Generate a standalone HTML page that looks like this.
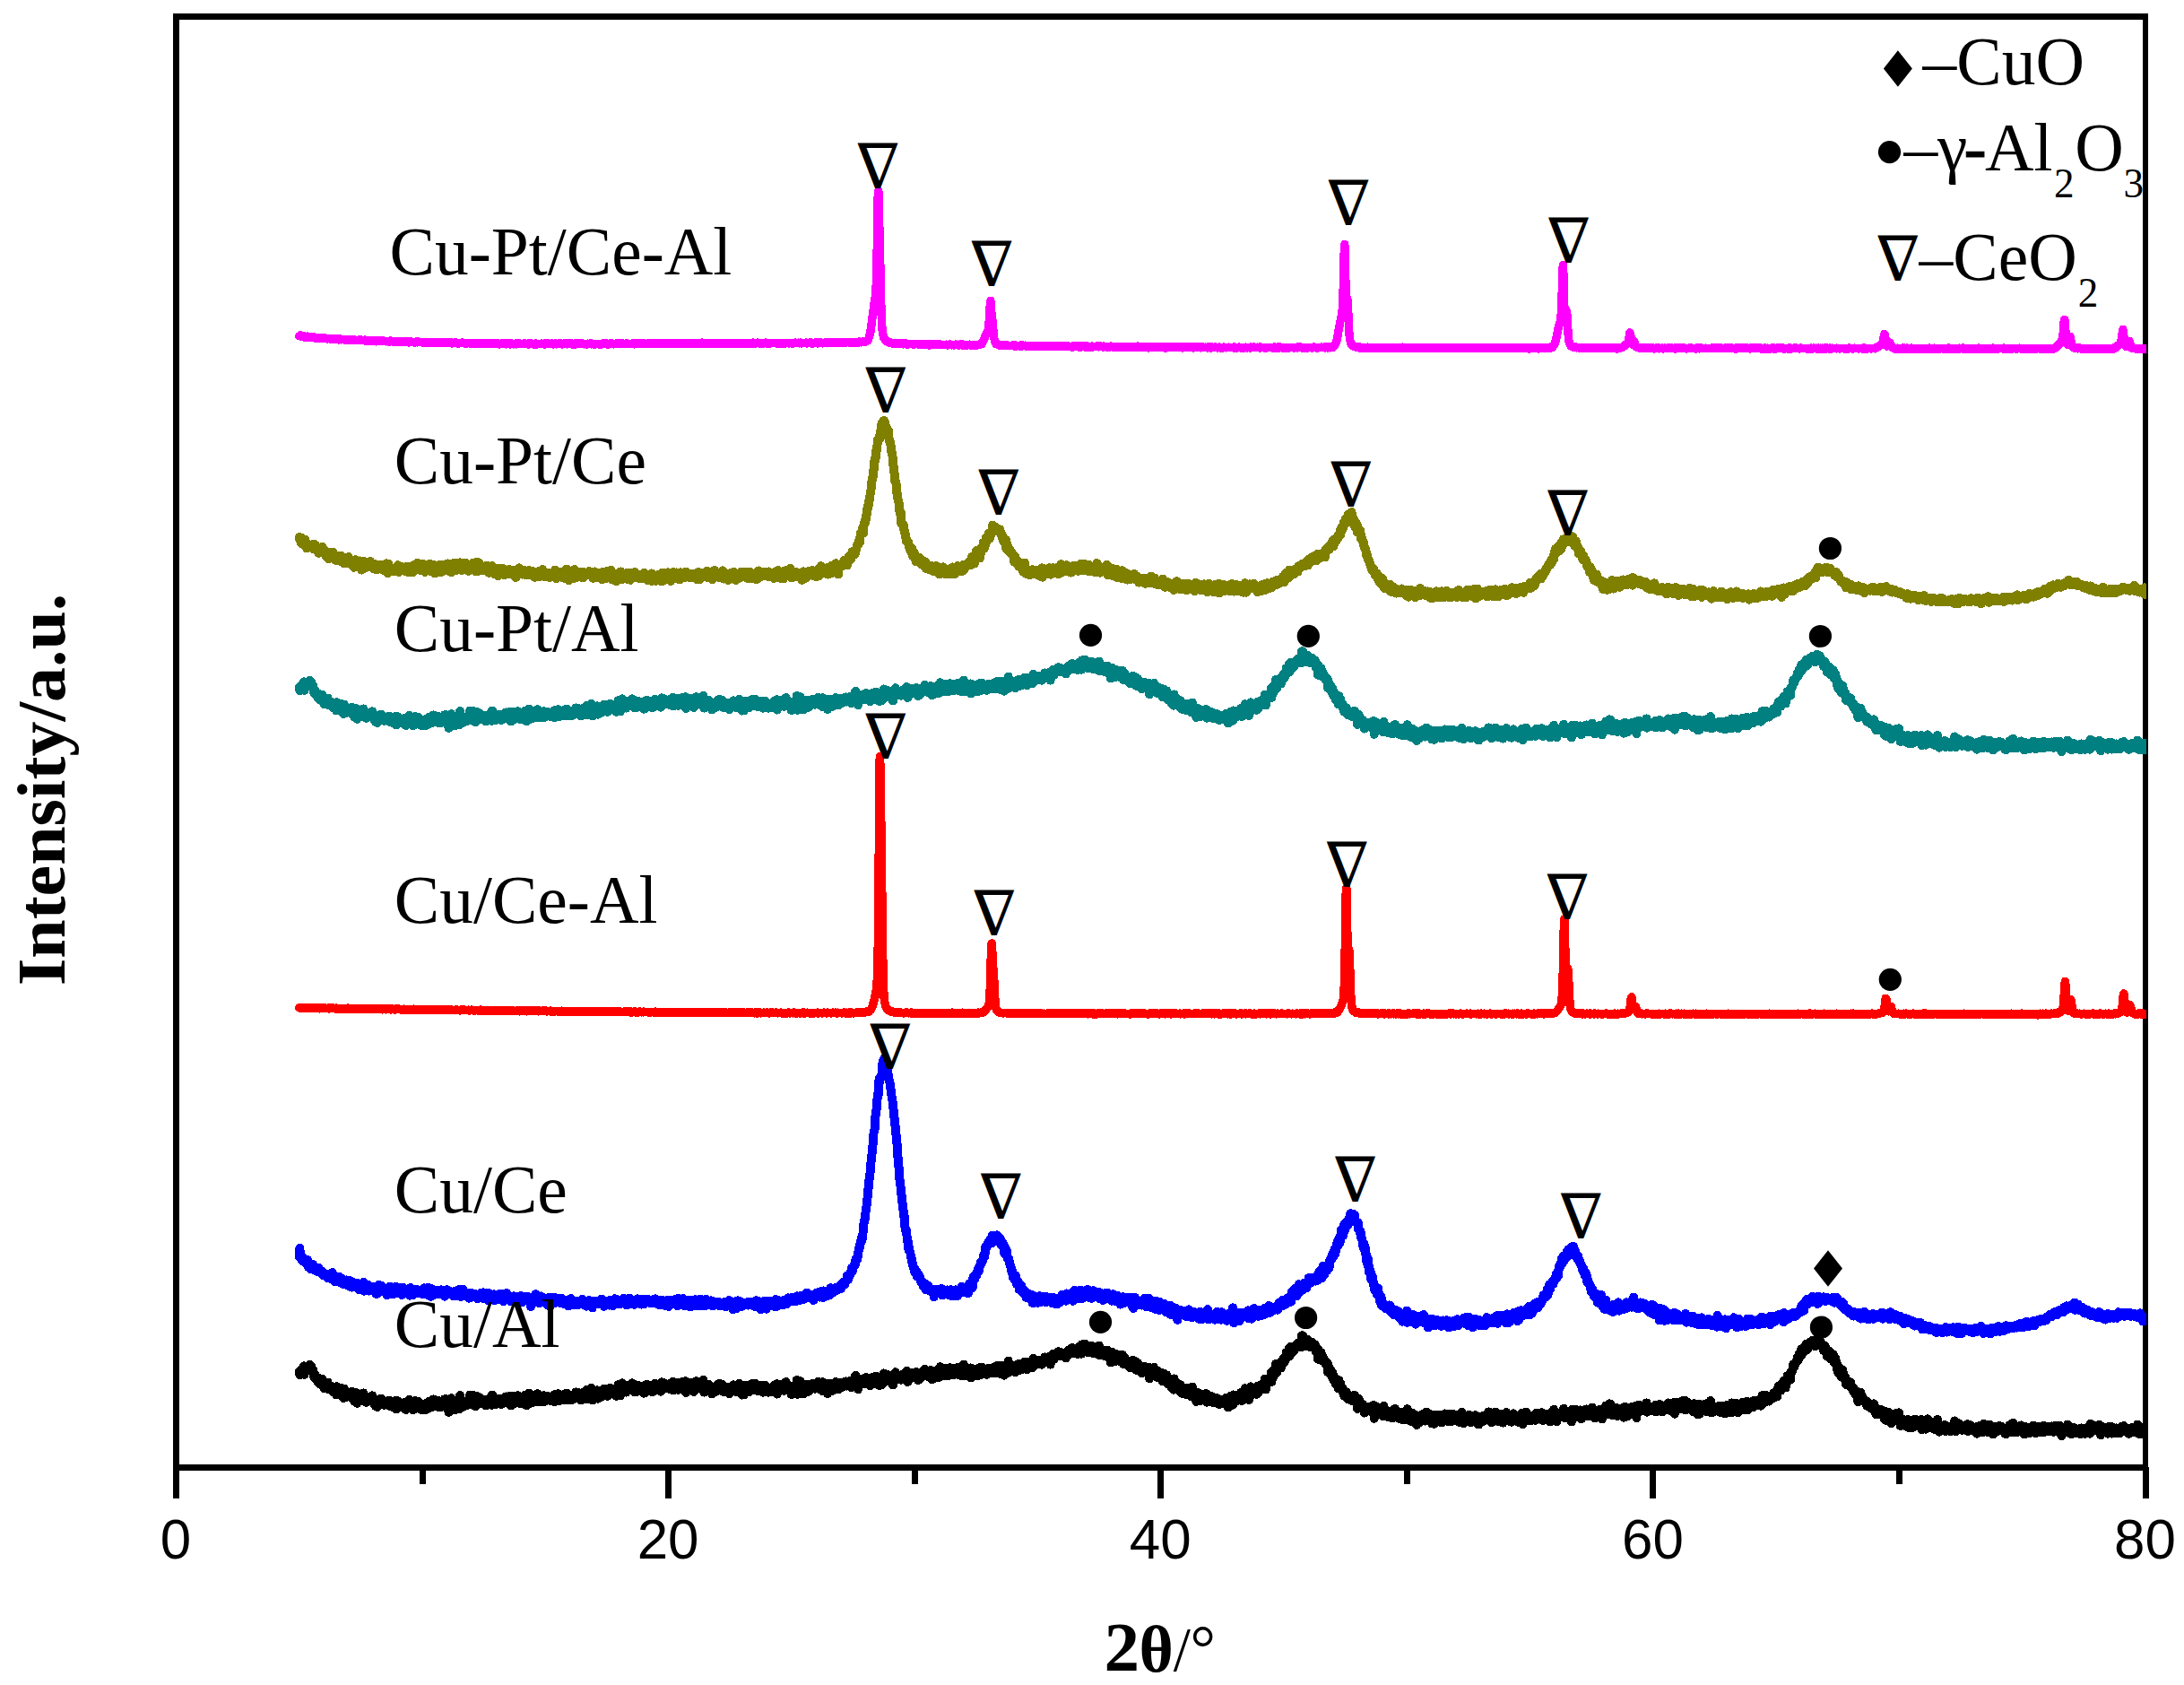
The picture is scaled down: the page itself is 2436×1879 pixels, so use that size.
<!DOCTYPE html>
<html><head><meta charset="utf-8"><title>XRD patterns</title><style>html,body{margin:0;padding:0;background:#fff}svg{display:block}</style></head><body>
<svg width="2436" height="1879" viewBox="0 0 2436 1879">
<rect width="2436" height="1879" fill="#fff"/>
<g stroke="#000" stroke-width="7" fill="none" shape-rendering="crispEdges">
<path d="M196.4 15V1640" stroke-width="6.9"/><path d="M193 18.45H2396" stroke-width="6.9"/><path d="M2392.95 15V1640" stroke-width="6.2"/><path d="M193 1636.45H2396" stroke-width="7.3"/>
<line x1="196.5" y1="1636" x2="196.5" y2="1671"/>
<line x1="471.1" y1="1636" x2="471.1" y2="1655"/>
<line x1="745.6" y1="1636" x2="745.6" y2="1671"/>
<line x1="1020.2" y1="1636" x2="1020.2" y2="1655"/>
<line x1="1294.8" y1="1636" x2="1294.8" y2="1671"/>
<line x1="1569.3" y1="1636" x2="1569.3" y2="1655"/>
<line x1="1843.9" y1="1636" x2="1843.9" y2="1671"/>
<line x1="2118.4" y1="1636" x2="2118.4" y2="1655"/>
<line x1="2393.0" y1="1636" x2="2393.0" y2="1671"/>
</g>
<clipPath id="cp"><rect x="190" y="12" width="2204" height="1630"/></clipPath>
<g fill="none" stroke-linejoin="round" stroke-linecap="round" shape-rendering="crispEdges" clip-path="url(#cp)">
<path id="al" d="M333.8 766.6l.6 3.7l.5-.4l.6-5l.5 .5l.6-.7l.5 2.9l.6-1.9l.5 2.1l.6-7.5l.5 9.4l.6-4.9l.5 1.8l.6-2.9l.5-1.4l.6 1.5l.5 .3l.6-3.5l.5 0l.6 2.6l.5-3.7l.6-.8l.5 6.4l.6-1.9l.5-2.6l.6 3.9l.5 1.7l.6-1.2l.5-.1l.6 5l.5 3.1l.6-2.5l.5-.8l.6 3.8l.5 1.6l.6-2.3l.5 3l.6 2l.5-2.9l.6-1.2l.5 3.9l.6 .2l.5 2.9l.6-6.1l.5 2.2l.6 0l.5-2l.6 5.6l.5 1.5l.6-3.1l.5 6.3l.6-1.3l.5-.2l.6-.3l.5 1.9l.6-6.1l.5 5.7l.6 .2l.5-6.3l.6 6.2l.5-1.4l.6 3.1l.5-3.2l.6 1.4l.5 1.3l.6-3.2l.5 4.4l.6-1.8l.5 1.9l.6-2.6l.5 4.7l.6-1.1l.5-2l.6 2.5l.5 1.9l.6 1.7l.5-9.2l.6 7.1l.5-1l.6-1.3l.5-2.4l.6 6.5l.5-6.8l.6 5.3l.5 2.2l.6-7.9l.5 3.8l.6-2.6l.5 4.5l.6 3.7l.5 1.6l.6-10.5l.5 3.6l.6 3.7l.5 2.6l.6-3l.5-3.2l.6 3.1l.5-.7l.6-.3l.5-1.4l.6 3.3l.5 0l.6-1l.5-.2l.6-2.8l.5 2.4l.6 4.9l.5-3.8l.6-3.3l.5 7.9l.6-2.1l.5 4.5l.6-5.5l.5-1.4l.6-2.6l.5 7.9l.6 3.7l.5-9.4l.6 .6l.5 3.7l.6-3.9l.5 1.7l.6-.1l.5 1.7l.6 2.7l.5-2.9l.6 2.6l.5-3.6l.6 2.3l.5-6.8l.6 2l.5 6.5l.6-3.8l.5 3.4l.6 .1l.5 2.3l.6-1.3l.5 .7l.6-3.1l.5-1.5l.6 .1l.5 .8l.6-1.7l.5 1.8l.6 1.4l.5 1.1l.6-1.6l.5-4.3l.6 5.3l.5 1l.6 2.5l.5-1.3l.6-3.3l.5-.1l.6 7.8l.5-3.4l.6 3.1l.5 1l.6-8.1l.5 3.4l.6 .3l.5 .4l.6 .1l.5-.9l.6 .1l.5-4.6l.6 3.8l.5-1.5l.6 2.5l.5-1.5l.6 3.1l.5 .7l.6-1.3l.5 .1l.6-.5l.5-1.5l.6 .9l.5-.8l.6 2.6l.5-1l.6 1.7l.5-5.3l.6 6.3l.5-4.5l.6 .2l.5 1.6l.6-1l.5 2.5l.6-2.4l.5-1.3l.6 .7l.5 6.1l.6-3.5l.5-3.3l.6 3.3l.5-4.3l.6 9.4l.5-9.2l.6 5.7l.5 .2l.6-5.5l.5 4.9l.6 2l.5-1.4l.6-.6l.5 2l.6-2.2l.5 .6l.6-1.3l.5 2.2l.6-4.4l.5 4.9l.6-3.6l.5-1.6l.6 4.1l.5 3.8l.6-2l.5-4.1l.6 3.4l.5-3.2l.6 1l.5 .6l.6-6.7l.5 7l.6-3.4l.5 .9l.6-2.1l.5-.1l.6 1.6l.5 4.9l.6 2.4l.5-4.8l.6 3.1l.5-3.8l.6-4.6l.5 5.8l.6 .8l.5-2.5l.6 2l.5 .7l.6-4l.5-1.8l.6 3.5l.5 0l.6-.4l.5 3.7l.6 2l.5-6l.6 3l.5 .7l.6-.7l.5 .9l.6-4.1l.5 3.1l.6 3.6l.5-3.5l.6-4.1l.5 3.4l.6 1.8l.5-2.6l.6-2.6l.5 5.8l.6-7.9l.5 4.9l.6-1.5l.5-3.4l.6 6.7l.5-2.5l.6-4.3l.5 4.9l.6-2.9l.5-4.2l.6 3.3l.5 2.7l.6 .9l.5-1.3l.6-.4l.5 1.1l.6-1.9l.5 3.8l.6-2.9l.5 .3l.6 .7l.5-4.5l.6 .9l.5 6.2l.6-3.3l.5-1.8l.6 1.7l.5-2.3l.6 2.1l.5-2.7l.6 2.6l.5-5.2l.6 8.1l.5-5.2l.6-3l.5 3.7l.6-.4l.5 1.4l.6-3.6l.5 4.2l.6 9.1l.5-13.8l.6 4.5l.5-1.9l.6 1.4l.5-5.6l.6 1.8l.5 4.5l.6-1.4l.5 4.6l.6-6.6l.5 2.5l.6 7.6l.5-10.3l.6-.4l.5 2.4l.6-.1l.5 2.5l.6-2.1l.5-2.5l.6 2.7l.5 6.8l.6-3.9l.5-11.3l.6 7.3l.5-2.1l.6 4.2l.5-2.2l.6 5.8l.5-2.8l.6-.1l.5-2l.6-.7l.5 1l.6 2.7l.5-2.2l.6-2.5l.5 4.5l.6-3l.5-.8l.6-2l.5 .6l.6-.2l.5-6.1l.6 10.6l.5-1.2l.6-2.3l.5 3.6l.6-1.8l.5-.2l.6-8l.5 6.3l.6 2.1l.5 3l.6 .6l.5-1.2l.6-7.3l.5-2.9l.6 7.7l.5-1.5l.6 2.6l.5-3.1l.6 1l.5-4.9l.6 5.5l.5-2.6l.6 2.2l.5 .3l.6-1.6l.5 1.2l.6-1l.5 2.2l.6-.8l.5-2.9l.6-.2l.5 6.5l.6-5.2l.5 3.1l.6-1.7l.5-2.7l.6-.6l.5 2.4l.6 .4l.5 1l.6-5.3l.5 1.8l.6 1.4l.5 4.7l.6-11.1l.5 7.8l.6-2.7l.5 2.7l.6-2.7l.5 2.4l.6 3.4l.5-3.5l.6 .2l.5-.1l.6-3.2l.5 3.6l.6-2.1l.5-1.8l.6 2.2l.5-.6l.6 2.8l.5-2.3l.6-1.4l.5 5.6l.6-1.4l.5 .8l.6-1.9l.5-2l.6-.9l.5 .4l.6 3.4l.5-2.4l.6-4.5l.5 4.1l.6-3.9l.5 4.4l.6-3.9l.5-.1l.6 3.8l.5-.6l.6-4.4l.5 6.7l.6 4l.5-10.3l.6 9.3l.5-7.1l.6 .5l.5 .9l.6-3.6l.5 7.7l.6-2.3l.5-3.5l.6 1.3l.5-3.5l.6 3.3l.5 3.6l.6-7.5l.5 3.6l.6 1.6l.5 2.5l.6 .8l.5-5.1l.6-.8l.5 3.3l.6-2.3l.5 .1l.6 3.9l.5 1.7l.6-4l.5-1.3l.6 2.1l.5-6.9l.6 5.2l.5-2.9l.6 9.6l.5-4.7l.6-1.6l.5-1l.6-6.5l.5 9l.6 2.5l.5-6.6l.6 3.9l.5 .1l.6-6.4l.5 7l.6 1.1l.5-3.2l.6-.8l.5 2.3l.6-6.5l.5 4.5l.6 2.7l.5-6.5l.6 6.3l.5-4l.6-4.7l.5 5.5l.6-2.4l.5 3.5l.6-4.2l.5 6.2l.6-5l.5 3l.6-2.7l.5 .8l.6 4.2l.5-2.8l.6-1.7l.5-2.5l.6 6.7l.5-1.2l.6-3l.5 1.6l.6-3.6l.5 0l.6 .5l.5 3.2l.6-.1l.5-3l.6 4.1l.5 .1l.6-1.7l.5 2.3l.6-3.7l.5 .5l.6 1.6l.5-1.5l.6 2.3l.5-5.8l.6 7.5l.5-6.3l.6 1.7l.5-3.4l.6 5.5l.5 1.8l.6-.6l.5-.7l.6-6.7l.5 2.1l.6 .9l.5-1.4l.6 5.7l.5-2.6l.6-.7l.5 1.4l.6-4.1l.5 .1l.6 0l.5 3.9l.6-.5l.5 .6l.6 1.4l.5-6.9l.6 2.2l.5 1.9l.6-4.2l.5 2.2l.6 4.3l.5 .2l.6-.1l.5-3l.6-.7l.5 3.5l.6-4.1l.5 2l.6 2.7l.5-4.8l.6-.7l.5 1.6l.6 1.6l.5-.3l.6-1l.5 1.1l.6-6.1l.5 2l.6 2.8l.5-3.1l.6-1.2l.5 .3l.6 .8l.5 2l.6-2.4l.5 3.4l.6 4.1l.5-5.2l.6 3.9l.5-2.8l.6-4l.5 2.3l.6-2l.5 4.8l.6-5.4l.5 6.8l.6-2.1l.5-7.3l.6 7.8l.5 2.1l.6-6.7l.5 5l.6-7.9l.5 5.7l.6-5.4l.5 5.9l.6-6.4l.5-2.4l.6 8.4l.5 5.2l.6-8.2l.5 4l.6-2.1l.5-1.3l.6 2.5l.5 2.8l.6-8.1l.5 4.9l.6-.7l.5-5l.6 8.4l.5 .9l.6-8.2l.5 7.4l.6-4.8l.5-.7l.6 4.6l.5-3.7l.6 .2l.5 3.2l.6-.7l.5-1.2l.6-6.6l.5-.5l.6 7.4l.5-5.8l.6 2.9l.5-3.6l.6 2.4l.5-3.1l.6 8l.5-7.5l.6 2.4l.5-.3l.6 3.8l.5-7.5l.6 3.8l.5-.6l.6 2l.5-.3l.6-2.7l.5 1.8l.6-1.8l.5 2.3l.6-1.7l.5-1.7l.6 1.7l.5 1l.6 5.2l.5-7.8l.6 2.1l.5 3.1l.6-10l.5 .9l.6 1.4l.5 2.9l.6 7.1l.5-5.8l.6 2.2l.5-4.1l.6-6.4l.5 .3l.6 9.3l.5-2.5l.6-4.2l.5 6.7l.6-7.5l.5 7.4l.6 .8l.5-6.3l.6-1l.5 5.3l.6-5.5l.5 5.5l.6-5.9l.5 5.6l.6-2.1l.5-1.5l.6-1.4l.5 3.1l.6-6l.5 4.5l.6-.4l.5 2.9l.6-5.4l.5 8.3l.6-5.8l.5-2.3l.6 7l.5 .8l.6-5.3l.5-2l.6 2.6l.5-2l.6 1l.5 5.2l.6-3.3l.5-.7l.6 .6l.5-1.2l.6 2.5l.5 .1l.6-3.5l.5 1.3l.6 6.4l.5-5.6l.6-1.7l.5 6.2l.6-5.7l.5-3.1l.6 4.9l.5-4.4l.6 1.1l.5 2.3l.6-1.3l.5-1.8l.6 .6l.5-.2l.6 4.9l.5-5.3l.6 .4l.5 7.3l.6-7.3l.5 5.8l.6-.6l.5-4.1l.6-3.5l.5 5.2l.6 .6l.5 .8l.6-2.5l.5 3.1l.6 .5l.5-6.8l.6 6.9l.5-3.5l.6-2.1l.5 .7l.6 6.1l.5-2.5l.6-7.8l.5 5.2l.6-.6l.5-.1l.6-1l.5-2.6l.6 6.4l.5-5l.6 1.6l.5-.7l.6-.4l.5 4.1l.6-1l.5-3l.6-.7l.5 1.3l.6 4l.5-2.4l.6 .3l.5-1.5l.6 .1l.5 1.4l.6-5.8l.5 9.6l.6-6.7l.5 .6l.6 5.4l.5-3.2l.6-.5l.5-1.7l.6-2.8l.5 4.9l.6 2.8l.5-5.9l.6 6.4l.5-7l.6 1.1l.5 3.5l.6-1.5l.5 2l.6-4.1l.5-.8l.6-2.3l.5 1.8l.6 .4l.5-1l.6 4.9l.5-2.8l.6-3.7l.5 12.6l.6-9.3l.5-1.2l.6 7l.5-.2l.6-6.5l.5-.9l.6 1.3l.5 6l.6-4l.5-1.4l.6 2.2l.5 3.4l.6-7.2l.5 2.8l.6-2.8l.5 10l.6-1l.5-2.4l.6-3l.5 2.2l.6-7.7l.5 6.7l.6-4.5l.5 .1l.6 1.7l.5 1.1l.6 2.6l.5 .4l.6-1.2l.5-3.4l.6 4.6l.5-2.2l.6 3.7l.5-5.9l.6-5.1l.5 6.4l.6 7.4l.5-4.6l.6-1.9l.5 3.1l.6-1l.5-.1l.6-2.7l.5 1.7l.6 .4l.5-2.4l.6-1.2l.5 3.5l.6 2.4l.5-.9l.6-.4l.5 .1l.6 5.9l.5-6.5l.6 2.2l.5 2.6l.6-5.3l.5 .7l.6 2.2l.5 1.8l.6-3.8l.5 .2l.6-.7l.5-3.6l.6 6.5l.5-3.8l.6-4l.5 4.4l.6-4.4l.5 2.1l.6 2.9l.5-2.6l.6 5.6l.5-7.1l.6 4.9l.5 .9l.6 2.5l.5-1.4l.6-1.9l.5-.4l.6-.4l.5 3.4l.6-5l.5 3.3l.6-1.7l.5 1l.6-1.4l.5 6.7l.6-7.8l.5 2.6l.6 .1l.5 .9l.6-.4l.5 0l.6 1.5l.5-6.9l.6 4.2l.5-3.4l.6 4.1l.5-4l.6 .6l.5 2.6l.6 4l.5-2.2l.6-.8l.5 3.1l.6-6.6l.5-3.2l.6 4.7l.5 .4l.6 4.2l.5 2.5l.6-9.7l.5 10.7l.6-2.6l.5-2l.6-1.3l.5 5.7l.6-6.5l.5-1.6l.6 1.7l.5-4.2l.6 5.2l.5-1.7l.6 1.3l.5 0l.6-3.9l.5 6.6l.6-6.5l.5 5.3l.6-6.9l.5 5.5l.6-3.4l.5 2.5l.6-2l.5-4.3l.6 3l.5 3.3l.6 1.6l.5-5.9l.6-1.8l.5 3.5l.6 1.9l.5-1.2l.6-.5l.5 4.6l.6 .3l.5-.6l.6-4.7l.5 2.9l.6-.8l.5-3.5l.6 6.5l.5-2.2l.6-1.6l.5 5.3l.6-1.8l.5 .2l.6 1l.5-1.3l.6-5.6l.5 2.5l.6 3.9l.5-5l.6 2.2l.5 1.1l.6 2.9l.5-.4l.6-1.1l.5-3.1l.6 3.1l.5-1.1l.6-1.9l.5 4.2l.6-2.4l.5-3.5l.6 5.7l.5-4.3l.6 2.4l.5-5.9l.6 4.2l.5-2.6l.6-.1l.5-2.6l.6 11.3l.5-6.4l.6 1.1l.5 2.4l.6-3.4l.5 1.8l.6-5.3l.5 4.4l.6-1.7l.5 2.5l.6-.9l.5-4.4l.6-1.3l.5 2.4l.6 4.9l.5-.9l.6 0l.5-6.8l.6-1.9l.5 5.8l.6 .8l.5-.8l.6 2.7l.5-1.5l.6-2.8l.5 .8l.6 2.9l.5-.2l.6-.5l.5 6.6l.6-7.1l.5 1l.6-3.1l.5 1.7l.6 2.5l.5 .1l.6-2.1l.5 1.5l.6-.9l.5-5.5l.6-3.9l.5 15.6l.6-4.2l.5-2.5l.6-4.7l.5 1.2l.6 7.4l.5-11.7l.6 6.9l.5 3.3l.6-2.1l.5 1.7l.6-2.5l.5 7l.6-9.6l.5-1l.6 4.6l.5 3.2l.6-4.2l.5 3l.6-4.4l.5-1.9l.6 7.2l.5 .4l.6-.1l.5-5.6l.6-2l.5-.1l.6 2.6l.5 2.2l.6-.2l.5-5.5l.6 4.6l.5-.6l.6 .2l.5-.4l.6-.5l.5 2.2l.6-1.4l.5 .3l.6-2.6l.5 3l.6-1.5l.5-5.6l.6 7.2l.5-2.1l.6 3.3l.5-3.1l.6 .1l.5 .8l.6-.7l.5-1.2l.6-3.8l.5 10.1l.6-9.6l.5 3.4l.6 2.7l.5-.8l.6 .5l.5 .5l.6 1.4l.5-2.8l.6 7.3l.5-11.1l.6 3.5l.5-1.7l.6-.6l.5 2.3l.6 3.2l.5-6.1l.6-.1l.5 4l.6-.6l.5 3.9l.6-2.6l.5-2.3l.6-1.6l.5 1.4l.6-1.1l.5-3.4l.6 3.8l.5-.6l.6-.2l.5-.6l.6 5.9l.5-2.9l.6 .7l.5-4.4l.6-1.2l.5 2l.6 1.4l.5-1.7l.6 .4l.5 3.1l.6-1.9l.5-3.6l.6 1.5l.5-.7l.6 2.2l.5-3.8l.6 2.7l.5 2.4l.6-1.9l.5-2.7l.6 .8l.5 2l.6 .9l.5 .9l.6-2.8l.5-3.3l.6 7.6l.5-3.2l.6 .2l.5-.3l.6-3.8l.5 1.9l.6 1.6l.5 2.1l.6-2.8l.5-9l.6 8l.5 1.6l.6 2.6l.5-1.7l.6 4.9l.5-3l.6-.3l.5-1.2l.6-6.6l.5 6.2l.6-.7l.5-3.2l.6 3l.5-.5l.6-2.6l.5 .9l.6-.4l.5 1.3l.6-1.9l.5 2.7l.6-7l.5 4.5l.6-4l.5 3.3l.6 2.8l.5-1.5l.6-.4l.5 .4l.6 4.2l.5-7.6l.6 5.5l.5-6.7l.6 2.8l.5 1.7l.6-2.9l.5 2.9l.6 1.4l.5-5.4l.6 3.1l.5-.9l.6-4.5l.5 4.9l.6-1.8l.5 5.9l.6-6.3l.5 7.2l.6-6.3l.5 6.8l.6-4l.5-.3l.6 .9l.5 .2l.6 1.4l.5 .8l.6-5.9l.5-2.6l.6-4l.5 6.3l.6 3.1l.5-1.1l.6-.8l.5-1.4l.6-.9l.5 .9l.6 1.8l.5-6.1l.6 6.9l.5-6.2l.6 3.6l.5-1.4l.6 .7l.5-2l.6-.4l.5 2.5l.6-2.5l.5 9.9l.6-8.1l.5-.8l.6 .2l.5-1.5l.6-4l.5 6.1l.6 1.5l.5-5.1l.6 4.1l.5-3.5l.6 3.2l.5 1.1l.6 .2l.5-.2l.6-3.3l.5 4.4l.6-3.8l.5 2.2l.6 .9l.5-2.9l.6-2.8l.5 5.2l.6-4.9l.5 .5l.6-.6l.5 5.3l.6-2.9l.5-5.9l.6 8.3l.5 3.7l.6-.9l.5-6.7l.6 1.8l.5 1.1l.6 1l.5-2.5l.6-3.2l.5 5.1l.6-.5l.5-5.5l.6 2.6l.5 1.7l.6-.8l.5 1.4l.6 .7l.5-.8l.6-1.9l.5-3.5l.6 5.4l.5 2.2l.6 1.5l.5-5.7l.6-.1l.5 4.1l.6-.1l.5-3.1l.6 1l.5-4.2l.6 3.7l.5-4l.6 1.8l.5 0l.6-1l.5-4.6l.6 3.5l.5 3.2l.6-1.2l.5-.9l.6 2.2l.5 .7l.6 .4l.5-4.7l.6 2.3l.5-1.1l.6-1.5l.5-1.8l.6 3.8l.5-2.2l.6 8.5l.5-6.4l.6-.4l.5-.5l.6 6.3l.5-7.9l.6 2.2l.5-1.8l.6 1.8l.5 .2l.6 3.1l.5-7l.6 3.8l.5 4.6l.6-6l.5 .9l.6-2l.5-4.9l.6 7l.5 3.6l.6-4.7l.5-3.8l.6 5.9l.5-.6l.6 2.6l.5-.3l.6-3.4l.5 1.9l.6-6.2l.5 8.1l.6-2.6l.5 2.5l.6-.1l.5-3.8l.6 .4l.5-2.1l.6-3.3l.5 5.4l.6 .8l.5-3.5l.6 5l.5-1.8l.6 1l.5-3.4l.6-2.8l.5 7.1l.6-.5l.5-2.1l.6-.9l.5 .4l.6 .4l.5-1.1l.6-4.2l.5 7.8l.6-6.4l.5 3.2l.6 .1l.5 1.6l.6-5.3l.5 7.9l.6-1.6l.5 .3l.6 1.4l.5-5.8l.6-6.6l.5 9.7l.6 2.7l.5-.4l.6-4.8l.5 1.2l.6 1.1l.5-5.9l.6 3.2l.5 0l.6 6.2l.5-6.2l.6 6.2l.5-4.4l.6-4.8l.5 10.9l.6-9l.5 4.5l.6 3l.5-6.3l.6-2l.5 6.4l.6-2.8l.5-3.6l.6 .3l.5 1.9l.6 3.8l.5-3.5l.6 2.6l.5 2.7l.6-1.1l.5 .5l.6-.6l.5-8l.6 7.9l.5-2.6l.6-1.3l.5-2.7l.6-1.4l.5 1.3l.6 3l.5-3.3l.6 1l.5 .5l.6 3.5l.5-2.7l.6 .4l.5 4l.6-4.6l.5 2.5l.6-4.7l.5 3.9l.6-.7l.5 .1l.6-1.8l.5-1.6l.6 1.9l.5-.5l.6 4.2l.5-.4l.6-6l.5 5.1l.6-3.2l.5 2.6l.6-2.7l.5-2.9l.6 6.9l.5-1.6l.6-4.8l.5-1.9l.6 3.8l.5-1.9l.6 2.2l.5 2.7l.6 2.3l.5-5.2l.6 4.8l.5-.7l.6-4.5l.5-3.6l.6 7l.5-.7l.6 4.8l.5-2.7l.6-1.9l.5 2.5l.6-7.8l.5 3.4l.6-1.3l.5 5.5l.6-3.4l.5-10.2l.6 12.3l.5-6.4l.6 4.6l.5-3.6l.6 1.9l.5 1.1l.6-1.4l.5-3.3l.6 6.5l.5-2.9l.6-1.2l.5 1.9l.6-3.6l.5 6.7l.6-4.7l.5 .3l.6-.2l.5-3.6l.6-.8l.5 3.8l.6 .3l.5 2.6l.6-2.6l.5-4.4l.6 4.4l.5 .8l.6 .4l.5-2l.6-4.5l.5 6.5l.6-5.4l.5 3.5l.6-6.1l.5 6.4l.6-4.5l.5 5.1l.6 1.7l.5-1.8l.6-6.7l.5 .4l.6 .1l.5 4.1l.6-1.1l.5-.7l.6 .3l.5 .6l.6 0l.5 2.7l.6-5.1l.5 .6l.6-6l.5 1.3l.6 1.6l.5-1.6l.6 3.8l.5 2.1l.6-4.3l.5-.4l.6-.2l.5 1.6l.6-2.1l.5 2.5l.6-.5l.5-.1l.6 1l.5-2.2l.6 .1l.5 4.4l.6-5.2l.5 2.1l.6-2.2l.5-1.6l.6-.2l.5-1.1l.6 2.1l.5-1.8l.6 .3l.5 4.5l.6-4l.5 3.5l.6-2.6l.5 1.5l.6-4.3l.5 2l.6 6.9l.5-5.2l.6 .3l.5-2.3l.6 1.6l.5-5.8l.6 .8l.5 3.4l.6 1l.5-3.6l.6 .5l.5-.6l.6 .3l.5-2.9l.6-.8l.5 3.6l.6-4.7l.5 2l.6 .7l.5-1.2l.6 3.5l.5-2.1l.6 .9l.5-2.7l.6 .6l.5 3.3l.6-.5l.5-2.5l.6 2.2l.5-.6l.6-.2l.5 3.9l.6-5.8l.5 2.2l.6-.2l.5-1.9l.6-2.8l.5 5.1l.6-1.4l.5-.7l.6-.2l.5-.2l.6-2.7l.5 3.1l.6-6l.5 4.8l.6-4.4l.5 3l.6 2.8l.5-2.9l.6-.8l.5 2.5l.6-2.4l.5-.6l.6-.1l.5 5.1l.6-2.6l.5-.7l.6-4.9l.5 4.9l.6-5.6l.5 4.8l.6-4.6l.5 8.4l.6-10.4l.5 8l.6-1.3l.5-7.3l.6 4.1l.5 4.7l.6-1l.5-7.9l.6 3.1l.5-1.8l.6 .4l.5 1l.6 7l.5-4.8l.6-.9l.5-.3l.6 2.9l.5 .1l.6-4.4l.5 6.8l.6-7l.5 2.4l.6 2.1l.5 3.7l.6-5.6l.5 1.9l.6 3.1l.5-1.8l.6 1.6l.5 0l.6-2l.5 1.2l.6 1l.5-2.4l.6 4.8l.5-9.9l.6 3.2l.5 6.9l.6-2.6l.5-2.8l.6 3.1l.5 2.2l.6-4.4l.5 3.9l.6-2.2l.5 .2l.6 .4l.5 3.5l.6-6.1l.5 2.3l.6 3.1l.5-5.1l.6-.8l.5 6.2l.6-1.4l.5-.2l.6 1l.5-2.9l.6 11.1l.5-10.7l.6 1.7l.5-2.5l.6 3l.5 5.7l.6-4l.5 1.8l.6-2.8l.5 6.6l.6-4.4l.5-3.7l.6 5.9l.5-3l.6 3l.5-1.1l.6 .6l.5-.2l.6-2.6l.5-1.5l.6 7.2l.5-2.9l.6 1.4l.5-1.9l.6-4.1l.5 2.3l.6 7.7l.5-5.8l.6 1.3l.5-2.8l.6 2.9l.5 .6l.6 .7l.5 .6l.6-1.3l.5 .4l.6 1.8l.5 1.2l.6-1.1l.5 5.5l.6-4.1l.5 .1l.6-2.1l.5 5l.6-5.6l.5-1.4l.6 2l.5 4.7l.6-4.7l.5 7l.6-3.5l.5-4l.6 3.9l.5 5.8l.6-7.2l.5-1.1l.6 5.4l.5 2.4l.6-.6l.5-3.6l.6 1.7l.5 .5l.6 2.6l.5 3l.6-6.2l.5 4.2l.6-4.4l.5 2.8l.6-4l.5 .6l.6 3.6l.5-3.5l.6 5.2l.5-3.8l.6 2l.5-.3l.6-.5l.5 1.6l.6 2.8l.5 5.9l.6-11.8l.5 4.4l.6-1.1l.5-1.8l.6 3.6l.5-3l.6 2.5l.5 3.9l.6-8.9l.5 6.6l.6 .8l.5-3.7l.6 4.5l.5-.3l.6-1.7l.5 4.7l.6-6.8l.5 5.8l.6-2.2l.5-2l.6 2.8l.5-.2l.6 3.6l.5-6.1l.6 4l.5-.4l.6 6l.5-7.2l.6 6.4l.5-7.5l.6 6.2l.5-.9l.6 1.8l.5-2.7l.6-3.1l.5 1.5l.6 8.3l.5-2.7l.6-2.6l.5 5.3l.6-4.3l.5 .4l.6-1l.5 7.1l.6 2.5l.5-7.8l.6 3.9l.5 2.3l.6 3.5l.5-12.3l.6 7.5l.5 1.7l.6-5.6l.5 5.6l.6-.3l.5 1.8l.6-3.3l.5 3.1l.6-2.6l.5 3.7l.6-.9l.5-1.3l.6-2.6l.5 8.8l.6-1.2l.5-.4l.6-4l.5 1.1l.6 5.9l.5-2.3l.6-4.2l.5 2.8l.6 .5l.5-.6l.6-1.9l.5 6.5l.6-1.6l.5-2l.6-3.6l.5 3.1l.6 1.9l.5 2.7l.6-3.2l.5 4.3l.6-2.4l.5-2.2l.6-5.5l.5 4.7l.6-.6l.5 4l.6 1.6l.5 3.2l.6-3.7l.5-3l.6 10l.5-5.5l.6-1.4l.5 .2l.6-2.8l.5 5.8l.6-.6l.5 3.6l.6-1.2l.5-.5l.6 1.3l.5-4.2l.6-.3l.5 1.3l.6-3.2l.5 3.2l.6-.4l.5 2.9l.6-1.8l.5-5.2l.6 5.6l.5 3.9l.6-9l.5 3.2l.6 2.2l.5-3.6l.6 2.2l.5 1.8l.6-3.7l.5 4.6l.6 .4l.5-4.6l.6 3.7l.5 3.1l.6-3.4l.5 1.8l.6 .6l.5-2.4l.6 3.5l.5-1.6l.6-3.7l.5 4.3l.6 1l.5-.1l.6-4l.5 3.2l.6 2.6l.5-3.2l.6 2.8l.5 .3l.6-3.7l.5 2l.6-2.6l.5 3.8l.6-3.2l.5-1.3l.6 1.5l.5-.1l.6 1.3l.5 .2l.6-4.5l.5 1.4l.6 2.8l.5 .2l.6-1.1l.5 7l.6-4.3l.5-3.5l.6 2.2l.5 1.6l.6-2.9l.5-6l.6 5l.5-.3l.6 5.6l.5-11.2l.6 9.3l.5-5l.6 2.9l.5-3.7l.6 1.1l.5 2.5l.6-3.1l.5 2.5l.6-3.4l.5-1.1l.6 .3l.5-1l.6 .8l.5 4l.6-7.3l.5-1.6l.6 4.4l.5 4.6l.6-2l.5 .5l.6-.4l.5-5.7l.6 2.1l.5-8l.6 5.6l.5 3.1l.6-6.3l.5-1.6l.6 1.9l.5 4l.6 2.4l.5 3.7l.6-3.5l.5-8.5l.6-2.6l.5 6.7l.6 2.3l.5-7.8l.6 2.8l.5-.1l.6 1l.5-.9l.6 1.7l.5 1.2l.6-3.1l.5 1.6l.6 3.1l.5-8.7l.6-.5l.5 4.1l.6 3.4l.5-5.1l.6 2.2l.5-4.3l.6 3l.5-4.7l.6 3.3l.5-1.2l.6-.4l.5 2.3l.6-1.3l.5-5.1l.6 3.7l.5-7.7l.6 7.1l.5 4.4l.6-6.7l.5-.5l.6-1.8l.5 1.7l.6-4.2l.5 2.6l.6-3.2l.5-1l.6 .9l.5-1.2l.6-5.3l.5 10l.6-6.1l.5-5.8l.6 7.1l.5-3.8l.6-.1l.5 .7l.6-5.1l.5-6.5l.6 7.3l.5 .2l.6 1.5l.5-5.6l.6 .6l.5 1.1l.6-2.7l.5-.6l.6 .6l.5-4.4l.6 6.4l.5-7.8l.6 1.8l.5-1.9l.6-1.9l.5 2.7l.6 .4l.5 .5l.6-3.3l.5-3.7l.6 2.8l.5-7.2l.6 3.4l.5 .5l.6-.6l.5-5.5l.6-1.6l.5 8.2l.6-6.7l.5-3.8l.6 .6l.5 3l.6 2.8l.5-3.7l.6 2.9l.5-3.1l.6 .2l.5 1.1l.6-4.3l.5 1.5l.6-2.3l.5-1.1l.6 3.2l.5-4.5l.6 2.1l.5-2.8l.6 1.6l.5-1.5l.6 4.2l.5-3.2l.6-.2l.5 4.1l.6-13l.5 4.8l.6-4.8l.5 7.5l.6 1.1l.5 .5l.6-1.1l.5-3.3l.6 7.3l.5-4l.6-1.5l.5-2.3l.6 4.5l.5-2.3l.6 .4l.5 2.1l.6 .4l.5-2.5l.6 6.2l.5-5.9l.6 .2l.5 4.5l.6 0l.5 .4l.6-.7l.5 1.9l.6-1.1l.5-2.4l.6 7.3l.5-4.2l.6 2.9l.5 3.4l.6-1.3l.5 8.3l.6-10.8l.5 2.5l.6 3l.5 4.3l.6-3.8l.5-2.6l.6 7.9l.5-5.1l.6 2.8l.5 3.8l.6-3.5l.5 1.5l.6 3.6l.5-.9l.6 2.3l.5-2.4l.6 3.4l.5-1.7l.6-.2l.5 10.3l.6-2.5l.5 2.3l.6-4.1l.5 3.6l.6 .6l.5-2.4l.6 6.6l.5-2.6l.6 2.4l.5-2.8l.6 7.9l.5 .2l.6-.2l.5-2.9l.6 1.8l.5 5.7l.6-3.5l.5 2.3l.6 .4l.5-2.8l.6 8.1l.5-9.1l.6 6.9l.5-.2l.6-3.6l.5 6.2l.6 1.2l.5-.7l.6-1.8l.5 4.2l.6 2.5l.5-1.9l.6 4.8l.5-1.8l.6 .3l.5 2.3l.6-5.2l.5 .9l.6 3.4l.5 .5l.6 3.3l.5-.5l.6-2.3l.5 .6l.6-1l.5 .2l.6 .2l.5 4.3l.6-3.4l.5 .7l.6 1.9l.5-1.5l.6 1.2l.5-5l.6 7.6l.5-1.5l.6 1.8l.5 .9l.6-5.9l.5 12.3l.6-5.9l.5 .5l.6-5.1l.5 7.1l.6-.2l.5-1.8l.6 2l.5 3.3l.6-4.2l.5-1.3l.6 6.6l.5-2.7l.6-1l.5 7.3l.6-5.8l.5-.6l.6 1.4l.5-1.6l.6 1.9l.5 .1l.6-2.1l.5 1.3l.6 1.8l.5 .4l.6 .7l.5 .7l.6-1.3l.5 .9l.6-2.3l.5 .5l.6 3.8l.5-8.3l.6 6.7l.5 8l.6-13.9l.5 9.5l.6-8.9l.5 6l.6 3.7l.5-.2l.6-6.6l.5-1l.6-.2l.5 6.1l.6-2.9l.5 1.2l.6 .9l.5 .5l.6 .5l.5-1l.6-4.8l.5 8.7l.6-11.6l.5 11.3l.6-5.1l.5 1.3l.6-.8l.5 .5l.6 1.1l.5-.6l.6-2.2l.5 5.6l.6-3.9l.5 5.5l.6-4.1l.5-1.4l.6 3.3l.5 1.3l.6-5l.5 1.9l.6 4.9l.5-6.7l.6 .5l.5 2.9l.6-3.7l.5-3.5l.6 2.4l.5 5.7l.6 .9l.5-.1l.6-.5l.5-4.5l.6 5.5l.5 1.4l.6-5.2l.5 4.7l.6-3.6l.5 1.6l.6 .6l.5-5.2l.6 8.3l.5-6.4l.6 2.1l.5-1l.6 2.7l.5 0l.6-1.1l.5 3.9l.6-3.1l.5-1.9l.6-6.9l.5 7.4l.6 0l.5-1.6l.6 .1l.5 4.1l.6 1.3l.5 2.4l.6-2l.5-5.2l.6 2.8l.5-4.5l.6 5.9l.5-1l.6-2.7l.5 1.5l.6-.4l.5-1.1l.6 5.6l.5 5l.6-6.3l.5 .7l.6-2.5l.5-1.4l.6 7.2l.5-7.2l.6 2.2l.5-1.4l.6 2l.5-1.7l.6 1.8l.5-5.2l.6 3.3l.5 4.2l.6-6.7l.5 1l.6 5.8l.5-2.7l.6 1.9l.5-9.2l.6 6.7l.5-4l.6-.3l.5 5.1l.6 2.2l.5-7.5l.6 1.1l.5 1.5l.6 1.3l.5-3.3l.6 10.1l.5-4.7l.6-2.6l.5-.5l.6 8l.5-.2l.6-7.6l.5 2.4l.6 2.5l.5-6.8l.6 1.7l.5 5.5l.6-5.8l.5 .8l.6-2.6l.5 1.7l.6 4.1l.5-4.2l.6-1.4l.5 1.9l.6 6.8l.5-4.5l.6-2.1l.5 2.1l.6 .8l.5-.9l.6-5.4l.5 5.9l.6-1.4l.5 3l.6-6.2l.5 6.7l.6-4.3l.5-3.4l.6 8.6l.5-5.2l.6 2.5l.5-1.5l.6 3.5l.5 0l.6 .1l.5-1.2l.6-6.5l.5-.2l.6 5.3l.5-3.3l.6 4l.5-.8l.6-4.5l.5 1.1l.6-.3l.5 .7l.6 1.9l.5 2.5l.6 1.9l.5-6.5l.6 1.1l.5 6l.6-1.9l.5-1.8l.6-7.3l.5 3.7l.6 3.3l.5-2.1l.6 7.3l.5-5.4l.6 .6l.5-3.9l.6 .1l.5 1.1l.6 .1l.5 1.1l.6 1.7l.5-.3l.6 2.1l.5-6.6l.6 4.4l.5 .1l.6 3.8l.5-5.1l.6 1.5l.5-3.2l.6 3.5l.5-.1l.6-2.9l.5 .5l.6 1.2l.5 1.7l.6-4.9l.5 5.8l.6-3.5l.5 6.4l.6-1.3l.5-5.3l.6-.6l.5 8.7l.6-5.1l.5-.2l.6-2.8l.5 .8l.6 2.7l.5-.6l.6-4.1l.5 5.9l.6-2.6l.5-3.6l.6 5.5l.5-3.3l.6 2.7l.5-3.8l.6 2.6l.5-5.6l.6 5.6l.5-5.3l.6 4.8l.5-7.7l.6 7l.5 2.2l.6-.6l.5 2l.6-6.4l.5 7.4l.6 .1l.5-7.9l.6 1.1l.5 .7l.6 1.5l.5 .6l.6-7.5l.5 8.7l.6-2.4l.5-2.2l.6 5.6l.5-3.7l.6 4.2l.5-1.7l.6-2.4l.5 4.2l.6-1l.5-3.7l.6-3.2l.5 3l.6 3.3l.5-2.4l.6 5.7l.5-4.3l.6-.2l.5 .6l.6-3.6l.5 2.1l.6-1.5l.5-4.8l.6 1.6l.5 7.1l.6-3.3l.5 .8l.6-3.8l.5 2.5l.6 3.9l.5-2l.6-1.7l.5 5.7l.6-4.5l.5-.8l.6 4.2l.5-8.2l.6 6.5l.5-4.8l.6 .9l.5 .3l.6 2.3l.5-.1l.6 .5l.5-.3l.6 3.4l.5 .7l.6-2.8l.5 .2l.6-3.3l.5-2l.6 4.7l.5-1.6l.6 2.3l.5-7.6l.6 12.7l.5-11.2l.6 3.6l.5 2.7l.6-6.7l.5 2.3l.6-4.2l.5 1.6l.6-1.4l.5 5.7l.6 .5l.5-1.8l.6 4.5l.5 .3l.6-4l.5-.6l.6-.2l.5-.6l.6 5l.5-3.1l.6-1.6l.5 .2l.6 2.2l.5-2.7l.6 2l.5-1.1l.6 3.9l.5-.6l.6-7.3l.5 3.5l.6 2.5l.5-3.4l.6 3.6l.5-1.4l.6 .7l.5-1.9l.6 1l.5 .6l.6-5.7l.5 1.5l.6-.3l.5 7.6l.6-3.9l.5 .1l.6-.6l.5-2l.6-.6l.5 4.4l.6-3.5l.5 5.5l.6-3.9l.5-.3l.6-.9l.5 .3l.6 .3l.5 4.2l.6 2.2l.5-9.8l.6 3.9l.5 1.2l.6-4.5l.5 .7l.6 .5l.5-5.5l.6 8.5l.5-2l.6-.1l.5 .5l.6 .4l.5 5.8l.6-6.1l.5 1.9l.6-3.9l.5 2.4l.6-1.9l.5 .5l.6-2.2l.5 .2l.6 3.6l.5 .8l.6-.9l.5-3.2l.6 2.8l.5-8.1l.6 9.8l.5-2.8l.6 .8l.5 2.5l.6-4.5l.5 3.9l.6-4l.5 2.8l.6-2.7l.5 1.9l.6 3.2l.5-5.9l.6 .1l.5 .7l.6 1.8l.5 6.8l.6-9.3l.5-4.2l.6 3.9l.5-2.7l.6 2.9l.5 1.6l.6-2.8l.5 .8l.6-3.4l.5 5.7l.6-2.6l.5 5.1l.6-.1l.5-5.4l.6 1.3l.5 1.2l.6 1.9l.5-6.8l.6 4.4l.5 5.4l.6-5.5l.5 .9l.6-.7l.5-3.4l.6 6l.5-1.9l.6-.4l.5 1.6l.6 .1l.5-7.5l.6 6.6l.5-3l.6 2l.5-2.5l.6-.4l.5 5.1l.6-2.8l.5-.8l.6 0l.5 1l.6-.3l.5-6.7l.6 4.2l.5 1.7l.6 2.8l.5 1.7l.6-6.5l.5 8l.6-5.2l.5 1.1l.6-2.9l.5-.3l.6 5.7l.5-4.7l.6 .3l.5 3.5l.6 1.6l.5-9.1l.6 3.6l.5 .5l.6 5.1l.5 1.8l.6-7.1l.5 1.1l.6 1.3l.5 .8l.6-4.2l.5 3.3l.6-4.5l.5-5.6l.6 3.6l.5 4.4l.6 1.6l.5-8.6l.6 1.2l.5 4.9l.6-9.4l.5 11l.6 1.2l.5-11.3l.6 10.5l.5-2.8l.6 4.5l.5-3.3l.6-1.5l.5 .9l.6 2.3l.5-2.2l.6-.5l.5-4.2l.6 5.3l.5-1.3l.6 5l.5-5.3l.6-.3l.5-1.6l.6 3.8l.5-2.7l.6-1.5l.5 6.4l.6 .4l.5-6.3l.6-1.7l.5 6l.6-5.6l.5 10.2l.6-8.4l.5 3l.6-6.4l.5 3.5l.6 3.1l.5-1.9l.6-2.8l.5 8.3l.6-4.9l.5-2.8l.6-1.1l.5 .9l.6 4.5l.5-6.1l.6 2.2l.5-2.5l.6 5.8l.5-4l.6 2.8l.5-.9l.6-3.3l.5 3.5l.6 .6l.5-5.9l.6 5.2l.5 7.9l.6-10.9l.5 2.6l.6-5.6l.5 5l.6-3l.5 3.7l.6-2.3l.5-3.2l.6 6.3l.5-3.7l.6-2.3l.5 3l.6-3l.5 3.8l.6-1.3l.5-.9l.6 2.9l.5-5.5l.6 6.3l.5-8.5l.6 10.2l.5-4.1l.6-1.2l.5-1.4l.6 3.6l.5-2l.6-.1l.5 3.4l.6-4.2l.5 .6l.6 1.8l.5 1.8l.6-3.4l.5 .8l.6-.3l.5 1.9l.6 2.1l.5-6.9l.6 2.3l.5 .2l.6 1.8l.5 2.6l.6-4.4l.5 .7l.6 2.6l.5-6.8l.6 1.3l.5 .9l.6 1.3l.5 .6l.6-2.1l.5 6.4l.6-7l.5 1.4l.6 3.6l.5-.9l.6-2.2l.5 1.1l.6 1.2l.5-2.4l.6 1.9l.5-4.5l.6 2.8l.5-4.9l.6 2.2l.5-.8l.6 6.8l.5-4.9l.6 2.2l.5-3.5l.6 2l.5-.2l.6-1.7l.5 4.9l.6-7.2l.5 6.5l.6 5.8l.5-9.9l.6 2.4l.5-4.6l.6 4.4l.5-4.9l.6 6.7l.5-3.2l.6-3.9l.5 1.6l.6-.9l.5 3.7l.6 3.2l.5-3.5l.6-2.3l.5 1l.6 2.7l.5-7.3l.6 8.6l.5-.5l.6-8.2l.5 10.4l.6-8.1l.5 4.1l.6 3.9l.5-8l.6-.6l.5 2.1l.6 .1l.5 2.7l.6-1.1l.5 .1l.6 .1l.5 .8l.6-1.9l.5 3.4l.6-.9l.5-2.8l.6 8.1l.5-8.8l.6 5.8l.5-4.2l.6 3.2l.5 .5l.6 1.1l.5 1.6l.6-6.4l.5 10.6l.6-6.9l.5-3.4l.6-1.5l.5 10.6l.6-1.9l.5-4.7l.6 2.3l.5 1.6l.6-3.4l.5-1.4l.6 1.2l.5 2.5l.6-2.3l.5-3.5l.6 5.8l.5-7.1l.6 2.9l.5 5.7l.6-2.8l.5 0l.6-.3l.5 2.7l.6-3l.5-5.4l.6 6.3l.5-9.4l.6 2.9l.5 10.5l.6-1.6l.5-4.2l.6 1.1l.5 .5l.6 2.7l.5-5.1l.6-.3l.5 .8l.6 2.2l.5 .3l.6-1.8l.5 3.3l.6-5.1l.5 2.7l.6-1.8l.5-.9l.6 6.4l.5-4.4l.6-2l.5 2.9l.6-3l.5 4.6l.6 .7l.5 .5l.6-6l.5 2.5l.6 5.7l.5-5.9l.6 4.2l.5 .7l.6-8.4l.5 7.4l.6-1.4l.5 .3l.6 2.3l.5-3.6l.6-1.2l.5 1.5l.6-2.8l.5 2.3l.6-7.2l.5 10.6l.6-6.5l.5 3l.6-.8l.5-.6l.6-.1l.5-.2l.6-5l.5 3.1l.6 4.9l.5-6.5l.6-.1l.5 8.9l.6-2.6l.5 .9l.6-4.6l.5 .7l.6 1.3l.5-.7l.6-1.9l.5-4l.6 1.9l.5-2.3l.6 8.7l.5-5.7l.6 .5l.5 1.2l.6-.8l.5 1.3l.6-3.4l.5-2.6l.6 9.2l.5-7.1l.6 .5l.5-1l.6 .6l.5 1.5l.6 2l.5-5.3l.6 3.7l.5-2.8l.6 5.2l.5-7.1l.6 3.7l.5 1.6l.6-6.1l.5 4l.6 0l.5-2.8l.6 1.4l.5 3.3l.6-2.3l.5-2l.6 .4l.5 1.7l.6 2.1l.5-1.5l.6-.4l.5 2.2l.6-9l.5 .1l.6-2.6l.5 8.6l.6-9.1l.5 6.1l.6 2.1l.5-6.4l.6 1.9l.5 .9l.6 2.5l.5-6.6l.6 4.9l.5 .8l.6-1.8l.5-.2l.6 2.7l.5-3.2l.6-1.1l.5-1.2l.6 2.4l.5-3.1l.6 2.2l.5-2l.6 2.5l.5-5.9l.6 1.9l.5 .3l.6-.4l.5 1.5l.6-2.6l.5 .9l.6 2.4l.5-3.7l.6-6l.5-1.6l.6 5.3l.5-3.6l.6 1.3l.5-1.9l.6 3.5l.5-.9l.6-7.2l.5 3.3l.6-2.3l.5-3.5l.6 4.8l.5-3l.6 .9l.5 4.9l.6-4l.5-1.4l.6-5.1l.5-3l.6 5.9l.5-5.2l.6 .1l.5-2.1l.6 .5l.5 5.5l.6-8.5l.5-.8l.6 .4l.5-.7l.6-5.1l.5-2.5l.6 2.4l.5 .1l.6-2.6l.5-1.6l.6-1l.5 .5l.6-.4l.5-5.4l.6 1.8l.5 1.4l.6-2.5l.5-4.6l.6 1.7l.5-.1l.6 1.1l.5-7.7l.6 5.6l.5-4.1l.6 1.1l.5 .7l.6-5l.5-.3l.6 1.4l.5 1.9l.6-4.1l.5-2.9l.6 1.5l.5 2.6l.6 1.7l.5-5.2l.6 .1l.5 0l.6-.3l.5-2.7l.6 1.1l.5 1.5l.6-.7l.5-.5l.6-3.2l.5 1l.6-.7l.5 4.7l.6 1l.5-3.3l.6 3.4l.5-5.4l.6 0l.5-2.8l.6 4.3l.5-1.9l.6 1.7l.5 1.4l.6-1.8l.5-2.1l.6 3.5l.5 .3l.6 .8l.5 2.4l.6-1.9l.5 .4l.6 6.2l.5-1.2l.6-2.6l.5-1.6l.6 2l.5 3l.6 2l.5 5l.6-6.7l.5 1.7l.6-.7l.5 1.9l.6-.6l.5-1.2l.6 6.6l.5-1.7l.6 4l.5-4.1l.6 3l.5 2l.6-6.1l.5 2.4l.6 6.7l.5-.9l.6-4.4l.5 3.9l.6 .1l.5 2.5l.6 6.5l.5-4.9l.6 8.1l.5-5.5l.6-.4l.5 7.2l.6-.9l.5 2l.6 2.4l.5-1.6l.6 1.3l.5-7.3l.6 3.3l.5 4.4l.6 .1l.5 2.3l.6-2.5l.5 5.2l.6 3.4l.5-3.2l.6 1.5l.5-.1l.6 2l.5-1.2l.6-1.2l.5 2.7l.6 .5l.5-3.7l.6 5.6l.5 .2l.6 1.2l.5-1.4l.6 3.6l.5 1.1l.6-3l.5 3.6l.6 1.9l.5 .6l.6-3.9l.5 .4l.6 3.6l.5-2.3l.6 10.5l.5-8.5l.6 .7l.5 4.6l.6-2.5l.5-4.6l.6 6.7l.5-1.7l.6 1.8l.5-2.5l.6 2.5l.5 2.6l.6 .7l.5-2.4l.6 1.6l.5 .1l.6 3.2l.5-.4l.6-2.6l.5 5.7l.6-3.3l.5 3.5l.6-3.2l.5 3.7l.6-.7l.5 .9l.6 1.6l.5 .2l.6-.3l.5 .3l.6-3.6l.5 3.7l.6-5.5l.5 .2l.6 5.7l.5 .6l.6 5l.5-1.9l.6 1.5l.5-3.6l.6 2.3l.5 2.3l.6-1.5l.5-.2l.6-.4l.5-2.5l.6 .3l.5-1.2l.6 5.3l.5-1.6l.6-.8l.5 3.1l.6-2.4l.5 4.7l.6 2.7l.5-3.8l.6-2.9l.5-2l.6 9.9l.5-4.1l.6-4.3l.5 6.4l.6-7.3l.5 3.6l.6 .7l.5-.1l.6-1.9l.5 9.9l.6-7.5l.5 2.3l.6-.7l.5-4.3l.6 3l.5 2.3l.6 2.1l.5-3.3l.6 2.1l.5-1.7l.6 2.7l.5-8.3l.6 8.6l.5-3.2l.6 .3l.5-6.1l.6 5.1l.5 4.7l.6 4.8l.5-8.1l.6 .3l.5 3.3l.6-.4l.5-2.3l.6 1.3l.5-.4l.6 2.9l.5 .6l.6 2.8l.5-2.2l.6-.5l.5-1.3l.6 2.3l.5-5.1l.6 8.7l.5-5l.6 3.2l.5-5.9l.6 5.1l.5-1.6l.6-1.4l.5-1.2l.6-.5l.5 7.4l.6-1.4l.5-2.9l.6 .3l.5-2.4l.6-2.9l.5 .3l.6 3.3l.5 1.3l.6-2.6l.5 5.4l.6-.7l.5-.8l.6-5.1l.5 4.3l.6 .6l.5-3.3l.6-2.4l.5 11.2l.6-3.4l.5-2.7l.6 5.5l.5-1.3l.6-1.7l.5-.5l.6 1.6l.5 1.9l.6-3.7l.5-.8l.6 2.3l.5-9.1l.6 7.9l.5-1.3l.6 1.1l.5-.4l.6 1.5l.5-.6l.6 0l.5-.5l.6 1.6l.5-2.5l.6 4l.5-7.1l.6 5.2l.5 .7l.6-4.6l.5 2.3l.6 4.8l.5-3.9l.6-1.9l.5-5.6l.6 8.9l.5-.6l.6 1.4l.5 3.9l.6-5.4l.5 .4l.6-2.1l.5 1.7l.6 .1l.5 2.1l.6-.5l.5-3.4l.6 .8l.5 5l.6-6.2l.5 4.6l.6 2.3l.5-2.5l.6-1l.5 3l.6-2.7l.5-.9l.6-.5l.5 3.6l.6-1.1l.5 2.3l.6-5l.5 .1l.6-.3l.5 1.9l.6-2.5l.5 4.3l.6-1.5l.5-3.5l.6-5.2l.5 3.1l.6 8.6l.5-3.9l.6 .6l.5-1.5l.6 2.2l.5-6.1l.6-.2l.5 1l.6 4.5l.5 1.7l.6-.6l.5-1.5l.6-3l.5 5.4l.6-2.8l.5 .7l.6-.1l.5-1l.6-.6l.5 .3l.6-1.8l.5 4.1l.6-1.1l.5 3.1l.6-7.4l.5 7.9l.6-3.3l.5-.2l.6-1.7l.5 0l.6-1.7l.5 6.2l.6-2.8l.5 2.4l.6 .3l.5-3.4l.6 .7l.5-.3l.6 3.6l.5-2.3l.6 .1l.5 1.4l.6-2l.5 5.5l.6-7.7l.5 5.7l.6 .4l.5-6.6l.6 5.2l.5-1.5l.6 1.6l.5-5.4l.6 3.8l.5-3.2l.6 1.7l.5 4.6l.6-4l.5-5.5l.6 2.2l.5 .7l.6 5.6l.5-4.4l.6-2.2l.5 6.9l.6-2.2l.5 .2l.6-2.9l.5 5.7l.6-3.9l.5-4.8l.6 2.2l.5 .8l.6 1.7l.5 2.4l.6-3.8l.5 .4l.6 7.1l.5-5.4l.6-1.5l.5 1.4l.6-3.2l.5 4.5l.6 1.1l.5-3.9l.6 4l.5-3.2l.6 1.5l.5-2.7l.6-.1l.5-1.8l.6 4.4l.5-1.2l.6 0l.5-2.2l.6 0l.5 1.3l.6 2.8l.5-.4l.6-2.5l.5 2.5l.6 3.7l.5-4.2l.6 4.9l.5-4l.6 2.3l.5-4.7l.6 4.3l.5-6l.6 3.7l.5-1.5l.6-4.2l.5 1.6l.6 6.3l.5-1.6l.6 2l.5-2.7l.6-7.8l.5 7.9l.6-2l.5 .1l.6 .2l.5-.8l.6-.5l.5 5.5l.6-1.9l.5-2.8l.6 .6l.5 3.5l.6-1.5l.5-.5l.6-3.5l.5 2l.6-1.8l.5-1.9l.6 7l.5-3.1l.6-.2l.5-1.3l.6 4.3l.5 3.3l.6-3.8l.5 .9l.6-5.4l.5 3.5l.6 .1l.5 3.2l.6-3.7l.5-2.4l.6 2.2l.5-.9l.6 4.7l.5-2l.6-.8l.5-.4l.6 1.7l.5-3.4l.6-1l.5-2.4l.6 7.6l.5-1.7l.6 .4l.5-1.5l.6 4l.5-6.6l.6 5.5l.5-5.1l.6 .9l.5-1.9l.6 3.3l.5-1l.6 1.8l.5-2.5l.6-2l.5 4.9l.6 1.8l.5-1.4l.6-2l.5 1.2l.6-5.3l.5 3.4l.6 3.7l.5-1.7l.6-3.3l.5 4.3l.6-2.5l.5 2.2l.6-5.4l.5 2.2l.6 2.2l.5-.1l.6 .6l.5-1.4l.6-.5l.5 1.7l.6 1l.5-5.9l.6 2.9l.5 .3l.6 .9l.5 2.2l.6-5.9l.5 4.7l.6-5.7l.5 2.5l.6 .5l.5 .7l.6-.9l.5 .3l.6 .4l.5 .2l.6-4l.5 1.2l.6 2.4l.5 2.4l.6 1.1l.5 4.7l.6-6.9l.5-2.2l.6 2.4l.5 1.2l.6-1.3l.5-3l.6 2.4l.5 .1l.6-3.4l.5 .5l.6 6l.5-8.5l.6 6l.5-1.1l.6 4.1l.5-1.9l.6-3.7l.5 5.3l.6-4.5l.5 6.3l.6-.8l.5-4.3l.6 2.1l.5-1.5l.6-2.7l.5 4.9l.6-1.6l.5 1.1l.6 .5l.5 .9l.6-1l.5-2.8l.6 .5l.5 .8l.6-1.3l.5-.3l.6 5.2l.5-3.4l.6 3.5l.5-6.6l.6 1.8l.5-1l.6 .1l.5 .3l.6 .4l.5-.8l.6 5.6l.5-2.8l.6-3.6l.5 .5l.6 3.2l.5-.5l.6-2.8l.5 3.8l.6-5.9l.5 2.4l.6 5.5l.5-10.8l.6 6l.5 2.9l.6-2.8l.5-1.5l.6-.3l.5-2.9l.6 1.8l.5 3.5l.6-1.6l.5 1.4l.6-.3l.5 1l.6-4.8l.5 3.4l.6-.1l.5 .1l.6-1.4l.5-3.3l.6 7l.5 .5l.6 3.8l.5-4l.6 2.3l.5-2.6l.6-2.4l.5 2.1l.6-4.1l.5 3.5l.6-.8l.5-2.4l.6 5.7l.5-.3l.6-1.6l.5 .9l.6 2.1l.5-4.4l.6-3.1l.5 1l.6 4.1l.5-1.1l.6-4.2l.5 6.9l.6-2.7l.5 3.5l.6-1.2l.5-3.9l.6 1.3l.5-2l.6-.3l.5 1.4l.6 2l.5 2.1l.6-5.5l.5 3.9l.6-1.6l.5-.6l.6 3.3l.5-3.6l.6 4.3l.5-4.3l.6-1.4l.5 4.2l.6-5.5l.5 .7l.6 2.5l.5 .5l.6-.7l.5-4.2l.6 1.6l.5 4.6l.6 .1l.5-3.9l.6 3.2l.5-.1l.6 2l.5-4.3l.6 5.4l.5-4.3l.6 4.3l.5-1.3l.6-4.8l.5 1.8l.6 1.5l.5 1.8l.6-5.9l.5 2.2l.6 2.8l.5-.4l.6-3.7l.5 .3l.6 3.4l.5-3.6l.6 3.1l.5 1.7l.6-2.2l.5-6.7l.6 9.6l.5 0l.6 .6l.5-1.3l.6-6.4l.5 7.8l.6-2.7l.5 1.5l.6-2.7l.5-.2l.6 0l.5 4.6l.6-3.3l.5-1.1l.6-2.7l.5 4.4l.6-1.2l.5 .4l.6 2.1l.5-.7l.6-1.7" stroke="#000" stroke-width="10" transform="translate(0,763)"/>
<path d="M333.8 1401.1l.6-9l.5 9l.6-1l.5 3.4l.6-1.1l.5 3.7l.6-2.8l.5-.4l.6 2.9l.5 .3l.6-1l.5 .8l.6 2.4l.5 .5l.6-1.9l.5 .7l.6-2.4l.5 7.5l.6-3.4l.5 3.5l.6-1.4l.5 3.5l.6-.5l.5-2l.6 2.7l.5-4.5l.6 4.8l.5-5.2l.6 4l.5 1.8l.6-1.3l.5-.9l.6-.5l.5 1.2l.6 3.1l.5 0l.6-2l.5-1.7l.6 4.2l.5-4l.6 2.2l.5-.1l.6 3.2l.5-.7l.6 .8l.5-.1l.6-1.6l.5 2.7l.6 2l.5-2.6l.6 1.6l.5-1.2l.6 2.6l.5-.5l.6 .7l.5-.8l.6 2.9l.5-3.8l.6 .4l.5-.3l.6 2.7l.5-2.3l.6 .3l.5 3l.6 1.1l.5-1l.6-6.3l.5 3.7l.6 0l.5 0l.6 1.8l.5 4.7l.6-4l.5-.7l.6 3.1l.5-1l.6 .3l.5-1.4l.6 1.6l.5 1l.6-4.5l.5 .8l.6 5.6l.5-.3l.6-2.5l.5-.9l.6 1.9l.5-1.9l.6 1.9l.5 4.2l.6-2.9l.5 2.2l.6-2.6l.5 1.4l.6 2.2l.5-5.3l.6 2.1l.5 .5l.6 1.1l.5 2.7l.6-1.6l.5-4.3l.6 2.6l.5-1.1l.6 .1l.5 6.1l.6-6.1l.5 2.7l.6-1.7l.5 3.3l.6-.9l.5-.4l.6-.2l.5 2.5l.6-4l.5 .5l.6-.6l.5 5l.6-3.1l.5-1.4l.6 1.3l.5 6l.6-5.1l.5 2l.6-.6l.5-.9l.6-1.2l.5 .8l.6 .1l.5-3.6l.6 9.7l.5-3.2l.6-1.5l.5-.6l.6-1.1l.5 3.6l.6-2.1l.5 1.4l.6-3.6l.5 3.6l.6 3.4l.5-4.5l.6 2.3l.5-1.5l.6 2.3l.5 0l.6-1.9l.5-1.1l.6 1.8l.5-.4l.6-1.3l.5 2.3l.6 .1l.5-2.6l.6 1.7l.5 6.2l.6-4.2l.5-1.3l.6 4.9l.5-5.8l.6-4l.5 1.2l.6 .9l.5 3.7l.6 1.5l.5-6.2l.6 6.7l.5-4.7l.6 3.1l.5 .5l.6 0l.5-.7l.6 .4l.5-2.6l.6 2.9l.5 1.5l.6 0l.5 3.4l.6-3l.5-.6l.6 1.9l.5-2.8l.6-3l.5-1.9l.6 7.2l.5-1.4l.6 .6l.5-2.4l.6 1.5l.5 3.1l.6-3.1l.5-2.9l.6 1.4l.5 3.7l.6-4.9l.5-3l.6 .6l.5 2l.6 4.3l.5-1.4l.6-1.6l.5-1.1l.6 2.4l.5 0l.6-.8l.5 .7l.6-1.1l.5 5.2l.6-8.3l.5 5l.6-2.3l.5 3.5l.6-1.8l.5 1.2l.6 .4l.5-.7l.6 1.6l.5-4.7l.6 4.7l.5-2.3l.6 1.2l.5 2.4l.6-.8l.5 1.7l.6-8.5l.5 2.6l.6 3.9l.5-4.2l.6 2l.5 3.8l.6-1.7l.5-3.7l.6 2.9l.5 .4l.6-1.1l.5-.3l.6 .5l.5-3.3l.6 3.3l.5-2.2l.6 2.8l.5 .1l.6-2.7l.5 3.1l.6-.5l.5-.8l.6 1.6l.5-2.1l.6 0l.5 .8l.6-.3l.5 2.5l.6-7.1l.5 4.2l.6-3.4l.5 3l.6 1.5l.5-.4l.6 1.9l.5-1.3l.6-6.2l.5 3.3l.6 5.5l.5 0l.6-3l.5-3.3l.6 7.6l.5-8.6l.6 4.8l.5-.7l.6 .6l.5-2.8l.6 1.6l.5 3l.6-3.2l.5-1.8l.6 2.8l.5 .3l.6-.5l.5-1.3l.6 2.7l.5-1.3l.6-2.1l.5 2.9l.6-.5l.5 .4l.6-3.7l.5 1.9l.6 2.5l.5 1l.6-1.2l.5-.3l.6 1.2l.5 .6l.6 1.6l.5-2.6l.6-2.1l.5 2.2l.6-4.9l.5 4.1l.6-1l.5 .9l.6 1.1l.5-.8l.6-3l.5 2.2l.6-.9l.5 1.7l.6 .8l.5-2.7l.6 3.5l.5 1.2l.6-3.2l.5 2.1l.6-4.5l.5 2l.6 3.1l.5-5.5l.6 2.6l.5-.8l.6 4.2l.5 0l.6-3.5l.5 1.5l.6-5.5l.5 7l.6-.9l.5 2l.6-7.5l.5 5.6l.6-1.4l.5-4.6l.6 4l.5 1.2l.6 1.9l.5-1.2l.6-1.4l.5 2l.6-1.1l.5-1.1l.6-.7l.5 2.4l.6 0l.5 3.5l.6-4.6l.5 4.2l.6-2.5l.5 1.7l.6-4.2l.5 .1l.6 1.2l.5 2.5l.6-1.4l.5 1.2l.6-.9l.5 1.5l.6-1.6l.5-1.5l.6 2.2l.5-.9l.6 3.5l.5-3.9l.6 .6l.5-.8l.6 3l.5-.5l.6-.5l.5-3.8l.6-.5l.5 3.7l.6 .9l.5 1.6l.6-6.6l.5 3.3l.6-3l.5 1.5l.6 1.6l.5 2.4l.6-3l.5-.3l.6 .8l.5 3.2l.6 2.4l.5-8l.6 2.6l.5-.2l.6 3.3l.5-1.5l.6 2.3l.5-5.2l.6 2.2l.5-1l.6-1.2l.5 1.9l.6-2l.5 6.8l.6-3.5l.5-2.9l.6 .9l.5 4.8l.6-4.5l.5 2.5l.6-.2l.5 1.1l.6-.9l.5-1.7l.6-.7l.5-2.4l.6 3.5l.5 .5l.6-1l.5 .5l.6-2.2l.5 7l.6-5.4l.5-1.1l.6 1l.5 .9l.6 1.9l.5-6.4l.6 6l.5-2.3l.6 1l.5 2.4l.6-.4l.5-2.9l.6 1.2l.5 4l.6-1l.5-.9l.6-1.7l.5 2l.6-1.1l.5-1.9l.6-.9l.5 3.1l.6-.2l.5 1.7l.6-3.4l.5 3.9l.6-3.6l.5 3.4l.6-1.4l.5-2.3l.6-.7l.5 1.8l.6-.3l.5 2.5l.6-3.3l.5-1.5l.6 3l.5 4l.6-.6l.5-4.5l.6 .7l.5 1.3l.6-2l.5 .9l.6 0l.5-1.6l.6 .9l.5 .4l.6 1.5l.5-2.9l.6 2.7l.5-2.2l.6 .4l.5-.6l.6 10.5l.5-5.6l.6 .2l.5-1l.6-2.1l.5 .7l.6 .4l.5 .4l.6 .3l.5 2l.6-9.1l.5 4.9l.6 2.6l.5-2.1l.6 .4l.5 3.4l.6-2.6l.5 3.3l.6-3.7l.5 .6l.6-2.6l.5-1.9l.6 3.3l.5 1l.6-.8l.5-2l.6 4.1l.5-1.2l.6 0l.5-1.6l.6 5l.5-.3l.6-2.4l.5-.8l.6 .8l.5 3l.6 2.3l.5-5.7l.6-.8l.5-2.8l.6 9.4l.5-7.9l.6 4.1l.5-.8l.6 1.8l.5-4.5l.6-1.5l.5 3.7l.6 .6l.5 1.5l.6-5.7l.5 2.5l.6 .5l.5-2.2l.6 2.4l.5 2l.6-1.6l.5-2.9l.6 3.7l.5 1.1l.6-.6l.5 .6l.6-5l.5 4.4l.6 .3l.5-2l.6 .7l.5-1.4l.6 4.1l.5-3.1l.6-1.2l.5 2.3l.6-.1l.5 1.2l.6-3.1l.5 .4l.6 2.2l.5 3.8l.6-3.6l.5-3.7l.6 3.2l.5-1.9l.6-2.2l.5 2.4l.6 .3l.5 2l.6 1.9l.5-.3l.6-.7l.5-2.5l.6 1.2l.5-.3l.6 2.9l.5-4.2l.6 .3l.5 4.2l.6-1.9l.5-2l.6 1.2l.5 0l.6 .1l.5 1.3l.6-.9l.5-1.1l.6-.6l.5-2.5l.6 2.6l.5 3.3l.6-1.9l.5-1.8l.6 .9l.5-1.3l.6 2.4l.5 3.5l.6-.4l.5-1.2l.6-.9l.5-2.1l.6-2l.5 2.5l.6-.9l.5 2.6l.6-1.4l.5-1.5l.6 2.1l.5 5.1l.6-7.8l.5 4.1l.6-1.1l.5-1.4l.6-1.4l.5 1.6l.6 .4l.5 1.2l.6-.2l.5-.8l.6-2l.5 2l.6-1.6l.5-1.2l.6 4l.5-3.2l.6-1.1l.5 2.6l.6-4.1l.5 3.8l.6 1l.5-1.8l.6 1.4l.5 3.9l.6-1.5l.5-1l.6-.7l.5-2.3l.6 .7l.5-.3l.6 .6l.5 .2l.6-1.9l.5 5l.6-5.5l.5 2.9l.6 1.3l.5-2.1l.6-1.4l.5 1.5l.6 3.9l.5-2.7l.6-1.9l.5 1.7l.6-1.6l.5-3.4l.6 4.3l.5 1.6l.6 .3l.5-2.6l.6-2.7l.5 5.3l.6-2.8l.5 1.9l.6 .8l.5-1.7l.6-.8l.5-1.2l.6 .4l.5 .9l.6-1l.5 1.7l.6-4.8l.5 2l.6 2l.5-1.4l.6 .3l.5-1.2l.6 3.7l.5 1.9l.6-5.4l.5 4.4l.6-5.3l.5 3.2l.6-4.4l.5 5.1l.6-.9l.5 .2l.6 2.2l.5-1.3l.6-1.3l.5-1.6l.6 1.8l.5-1.6l.6 .6l.5 3.9l.6-1.2l.5-1.3l.6 .7l.5-4.2l.6 3.2l.5-3.7l.6 2.1l.5 2.1l.6 0l.5 .7l.6-1.2l.5-.2l.6-.1l.5 2.9l.6-.2l.5-5.7l.6 3.3l.5 2.4l.6-3.2l.5 1l.6-1.7l.5-1.3l.6 2.8l.5-1.1l.6 .5l.5-2.7l.6 .6l.5 2.1l.6-.6l.5 2l.6-3.3l.5 3.6l.6-.3l.5-.9l.6 1.1l.5-1.5l.6-.2l.5 .3l.6-2.5l.5 2.5l.6 1.7l.5-4.9l.6 4.7l.5-2.7l.6 .6l.5 .9l.6 .3l.5 2.3l.6-3.1l.5 3.9l.6-3.5l.5 1l.6 .4l.5-2.8l.6-.9l.5 2.6l.6 1.2l.5 .4l.6-2.5l.5 4.4l.6-3.9l.5-1.1l.6 3.8l.5 .2l.6-4.4l.5 3.7l.6-4.3l.5 2.7l.6 4.6l.5-2l.6-1.1l.5-.1l.6-3l.5 2.4l.6 .3l.5-3.1l.6 2.6l.5 .7l.6-.6l.5 .4l.6-1.3l.5-1.8l.6 2.4l.5-4l.6 2.5l.5 3.7l.6 1.5l.5-2.9l.6-5.7l.5 7.7l.6-1.6l.5-1.5l.6 1.9l.5-.4l.6-3.5l.5-.2l.6 4.8l.5-6.9l.6 6l.5-.5l.6 1.3l.5 1.6l.6-.8l.5 .5l.6-1.5l.5-.6l.6 1.1l.5-2.2l.6-1.8l.5 1.7l.6-3.1l.5 2.2l.6 5.4l.5-3.2l.6-1.4l.5-.9l.6-2.4l.5 2.6l.6-.5l.5 1.6l.6 .2l.5-.3l.6-3.8l.5 7l.6-2.1l.5-.9l.6-.7l.5 1.6l.6 1.7l.5-1.3l.6-3.6l.5-.2l.6-2.3l.5 5.2l.6 1.2l.5 1.1l.6-2.3l.5 1.4l.6-3.5l.5 3l.6-1.4l.5-1.1l.6-2l.5 5.8l.6-7l.5 6l.6-3l.5 3l.6-2.4l.5 2.7l.6-2l.5-1.7l.6 1.2l.5-2.3l.6 3.9l.5 1.6l.6-1.2l.5-.7l.6 2.5l.5-5.1l.6 3.6l.5-1.1l.6-1l.5 2.2l.6-3.5l.5 2.1l.6 1l.5-3.1l.6 1.9l.5 1.6l.6 .9l.5-3.9l.6 3.9l.5-2.5l.6 .8l.5-1.3l.6 2.8l.5-3.1l.6 2.1l.5 .2l.6 .8l.5-3.7l.6 3.8l.5-1.6l.6 3l.5-3.7l.6-.5l.5 1.1l.6-.5l.5 .3l.6-2.3l.5-1.6l.6 1.2l.5 1.9l.6 2.1l.5-1.5l.6-1.4l.5 1.7l.6 .5l.5 5.6l.6-3.1l.5-2.3l.6-3.4l.5 2.7l.6-.3l.5 1.8l.6 3.3l.5-4.6l.6-3.9l.5 3.8l.6-3.2l.5 5.2l.6 .6l.5-1.6l.6-3.8l.5 2.7l.6 2.9l.5-4.6l.6 .9l.5 1.8l.6 .5l.5-.9l.6 .5l.5-.2l.6-1.7l.5 1.1l.6 .7l.5-2.8l.6 2.7l.5-.2l.6 .7l.5-.2l.6-2.9l.5-.4l.6 3.1l.5-.8l.6 .5l.5-1.4l.6-1.5l.5 3.2l.6-.8l.5 1.6l.6 1l.5 0l.6-.3l.5-4l.6-2.4l.5 3.1l.6-1.2l.5-.3l.6 4.1l.5-4.7l.6 5.3l.5 .4l.6 3.2l.5-3.4l.6 2.2l.5-5.6l.6-.1l.5 3.4l.6-4.8l.5 5.1l.6-2.9l.5-3.5l.6 7.9l.5-6.2l.6 7.5l.5-8.3l.6 1.3l.5 2.1l.6-.4l.5-3.4l.6 3.5l.5 .1l.6 .5l.5-4.3l.6 2l.5 1l.6 1.8l.5-1.3l.6-1.2l.5-.2l.6 3.9l.5-4.8l.6 2.3l.5-5.2l.6 7.9l.5-2.6l.6-4.7l.5 4.9l.6 1.5l.5-1.2l.6-1.6l.5 1.5l.6-3.4l.5 1l.6-.3l.5 .8l.6-2.4l.5 4.9l.6-3.3l.5-2.1l.6 1.7l.5 1.1l.6-.8l.5 2l.6-3.2l.5-1l.6 2.5l.5 1.4l.6-4.8l.5-1.5l.6 1.8l.5 1l.6-2.1l.5 2.3l.6-2.4l.5 3.5l.6-4.5l.5 .4l.6 1.9l.5 1.1l.6 .3l.5-3.5l.6 1.3l.5 1l.6 1.7l.5-5l.6-.9l.5 3.5l.6-1.6l.5 3.2l.6-2.9l.5 .6l.6-2.4l.5 2.1l.6 1.9l.5-3.2l.6-2l.5 4.2l.6-2.5l.5 .7l.6-1.7l.5 3.4l.6-3.6l.5 .5l.6 .9l.5-.5l.6-4.3l.5 5.6l.6-3.4l.5 2.9l.6-1.4l.5 .5l.6-1.4l.5-.7l.6 2.4l.5 .1l.6 1.6l.5-1.1l.6-2.6l.5 3.8l.6 2.1l.5-3.2l.6-2l.5-1.7l.6 2.1l.5-3.3l.6 4.6l.5-2.6l.6-.5l.5 1.6l.6-3.2l.5-1.2l.6 2.6l.5 3.4l.6-4.5l.5 3.5l.6-5.8l.5 3.6l.6 1l.5 2.6l.6-7.6l.5 3.4l.6-1.9l.5 2.4l.6-2l.5 1.2l.6-1.9l.5 .2l.6 1.8l.5 2.1l.6-2.8l.5-.4l.6-1.4l.5 4l.6-7.5l.5-.3l.6 2.3l.5 2.3l.6 .9l.5-1.1l.6 .2l.5-1.5l.6-1.6l.5-1.4l.6 2.8l.5-3.1l.6 2.5l.5 .4l.6-3.2l.5 .1l.6-.6l.5 2.2l.6-1.6l.5-2.1l.6 1.5l.5 2.1l.6-3l.5-.9l.6-1.6l.5-1.7l.6 1.4l.5-.5l.6-1.4l.5 2.5l.6-3.6l.5-.6l.6 .1l.5-.1l.6-5.5l.5 3.5l.6 1.3l.5-5.8l.6 2.3l.5-2.7l.6-1.8l.5 1.7l.6-1.7l.5-5.1l.6 2.1l.5 1.7l.6-4.1l.5-1.6l.6-.6l.5-1.6l.6 1l.5-4.9l.6-2.3l.5 1.6l.6-.7l.5-2.5l.6-1.6l.5-5.1l.6-3.8l.5-.5l.6-.8l.5-5.8l.6 .5l.5-.7l.6-5.6l.5 2.5l.6-5.9l.5-7.7l.6-3.5l.5-3.1l.6-1.1l.5-4.7l.6-6.4l.5-2.8l.6-3.2l.5-5l.6-9l.5-3.6l.6-4.6l.5-7l.6-.2l.5-8.9l.6-6l.5-6.4l.6-3.7l.5-5.5l.6-5.8l.5-4.8l.6-10.2l.5-.3l.6-3.6l.5-11.4l.6-4.8l.5-3.2l.6-3.9l.5-8.3l.6-6.1l.5 1.2l.6-9.9l.5-8.9l.6 3l.5-2.4l.6-1.5l.5-2.7l.6-.1l.5-10.4l.6-3.3l.5-3l.6 5l.5-5.4l.6-2.8l.5-.2l.6 5.9l.5 .8l.6 3.9l.5 .2l.6 3l.5 5.4l.6 1.3l.5 4.4l.6 1.6l.5 2.9l.6 4.9l.5 2.2l.6 5l.5 4.6l.6 2.2l.5 5.2l.6 4.9l.5 5.9l.6 3.8l.5 4.9l.6 5.9l.5 4.3l.6 7.8l.5 4.4l.6 4.6l.5 11.6l.6 1.8l.5 10.4l.6 9.9l.5 4.1l.6 1.7l.5 8.9l.6 4.1l.5 2.8l.6 6.5l.5 3.9l.6 5.2l.5 5.8l.6 .3l.5 9.2l.6 6.2l.5-1l.6 1.6l.5 4.4l.6 6.6l.5-.6l.6 5.1l.5 6.7l.6-3.5l.5 4.5l.6 1.2l.5 3l.6 3.4l.5 .4l.6 4.7l.5 1.3l.6 3.9l.5 .6l.6 .7l.5 3.6l.6-2.4l.5 2.9l.6-1.7l.5 5.5l.6-3.5l.5 4.6l.6-2.6l.5 2.9l.6-1.8l.5 1.5l.6 .5l.5 3.8l.6 1l.5 1.3l.6-.1l.5-.5l.6 2.5l.5 2.6l.6-3.5l.5-.3l.6 3.4l.5 3.8l.6-4.1l.5-.1l.6-1l.5 1l.6-.1l.5 .3l.6 4.7l.5 .7l.6-2.3l.5 .3l.6 1.8l.5-1.5l.6 .5l.5 1.3l.6-1.2l.5 3.2l.6 4.5l.5-6.9l.6 .8l.5-2.2l.6 1l.5 1.4l.6 .9l.5-1.1l.6-2.1l.5 3.7l.6-1.9l.5 2.2l.6-1.2l.5 .3l.6 .3l.5-4.4l.6 7.5l.5-4.7l.6 2.9l.5 .5l.6-2.4l.5-1.7l.6 4.4l.5-3.4l.6 2l.5 1.2l.6-2.1l.5-2.7l.6 2.3l.5 2.6l.6-3l.5 3.8l.6-5.5l.5 1.3l.6-1.8l.5 1.7l.6 5.4l.5-2.1l.6-2l.5-.9l.6 3.9l.5-2.9l.6-2l.5 5.6l.6-6.5l.5 3.2l.6 1l.5 .6l.6 2.1l.5-2.6l.6-3.6l.5 4l.6-2l.5-3.6l.6 .2l.5 .4l.6-3.2l.5 5.7l.6 .2l.5-.4l.6-3.1l.5 1.6l.6 2.6l.5-2l.6-1.4l.5-1.5l.6 1.4l.5 2.7l.6-3.1l.5 4.7l.6-.2l.5-4.5l.6-6l.5 2.4l.6 2.7l.5-5.1l.6-1.2l.5 .7l.6 5l.5-8.3l.6-4.4l.5 4l.6-.9l.5-.4l.6-2.7l.5-.6l.6-3.1l.5 2.1l.6-3.4l.5 0l.6-4l.5 3.8l.6-3.9l.5-2.8l.6-.3l.5-4.1l.6-.3l.5 1.7l.6-2.1l.5-1.1l.6-1.9l.5-3.9l.6-.8l.5 2.6l.6-6.2l.5-4.8l.6 2.1l.5-2.3l.6-.5l.5-.8l.6-3.4l.5 2.6l.6-2.2l.5 1l.6-3.8l.5-1.4l.6 .6l.5 4.2l.6-8.8l.5 6.2l.6-3.3l.5 2.4l.6-4.1l.5 1.5l.6-.3l.5 4l.6-5.4l.5 .9l.6-2.1l.5 2.8l.6-1.9l.5 2.1l.6 1.9l.5 1.3l.6-2.5l.5 1l.6 6l.5-2.9l.6 2.9l.5 .2l.6-1.8l.5 4.7l.6 1.3l.5 5.8l.6-7.5l.5 4.5l.6 3.9l.5-1.5l.6-2.5l.5 8l.6 .5l.5-.8l.6 1.3l.5 2.4l.6 3.9l.5 .8l.6 .7l.5 4.1l.6 3.4l.5-2.3l.6 6.9l.5-2.1l.6 2.8l.5 1l.6 1.5l.5 .5l.6-5l.5 4.1l.6 5.3l.5-3.7l.6 3.6l.5-3.1l.6 3.1l.5 6l.6-2.3l.5-1.9l.6 1.3l.5-1.8l.6 5.9l.5-1l.6 3l.5 .8l.6-2l.5-1l.6-.1l.5 2.4l.6 1.5l.5 3.8l.6-5.3l.5 3.8l.6-3.4l.5 1.5l.6 3.5l.5-.4l.6-2.3l.5 0l.6 4.5l.5-2.9l.6-.1l.5-1.6l.6 9l.5-1.4l.6-3.1l.5 4.4l.6-4l.5-1.8l.6 2.4l.5 2.3l.6-6l.5 5.9l.6 .1l.5 .9l.6-2.3l.5 1.7l.6-6.9l.5 4.3l.6 2.8l.5-1.1l.6-.6l.5-3.7l.6 2.8l.5-3.8l.6 3.7l.5 1.5l.6-2.1l.5 2.5l.6-1.2l.5 2.2l.6-3.1l.5-3.1l.6 .8l.5 1.3l.6 1.8l.5 .3l.6-2.2l.5 2.1l.6-1.9l.5 3.2l.6-5l.5 6.2l.6-2.3l.5-1.8l.6-1.7l.5 4l.6-2.9l.5 3l.6 2.9l.5-4.2l.6 .1l.5 .7l.6-2.8l.5 6.1l.6-5.5l.5 2.2l.6-1l.5-2.4l.6 4.9l.5-2.6l.6-2.7l.5-.1l.6-3.3l.5 2l.6 4.8l.5-.1l.6-4.6l.5 3.8l.6 .8l.5-.6l.6 1.1l.5-8.2l.6 5.3l.5-3.1l.6 4l.5-3.7l.6 2l.5 1.9l.6-6.4l.5 2.2l.6-.2l.5 1.6l.6-4.1l.5 5.9l.6 2.8l.5-5.8l.6 1.9l.5-8.2l.6 3.6l.5 4.7l.6-1.1l.5 .9l.6 1.6l.5-3.3l.6-1l.5-.6l.6 1.3l.5-5.8l.6 9.2l.5-9.5l.6 1.4l.5 4.2l.6 2.2l.5-1.1l.6 2.5l.5-5.1l.6-.6l.5 3.1l.6-4.4l.5 3.4l.6 .8l.5-.6l.6-6.1l.5 4.7l.6-4.7l.5 7.5l.6-3.3l.5 3.7l.6 .9l.5-6.9l.6 5.9l.5-1.3l.6 2.9l.5-7.2l.6 0l.5 1.4l.6-2.7l.5 5.2l.6-2.2l.5 2.5l.6 .4l.5 1.4l.6-5.6l.5 5.5l.6 0l.5-4.4l.6 1.1l.5-2.2l.6 7.2l.5 .4l.6-5.7l.5 2l.6 1.5l.5 .9l.6-2l.5 4.7l.6-6.8l.5 4.9l.6-1.9l.5 .6l.6-2.6l.5-2.5l.6 3.3l.5 2.7l.6-3.3l.5-2.2l.6 4.2l.5 .5l.6-2.5l.5 2.4l.6 1.6l.5-.5l.6 2l.5 .8l.6-3.1l.5-1.9l.6-2.4l.5 7.4l.6-1.7l.5 1.9l.6-4.8l.5 2.7l.6-2.4l.5-.2l.6-1.4l.5 3.4l.6 2l.5 .9l.6-1.4l.5-1.3l.6 6.3l.5-1.2l.6-1.3l.5-2.3l.6 3.1l.5-5.4l.6-1.2l.5 5.2l.6-1.2l.5 2.5l.6-4.9l.5 3l.6-3.5l.5 2l.6 2.2l.5-1.3l.6-2.3l.5-1.3l.6 3l.5-1.4l.6-1.3l.5 4.2l.6-2.6l.5 6l.6 2.2l.5-2.4l.6 4.5l.5-10.7l.6-1.2l.5 4.3l.6-4.3l.5 5.3l.6 2l.5-.1l.6 .6l.5-3.1l.6 .5l.5 .9l.6-.7l.5 2.7l.6-3.5l.5 1.1l.6-1.7l.5 4.6l.6-2.2l.5 .1l.6-1.6l.5-3.3l.6 3.6l.5-4.5l.6 5.7l.5-3l.6 6.8l.5-5l.6 1.6l.5-1l.6-1.7l.5-1l.6-2.5l.5 5.1l.6-3.6l.5 8.6l.6-6.4l.5 1.9l.6 1.7l.5-.3l.6 3.7l.5-3.2l.6-1l.5 1.1l.6 4.5l.5-1.9l.6-7.3l.5 4.9l.6-1.8l.5 2.6l.6 1.7l.5-1.5l.6 1.7l.5 3l.6-9l.5 4.7l.6 .3l.5 1.2l.6-.8l.5 2.4l.6-2.4l.5 1.4l.6-5.2l.5 4.8l.6-3.6l.5 4.9l.6 3.3l.5-4.7l.6 1.5l.5 1l.6 1.8l.5-1.4l.6 1.3l.5-4.5l.6 1.3l.5-3.5l.6 10l.5-9l.6 5.8l.5-1.8l.6 0l.5-3.3l.6 3.2l.5 .5l.6 1l.5-1.9l.6 1.7l.5-3l.6 5.9l.5-4.8l.6 11.6l.5-10.4l.6-.8l.5 2.4l.6-.7l.5 3.4l.6 .5l.5-4.8l.6 0l.5 0l.6 3.4l.5 1.5l.6-.7l.5-2.1l.6 .6l.5 1.8l.6 1.7l.5-3.3l.6 3.4l.5-4l.6 1.5l.5 2.6l.6-5.2l.5-2.2l.6 1.7l.5 2.7l.6-2.3l.5 2.5l.6 4.1l.5-4.6l.6 4.6l.5-1.2l.6-5.1l.5 5.5l.6-.2l.5 .4l.6-2l.5 .2l.6-2.2l.5-.8l.6 2.3l.5 2.1l.6-3.4l.5 6l.6-5.5l.5 2.1l.6-4.4l.5 7.9l.6-2.2l.5 1.6l.6-6.6l.5 7.1l.6-2.5l.5-2.9l.6 .7l.5-2.9l.6 3.6l.5 2.9l.6-4.7l.5 3.4l.6-4.2l.5-3.9l.6 6.7l.5 4.5l.6-.7l.5-5l.6 5.2l.5-.6l.6-1.7l.5-2l.6 3.6l.5-2.9l.6-.8l.5 3.9l.6-4.6l.5 3.7l.6 2.1l.5-5.8l.6 2.3l.5 1l.6-6.2l.5 3.4l.6-.2l.5 .1l.6-.9l.5 5.7l.6-5.9l.5 2.2l.6 1.8l.5 2.6l.6-8.5l.5 .8l.6 .6l.5 2.1l.6 3.3l.5-2.9l.6 .7l.5 3.8l.6-5l.5 1.3l.6 4.8l.5-3.2l.6-3.8l.5-.1l.6 4.8l.5-6.1l.6 .6l.5 4.6l.6 1.4l.5 .9l.6-7.2l.5 4l.6-10.3l.5 6.6l.6 10.2l.5-3.7l.6-2.3l.5-4.5l.6-.9l.5 6.4l.6-3.4l.5-1.8l.6 4.1l.5-.1l.6-3.8l.5 .7l.6 7.1l.5-8.7l.6 5.4l.5-4.7l.6-.4l.5-.6l.6 2.5l.5 .2l.6 2.1l.5-4.1l.6 3.1l.5-2.7l.6-.5l.5 3.7l.6-.6l.5-5.3l.6 4.4l.5-5.4l.6 2l.5 7.2l.6-.8l.5-4.1l.6 2l.5 1.8l.6 1.2l.5-.1l.6-6.8l.5 1.9l.6 .4l.5-6.9l.6 4.4l.5 3.1l.6-1.7l.5-1.1l.6-1.7l.5 1.6l.6 1.4l.5-.9l.6 3.8l.5-.9l.6-5.8l.5 5.9l.6-2.6l.5 1.9l.6-4l.5 4l.6-4.4l.5 4.5l.6-3l.5-.8l.6-3l.5-.9l.6 6.5l.5-5.6l.6-.3l.5 4.1l.6-1.2l.5 1.3l.6-5.3l.5-2.4l.6 3.1l.5 4.9l.6-3l.5 1l.6 0l.5-1.1l.6-.3l.5-1.2l.6 .9l.5 .1l.6-2.9l.5 3.1l.6-1.8l.5-.5l.6-.4l.5 2.5l.6-3l.5 3.3l.6-6.1l.5 4l.6-6l.5 4l.6-1.7l.5-.2l.6-1.9l.5 2.4l.6 1.2l.5-6.8l.6 4.2l.5 .4l.6 .8l.5-1.1l.6-4.3l.5 5.1l.6-5.5l.5 3.2l.6-1.3l.5-2.6l.6-1.4l.5 1.3l.6 3.9l.5-2.6l.6-3.8l.5 2.9l.6 2l.5 .8l.6-11l.5 6l.6-.3l.5-5l.6-3.4l.5 7.9l.6-5.2l.5-3.7l.6 .9l.5 4.3l.6 3.3l.5-3.9l.6-5.4l.5 5.2l.6-9l.5 7.2l.6-.7l.5 1.9l.6-2.7l.5-.1l.6-3.2l.5-1.7l.6 .5l.5 4.7l.6-7.1l.5 .9l.6-1.5l.5 2.7l.6-.9l.5 3.8l.6 .1l.5-3.2l.6-.9l.5-3.1l.6-4l.5 4.2l.6-.6l.5-3.5l.6 3.4l.5 1.7l.6-5.3l.5 4.5l.6-1.5l.5-2.9l.6 1.5l.5 1.5l.6-2.8l.5 0l.6 3.4l.5-2.3l.6-.4l.5-3.1l.6 2.9l.5 1.8l.6-6.9l.5-2.3l.6 2l.5 1.4l.6-2.8l.5-2.3l.6 8.7l.5-6.1l.6-1.5l.5-6.1l.6 9.8l.5-7.2l.6 7.2l.5-2.7l.6-1.6l.5-2l.6 2.4l.5-5l.6 1.6l.5-3.4l.6-.5l.5 4l.6-2.3l.5-6.8l.6-1l.5 1.3l.6-1.7l.5 .4l.6-3.6l.5-3.1l.6 3.8l.5-4.2l.6 1.2l.5-5.6l.6 5.3l.5-4.6l.6-1.3l.5-.9l.6-6.6l.5 4.9l.6-4.8l.5-3l.6 2.6l.5 2.2l.6-8.1l.5 4.7l.6-11.7l.5 5.4l.6-3.8l.5 .9l.6 3.9l.5-5.2l.6-7.1l.5 7l.6-7.9l.5 .3l.6-1.9l.5 1.7l.6-1.7l.5 3.8l.6-4.6l.5 0l.6-3.2l.5 2.7l.6-6.6l.5-1.8l.6 5.9l.5-.7l.6-2.1l.5 5.9l.6-8.4l.5 6.8l.6 1l.5-6.7l.6 5.9l.5 1.8l.6-1.2l.5 1.4l.6 1.5l.5-.8l.6 0l.5 7.2l.6 0l.5 1l.6 3.1l.5-1.9l.6 2.4l.5 5.9l.6-.2l.5 3.3l.6 3.7l.5 3.8l.6-5.3l.5 3l.6-.1l.5 4.3l.6 5.6l.5-.4l.6 9.8l.5-4.6l.6-1.3l.5 4.9l.6 10.6l.5-5.7l.6 4.6l.5 .3l.6 1.4l.5 8.3l.6-4.4l.5 .2l.6 4.6l.5 1.8l.6 4.4l.5 .5l.6 4.4l.5-2.6l.6 3l.5 1.5l.6 2.6l.5-4.9l.6 3.6l.5-5.4l.6 6.4l.5-.1l.6 2l.5 7.6l.6-.4l.5-6l.6 9.9l.5-.6l.6-2.2l.5 0l.6 .6l.5 1l.6 2.5l.5-2l.6 4l.5-3.1l.6-.5l.5 1.9l.6 1.8l.5 .7l.6-.8l.5-3.7l.6 .9l.5-.6l.6 4.3l.5 3l.6-1.4l.5 .1l.6-.8l.5 .7l.6-.5l.5 5l.6-5.9l.5 1.2l.6 4l.5-2l.6 3.1l.5-2.8l.6 2.7l.5-.3l.6-3.9l.5 5.2l.6 2.2l.5-5.1l.6 1.7l.5 2.3l.6 2.6l.5-3l.6 5.5l.5-7.2l.6 6.4l.5-7l.6 2.1l.5-2.3l.6 5.3l.5-.8l.6-6.3l.5-2.2l.6 13.1l.5-6.5l.6-3.6l.5 2.2l.6 1.3l.5 5.7l.6-2.9l.5-1l.6-2.5l.5 4.5l.6-6.4l.5 7.9l.6-.3l.5-3.8l.6-2.6l.5 2.5l.6 1.4l.5 5.9l.6-.7l.5-6.2l.6-.2l.5-1.5l.6 4.8l.5-2.4l.6 3.5l.5-1.6l.6-1.5l.5-1.2l.6-1.5l.5 6l.6-5l.5 5.5l.6-6.3l.5-2.3l.6 7l.5-1.5l.6 4.2l.5-2.4l.6-.2l.5 2.7l.6-4.1l.5 3.6l.6 5l.5-6l.6-3l.5 2.5l.6-2l.5 1.3l.6 5.5l.5-7.2l.6-.6l.5 4.8l.6-2.4l.5 .6l.6-1.1l.5 2.3l.6 3.4l.5-2.2l.6-2.8l.5 .2l.6-1.5l.5 .1l.6 4.9l.5-1.1l.6-.2l.5 .2l.6-3.1l.5 1.7l.6 1.4l.5 2.9l.6-3.6l.5-.5l.6-2.3l.5 4.9l.6-3.4l.5 1.3l.6 .4l.5-3.1l.6 2.8l.5 2.3l.6-5.4l.5 1l.6-.8l.5 2.4l.6 5.4l.5-4.8l.6 2.5l.5-2.7l.6-1.8l.5 1.2l.6 .6l.5-1.2l.6 .4l.5 .4l.6-1.9l.5 5.8l.6-3l.5-1.5l.6-1.2l.5 2.6l.6-3.1l.5-1.3l.6 2.4l.5 4.3l.6-3.9l.5 1l.6-3l.5 3.9l.6-2.8l.5-.1l.6-.5l.5 1.7l.6-2.5l.5 1.7l.6 .6l.5-2l.6-2.7l.5 6.4l.6-4.5l.5-1.9l.6 5.2l.5-.1l.6 3.1l.5 .4l.6-9.3l.5 4.4l.6 2.2l.5-4.3l.6 6.7l.5-2.2l.6-2.7l.5 .4l.6 2.2l.5 4.8l.6-.5l.5-8.9l.6 5.4l.5-5.5l.6 3.6l.5-2.3l.6 1.8l.5-.4l.6 2.2l.5-3l.6 3.8l.5-2.2l.6-2.1l.5 6.3l.6-3l.5-1.5l.6 .8l.5 1.6l.6-2.3l.5-1.3l.6 1.2l.5-1.1l.6 0l.5 5.7l.6-2.3l.5 1.4l.6-5l.5-3.4l.6 3.6l.5 2.4l.6-2.8l.5 1.7l.6-3.1l.5 3.8l.6-2.5l.5 1.1l.6 1.7l.5-3.9l.6-1l.5 .6l.6 3.6l.5-2.5l.6 3.6l.5-1.5l.6 1.5l.5-2.6l.6 2.6l.5-1.3l.6-7.3l.5 8.9l.6-1.6l.5-3.5l.6-2.3l.5-1.8l.6 5.2l.5-2.8l.6-.9l.5 .3l.6-1.8l.5 6.8l.6-5l.5 2.1l.6 .4l.5 .4l.6-1.5l.5 2.5l.6-4l.5 7.2l.6-10.1l.5 6l.6 3.9l.5-8.6l.6 6.2l.5 1.6l.6-6.9l.5 5.2l.6-5.7l.5 2.2l.6-1.6l.5-2.1l.6-.5l.5 1.2l.6-2.6l.5 4.4l.6-.3l.5 2.4l.6-2l.5-1.7l.6-.6l.5 7.4l.6-11l.5 .4l.6 9.4l.5-3.3l.6-2.6l.5 .8l.6 1l.5-6.8l.6 2.9l.5 2.5l.6-.4l.5 1l.6-2.5l.5-1.9l.6-.9l.5 3l.6-1.9l.5 1l.6 2.3l.5-.8l.6-7l.5 6.3l.6-6l.5-2.1l.6 9.8l.5-5.3l.6-2.7l.5 .2l.6 3.2l.5 2.7l.6-2.2l.5-4.5l.6-2.9l.5 2.4l.6 2.7l.5-1.7l.6-5.3l.5 3.5l.6 .9l.5-4.6l.6 4.5l.5 1.1l.6-1.9l.5-5.2l.6 1.1l.5 0l.6-1.3l.5 2.6l.6-2.7l.5-.9l.6 .1l.5-2.8l.6-3.2l.5 3.1l.6-2l.5 1.8l.6-2l.5-2.2l.6 2.7l.5-3.9l.6-4.4l.5 6.6l.6-2l.5-4.2l.6-5.1l.5 .5l.6 4.2l.5-3.8l.6-1.8l.5 1.1l.6-3.8l.5-.8l.6 3.6l.5-2.9l.6-.4l.5-1.5l.6 .2l.5-1.5l.6-5.4l.5 .5l.6 3.7l.5-5.1l.6 2.9l.5-6.7l.6-4.1l.5 2.6l.6-2.8l.5-1.7l.6-1.4l.5-4.6l.6 5.7l.5-3l.6-3.1l.5-2.8l.6 5.2l.5-2.5l.6 1l.5-1.6l.6 .2l.5-2.9l.6-4.6l.5 3.6l.6 1.2l.5-6.8l.6 1.9l.5 4.5l.6-7.5l.5 6.5l.6-6.3l.5-2l.6 3l.5-.2l.6 4.4l.5-7.7l.6 3.6l.5 .6l.6 .3l.5 3.8l.6-1l.5 2.3l.6 .2l.5 4.5l.6-3.7l.5 2.7l.6 3l.5 .1l.6-.2l.5 3.4l.6 .3l.5 1.5l.6 .5l.5 3.9l.6 1.7l.5-2.9l.6 4.5l.5 1.1l.6 2l.5-2.5l.6 0l.5 3.9l.6 4.7l.5-4.3l.6 6.5l.5-1.3l.6 1.7l.5 1.3l.6-.2l.5 1.6l.6 3.5l.5 3.6l.6-2.4l.5 1.8l.6-2.3l.5 3l.6 4.2l.5 1.1l.6-2.7l.5 1.5l.6-.1l.5-.4l.6 4.4l.5-1.8l.6 5.7l.5-9.2l.6 1.5l.5 1.9l.6 4l.5 0l.6-1.1l.5-5.9l.6 9.5l.5-4.3l.6 8.5l.5-2.8l.6-1.9l.5 1.7l.6 5.4l.5-4.8l.6-1.8l.5-3.5l.6 6.7l.5-1.3l.6 5.3l.5-2.5l.6 2.7l.5-3.9l.6-1.1l.5 4.8l.6-3l.5-1.5l.6 1.7l.5 2.9l.6-4.4l.5 6.9l.6-3.9l.5-4.6l.6 .3l.5 2.7l.6-.8l.5-.2l.6 .6l.5 1l.6-1.4l.5-.8l.6-3.7l.5 9.4l.6-4.2l.5 1.2l.6-1.1l.5 2.8l.6-3.4l.5 3.2l.6-4.9l.5 .8l.6 2l.5 0l.6 1.6l.5-4.8l.6 2.7l.5-2.7l.6-2.5l.5 6.3l.6-2.9l.5-2.5l.6 .6l.5 3.3l.6-1.4l.5-.4l.6 2l.5-1.9l.6-4.8l.5 7l.6-3.6l.5 .3l.6-5.5l.5-2.3l.6 8.8l.5-1.4l.6 1.2l.5 .7l.6 1.6l.5 1.2l.6-.3l.5-5.9l.6 .6l.5 2.5l.6 3.5l.5-.7l.6-4.3l.5-1.6l.6 4l.5-1.1l.6 2.4l.5 .5l.6-1.1l.5-3l.6-.7l.5 2.7l.6 2.2l.5-1.2l.6 2.3l.5-2.8l.6 4.3l.5-1.8l.6-1.5l.5-.8l.6 1.8l.5 .8l.6 4.3l.5-3.7l.6 1.8l.5-7l.6 8.4l.5-2.6l.6-2l.5-3.3l.6 4l.5 6.9l.6-1.9l.5 .2l.6-3.2l.5 3.1l.6 .3l.5-.5l.6-3.2l.5 1.1l.6 1l.5 9l.6-13.1l.5 9.8l.6-.5l.5-3l.6 1.7l.5-1l.6 .6l.5-2.9l.6-3.5l.5 12.5l.6-2.4l.5-8.2l.6 6.9l.5-4l.6 2.5l.5-3.8l.6 0l.5 7.9l.6-6l.5 1.1l.6 2.2l.5 2.2l.6-5l.5 3l.6 .5l.5-3.4l.6 .1l.5 3.3l.6-1.8l.5 4.5l.6-8.6l.5 6.1l.6-1.6l.5-3.1l.6 3.5l.5-3.3l.6 2.9l.5 3.8l.6-4.5l.5 3.5l.6-.7l.5-1.9l.6 .7l.5 1.3l.6 .4l.5-2l.6 1l.5 2.5l.6-4.4l.5-.4l.6 3.9l.5 .5l.6-6.9l.5 6.2l.6 3.4l.5-1.4l.6-2.9l.5 2l.6-5l.5 5.8l.6-.8l.5 1.6l.6-2.5l.5 2.1l.6-2.7l.5 3.9l.6-1.5l.5-5.5l.6 .4l.5 5.6l.6 1.2l.5 .8l.6-4.4l.5 1.9l.6-1.3l.5-.8l.6 1.1l.5 3.8l.6-4.2l.5 5.6l.6-7.6l.5 2.5l.6 2.2l.5 0l.6-.9l.5-4.3l.6 3.5l.5 4.2l.6-1.9l.5-.2l.6-.2l.5-1.2l.6 .2l.5-1.3l.6 4.8l.5-2.2l.6-.1l.5-.5l.6-.9l.5-2.9l.6 3.5l.5-1.5l.6 .3l.5 1.9l.6 2.7l.5-5.6l.6 2.6l.5 3.9l.6-6.8l.5 4.3l.6-2.3l.5 2.9l.6 2l.5-3.9l.6 2.6l.5-1.6l.6 3.9l.5-12.7l.6 6.1l.5 1.9l.6 .6l.5 3.7l.6-1.2l.5-3.5l.6-2.5l.5 6.2l.6-2.1l.5-1.3l.6 2.7l.5 2.3l.6-3.4l.5 2.6l.6-7.6l.5 6.3l.6 3.5l.5-2.6l.6-4.2l.5-1.2l.6 3.5l.5-2.8l.6 .7l.5-2.8l.6 1.8l.5 3.6l.6-3.1l.5-.2l.6-1.1l.5 2.7l.6 1.2l.5-.6l.6-6.8l.5 6.6l.6-2.2l.5 1.9l.6-2.3l.5 5.1l.6 1.8l.5-2.3l.6 1.9l.5-3.4l.6-1.2l.5-4.1l.6 3.2l.5 .4l.6 4.6l.5-5.8l.6 2.3l.5 1.3l.6-1.3l.5-.2l.6 2.3l.5-4.3l.6 2l.5 .4l.6 3l.5-.5l.6-1.9l.5 .6l.6-6.7l.5 5.3l.6-1.9l.5-2.3l.6 4.9l.5-2.5l.6-.7l.5-2.4l.6 4.2l.5 2.3l.6-2.5l.5 1.2l.6 .5l.5-2.3l.6-.8l.5-.6l.6 .6l.5-.6l.6 1.2l.5-1.2l.6 3.3l.5-4.4l.6 5.4l.5-4.6l.6-.1l.5 2.4l.6-3.1l.5-2.6l.6 5.8l.5 1.2l.6-7.4l.5 5.2l.6-2.4l.5 .7l.6 3.7l.5-6.4l.6 1.7l.5 3.8l.6-2.3l.5 .4l.6-2.5l.5-.4l.6-.1l.5 2.1l.6-1.5l.5 1.7l.6 4.6l.5-9.5l.6 4.3l.5-.9l.6-2.1l.5 2.5l.6-2.4l.5-1.1l.6 2.8l.5 3.2l.6-3.9l.5 1.3l.6-2.4l.5-.3l.6-1.6l.5 2.9l.6 .9l.5-4.7l.6-.4l.5 4.9l.6-2.6l.5-2l.6 4.5l.5-1.9l.6-.5l.5 .7l.6-1.4l.5 7l.6-10.3l.5 3.2l.6 2.1l.5-.5l.6-3.3l.5 1.6l.6 .3l.5 2.9l.6 .4l.5-.1l.6-3.1l.5 2.2l.6-1.7l.5-1.8l.6-.3l.5 1.9l.6-1l.5-1.9l.6-1l.5-.2l.6 4.5l.5-3.5l.6 .5l.5 2.5l.6-.1l.5-1.6l.6-1.1l.5-2l.6 .7l.5 .1l.6 .6l.5-3.1l.6 2.3l.5-.2l.6-1.9l.5-4.1l.6-1.7l.5 4.2l.6-5.5l.5 3l.6 4.4l.5-6.6l.6-3.1l.5 3.7l.6-3.3l.5 .1l.6-3.6l.5 1.6l.6 3.5l.5-3.4l.6-1.1l.5 1.1l.6 .3l.5 1.2l.6-.7l.5 .3l.6-4.4l.5 1.6l.6-3.2l.5 6.4l.6-4.1l.5 .2l.6 4l.5-1.9l.6-2.3l.5 0l.6-.4l.5 2.3l.6 3.9l.5-8.3l.6 5.2l.5-.4l.6-3.3l.5 1.5l.6-.2l.5-1.8l.6 .2l.5 3.8l.6-1.8l.5-1.6l.6-.9l.5 1.5l.6 .3l.5 1.5l.6 1.4l.5-2.7l.6-1.7l.5 2.4l.6-.3l.5-1.2l.6 2.4l.5-1.4l.6 .9l.5-.5l.6 1l.5 .3l.6-2.7l.5 3.5l.6-1.4l.5-2.9l.6 2.5l.5 3l.6 .5l.5-3.6l.6 1.8l.5-2.6l.6 3.3l.5-4.7l.6 1.1l.5 4l.6 .3l.5-1.8l.6 2.3l.5 2.2l.6-2.6l.5 1.8l.6-2l.5-.4l.6 5.9l.5-2.3l.6-.7l.5-1.3l.6 4.6l.5 1.1l.6 1.5l.5-2.1l.6 2.5l.5-.9l.6-1l.5 2l.6-.4l.5 0l.6 .9l.5 3l.6-.9l.5-1.1l.6 1.4l.5 .2l.6 .3l.5 .7l.6-1.5l.5 3.9l.6-4.2l.5 1.1l.6-1.2l.5 1.8l.6 0l.5 1.4l.6-2.7l.5 3l.6-3.1l.5 5.1l.6-2.9l.5 3l.6 .7l.5-4.4l.6 5.4l.5-3.2l.6-3.6l.5 4.1l.6 0l.5 2.6l.6-5.9l.5-1.9l.6 4.9l.5-.6l.6-.7l.5 1.6l.6 2.9l.5-3l.6 1.6l.5-2.7l.6-1l.5 1.4l.6 3.8l.5-.8l.6-1l.5-1.8l.6 1.1l.5 .4l.6-3.5l.5 2l.6 3.5l.5-5.3l.6 2.5l.5-1.2l.6 .2l.5 2.1l.6-2.9l.5 2.5l.6-1.4l.5 1.8l.6-3.1l.5 3.2l.6-2l.5-.9l.6-.3l.5-2.1l.6 4.7l.5-2.8l.6 3.1l.5 1.7l.6-6.2l.5 2.9l.6-1.6l.5 1.3l.6 .5l.5-2.7l.6 3.6l.5-1.9l.6 2.8l.5-2.5l.6 .3l.5-.2l.6 4.4l.5-5.1l.6-3l.5 5.4l.6-1.3l.5 1.3l.6 .7l.5 .6l.6-1.9l.5 .5l.6 1.2l.5 .6l.6-4.2l.5 5.4l.6-4.6l.5 2.3l.6 1.7l.5-2.4l.6 .2l.5 3.4l.6 .1l.5-4.3l.6 2.4l.5 .9l.6 1.9l.5-1.4l.6 1l.5-.5l.6 .7l.5 3.1l.6-2.8l.5-.1l.6-2.9l.5 .9l.6-.3l.5 2.3l.6-.3l.5-.5l.6 2.5l.5-3.4l.6 3l.5-.4l.6-.8l.5 0l.6 .9l.5 2.2l.6 .5l.5-3.6l.6 2.7l.5-1l.6 2.8l.5 .7l.6-.3l.5-.3l.6 .5l.5-3.6l.6 3.7l.5 0l.6-.6l.5-.6l.6-.5l.5 .8l.6 .5l.5-2.9l.6 4.1l.5 .7l.6 2.4l.5 .2l.6-1.6l.5-.5l.6 .1l.5 1.5l.6 .4l.5-4l.6 3.8l.5-1.9l.6 .9l.5-.5l.6 1.2l.5-2.1l.6 1.7l.5-2.3l.6 3.9l.5-.2l.6-1.8l.5 .5l.6-.8l.5 2.2l.6-.2l.5-1.5l.6 .5l.5 .7l.6-1.5l.5 1.7l.6 .4l.5 3l.6-3.2l.5-1.5l.6 3.1l.5-1.4l.6-1.1l.5 2l.6-2.1l.5 3.1l.6-1l.5-1.6l.6 .5l.5 3.3l.6-3.6l.5-.2l.6 1.8l.5-.8l.6-.5l.5 1.3l.6-4.1l.5 3.3l.6 2.1l.5-.1l.6-3.2l.5 1.2l.6 1.2l.5-1.6l.6 1.2l.5 0l.6-3.5l.5 3.9l.6-1l.5-.3l.6-.2l.5-2.9l.6 3.2l.5 1.7l.6 .5l.5-1.8l.6-.5l.5-.3l.6 2.6l.5 1.3l.6-3.2l.5-4.1l.6 4.4l.5 2l.6-4.5l.5 .8l.6-1.1l.5 2.7l.6 3.3l.5-2l.6-4.1l.5 .4l.6 2.9l.5-1.3l.6-2.2l.5 3.1l.6-1.9l.5 2.1l.6 .1l.5-.4l.6-2.1l.5 .3l.6 1l.5-.6l.6 2.5l.5 .2l.6-1.5l.5 1l.6 1l.5-3.8l.6 .8l.5 3.6l.6-3.3l.5-.5l.6 .8l.5 .7l.6-3.1l.5 2.4l.6 1.4l.5-2.2l.6-.1l.5 2.2l.6-2.7l.5-.7l.6 1.6l.5 1.4l.6-1.6l.5-3.7l.6 2.9l.5 1.8l.6 2l.5-2.8l.6 4l.5-5.5l.6 .7l.5 1l.6 1.1l.5-1.7l.6 1.4l.5-1.4l.6 1.2l.5 .1l.6-.7l.5 .1l.6-.8l.5-.7l.6 5.7l.5-6l.6 3.5l.5-.5l.6-1.7l.5-.1l.6-1.1l.5 1.4l.6-2.1l.5 1.7l.6 3.1l.5-1.3l.6-4l.5 2.3l.6-.9l.5-1.6l.6 3.8l.5-4.6l.6 3.5l.5 2.1l.6-.5l.5-4.4l.6 1.5l.5 0l.6 .1l.5 1.5l.6-.5l.5 1.7l.6-3.8l.5 1.6l.6 1.2l.5-1.2l.6-3.7l.5 3l.6 0l.5-.3l.6-1.6l.5 2.5l.6-1.1l.5-1.5l.6 2l.5-1l.6-.8l.5-.3l.6-.7l.5 1.6l.6-1l.5 2.4l.6-1.9l.5 1.2l.6-2.5l.5 .4l.6 .8l.5 .9l.6 .2l.5-1.3l.6 .1l.5 .4l.6 .3l.5 .3l.6-4.3l.5 3.8l.6-1.6l.5 .2l.6-1.4l.5 2.2l.6 .6l.5-.1l.6-3l.5-1.5l.6 4.3l.5-2.8l.6-2.1l.5 3.9l.6-4.9l.5 4.8l.6-2.5l.5 3.5l.6-2.9l.5-1.2l.6 .9l.5-1.6l.6 .3l.5 1.4l.6-.8l.5-2.1l.6 1.1l.5 3.3l.6-5l.5 2.8l.6 2.8l.5-5.3l.6 2.3l.5-1.3l.6-1.7l.5 2.5l.6-.3l.5-1.3l.6-1.4l.5 2.5l.6-.8l.5-1.5l.6-1.2l.5 .7l.6-.5l.5-.4l.6 2.6l.5-2.4l.6 2.2l.5-.6l.6-.6l.5-1l.6-1.2l.5-.2l.6 2.9l.5-1.6l.6-2.6l.5 1.4l.6-2.2l.5 .5l.6-1.7l.5-.2l.6-.5l.5 1.9l.6 1l.5-2.1l.6 .3l.5-1.2l.6-.7l.5 1l.6-2.5l.5 3.2l.6-.7l.5-.9l.6-.8l.5-1.1l.6 3.1l.5-3l.6-.8l.5-.9l.6 .2l.5 .5l.6-.5l.5 1.3l.6-2l.5-.8l.6 1.8l.5-2.3l.6 3.7l.5-5.1l.6 1.6l.5-1.3l.6 1.5l.5 1.3l.6-3.1l.5-1.9l.6 2.6l.5-.5l.6 .7l.5-2.5l.6 .1l.5-.4l.6 .2l.5 .6l.6 2.1l.5-1.5l.6-1.4l.5-1.7l.6 4.5l.5-1.3l.6 1.2l.5-6.4l.6 8.1l.5-5.1l.6-.1l.5 .8l.6 .5l.5 3.2l.6-5.5l.5 4.8l.6 1.4l.5 0l.6-.4l.5 .7l.6-1.7l.5-.2l.6 .4l.5-1.5l.6 4.6l.5-1.2l.6 .9l.5 2.1l.6 .1l.5-1l.6-1.9l.5-1.3l.6 4.3l.5-3.8l.6 2.4l.5 .4l.6-.8l.5 1.5l.6 1.5l.5 1l.6-2.8l.5-1.2l.6 1.9l.5-1.1l.6 .3l.5 2.1l.6 1.5l.5-1.3l.6 .4l.5 1.5l.6-.6l.5-2.7l.6 1.1l.5 .4l.6 3l.5-4.2l.6 1.9l.5-3.9l.6 3.5l.5-.5l.6 0l.5 2.6l.6-2.3l.5 3.5l.6-1.9l.5-.6l.6-1.3l.5 4.4l.6-2.5l.5 2.6l.6 1l.5-3.8l.6 1.1l.5 1l.6-2.1l.5-2.6l.6 4l.5-2.4l.6-1.1l.5 .8l.6 3.1l.5-3.8l.6 .6l.5-.8l.6 3.5l.5-.8l.6 1.4l.5-1.1l.6-.8l.5 1.5l.6-.7l.5-1.3l.6 .7l.5 1.8l.6-2l.5-3.8l.6-.8l.5 1.8l.6 3.1l.5-1l.6 .4l.5-1.4l.6-.2l.5-.6l.6 .5l.5 0l.6-.2l.5-1.6l.6-.4l.5 4.2l.6-1.9l.5 .4l.6-1.6l.5 .9l.6 .8l.5-1.4l.6-.8l.5 2.3l.6 .1l.5-2.9l.6 .5l.5 3.5l.6-3.3l.5 .1l.6 .1l.5 1.8l.6-.4l.5 1.6l.6-2.9l.5 .9l.6 1.2l.5 0l.6-1.3l.5 1.1l.6-.5l.5 1.1l.6-1.3l.5 3.7l.6-1.8l.5 0l.6-3.4l.5 3.2l.6 1.9l.5 1.1l.6-3l.5 4.9l.6 .9l.5-4.5l.6 3.2l.5-3l.6 2.3l.5 .3l.6 1.2l.5-.8l.6-.7l.5 .9l.6 1.1" stroke="#0000ff" stroke-width="10"/>
<path d="M333.8 1123.6l.5 .2l.5 .3l.5-.2l.5 .3l.5 0l.5-.5l.5 .6l.5-.4l.5 .7l.5-.3l.5-.4l.5 .2l.5 0l.5 .1l.5 .3l.5-.3l.5 .3l.5-.2l.5-.2l.5-.3l.5 0l.5 .4l.5 .1l.5 .2l.5-.5l.5 .2l.5-.2l.5 .1l.5-.5l.5 .8l.5-.4l.5 .2l.5 .1l.5 0l.5-.4l.5 .7l.5-.2l.5 0l.5-.3l.5-.2l.5 0l.5 .3l.5 .1l.5-.2l.5 .7l.5-.4l.5 .2l.5 0l.5-.5l.5 .5l.5-.1l.5-.5l.5 .6l.5 0l.5 0l.5 .1l.5-.7l.5 .3l.5 0l.5 .1l.5 .1l.5 .2l.5-.1l.5-.4l.5 .5l.5 .2l.5-.4l.5-.4l.5 .2l.5 .1l.5-.3l.5 .4l.5-.3l.5 .5l.5 0l.5-.2l.5-.3l.5 .4l.5-.2l.5 0l.5 .4l.5-.4l.5-.2l.5 .6l.5 .2l.5 0l.5-.2l.5 .3l.5-.6l.5 .7l.5 0l.5-.6l.5 .2l.5-.5l.5 .1l.5 .4l.5-.4l.5 .3l.5 .1l.5-.1l.5 .2l.5 .3l.5-.4l.5 .2l.5 .1l.5-.5l.5 0l.5-.5l.5 .8l.5 .1l.5-.1l.5 .4l.5-.1l.5-.2l.5-.2l.5-.2l.5 .2l.5 .2l.5-.2l.5 0l.5 0l.5 .2l.5-.6l.5 .4l.5 .1l.5 .2l.5 0l.5-.3l.5 0l.5-.2l.5 .6l.5-.1l.5-.1l.5-.2l.5-.1l.5 .5l.5-.2l.5 .1l.5 .3l.5-.8l.5 .2l.5 .3l.5 .1l.5-.5l.5 .3l.5-.1l.5 0l.5 .2l.5 0l.5 .2l.5-.1l.5 .2l.5-.5l.5 .3l.5-.5l.5 0l.5 0l.5 .6l.5-.1l.5-.5l.5 .7l.5 0l.5-.3l.5 0l.5 0l.5-.3l.5 .9l.5-.7l.5 .1l.5 0l.5-.1l.5 0l.5 .3l.5-.4l.5 0l.5 .1l.5 .4l.5-.4l.5 0l.5 .3l.5-.3l.5 .2l.5 .3l.5-.1l.5-.1l.5 .4l.5-.5l.5-.1l.5-.2l.5 .4l.5 .2l.5-.3l.5 .6l.5-.2l.5 0l.5-.6l.5 .4l.5 .1l.5-.6l.5 .5l.5-.1l.5-.4l.5 .6l.5 .4l.5-.3l.5-.4l.5 .2l.5 .3l.5-.5l.5 .3l.5 0l.5 0l.5 .4l.5-.8l.5 .7l.5-.3l.5 0l.5-.4l.5 .5l.5-.2l.5-.6l.5 .4l.5 0l.5 .1l.5 .1l.5-.1l.5 .6l.5-.1l.5-.3l.5 .4l.5 .2l.5-.4l.5-.4l.5 .4l.5 .3l.5-.6l.5 .2l.5 .3l.5 0l.5 0l.5-.2l.5-.1l.5-.1l.5 .4l.5 0l.5-.3l.5-.1l.5 .5l.5-.1l.5-.4l.5-.2l.5 .4l.5 .2l.5 .1l.5-.1l.5-.5l.5 .4l.5-.1l.5-.1l.5 .8l.5-.6l.5 0l.5-.1l.5 .3l.5 .1l.5-.4l.5 .1l.5-.1l.5-.1l.5 .2l.5 .1l.5 0l.5-.1l.5-.4l.5 .5l.5 0l.5 .4l.5-.6l.5-.2l.5-.1l.5 .3l.5 .2l.5 .1l.5-.5l.5 .3l.5 .4l.5-.2l.5-.1l.5 0l.5-.3l.5 0l.5 .2l.5 .5l.5 0l.5-.3l.5 .2l.5-.1l.5 .2l.5-.5l.5 .3l.5 .2l.5-.6l.5 .3l.5 .1l.5 .1l.5 0l.5 0l.5 .1l.5 .1l.5-.2l.5 .4l.5-.6l.5 .1l.5 .1l.5-.3l.5-.1l.5 0l.5 .6l.5-.4l.5-.2l.5 .8l.5-.3l.5-.1l.5-.3l.5 .4l.5-.2l.5 .2l.5-.1l.5 0l.5 .1l.5-.3l.5 .1l.5-.1l.5 .3l.5 .1l.5 .1l.5-.7l.5 .9l.5-.5l.5 0l.5 .1l.5 0l.5 .3l.5-.3l.5 .1l.5 .2l.5 0l.5-.5l.5-.1l.5-.1l.5 0l.5 .5l.5 0l.5 0l.5 .1l.5 0l.5 .2l.5 .1l.5-.6l.5 .6l.5-.1l.5-.5l.5 .3l.5-.2l.5-.3l.5 .5l.5-.5l.5 .5l.5-.3l.5 .2l.5 .3l.5-.2l.5-.2l.5 .3l.5 .1l.5 0l.5-.4l.5 .5l.5-.3l.5-.1l.5 .4l.5-.1l.5 0l.5-.1l.5-.5l.5 .6l.5 0l.5-.1l.5 .4l.5-.4l.5 .4l.5-.1l.5-.5l.5 0l.5 .2l.5 0l.5 .2l.5-.3l.5-.1l.5 .8l.5-.5l.5 0l.5 .4l.5-.4l.5-.6l.5 .7l.5-.2l.5 .4l.5-.7l.5 .5l.5 .1l.5 .2l.5-.1l.5 0l.5-.2l.5 0l.5-.3l.5 .5l.5 .2l.5-.3l.5-.3l.5-.1l.5 .2l.5 .5l.5-.3l.5-.3l.5 .1l.5 .3l.5-.3l.5 0l.5 0l.5-.1l.5 .7l.5-.6l.5 .2l.5 .3l.5-.3l.5-.1l.5 .1l.5 0l.5 0l.5-.1l.5 0l.5 .2l.5 .4l.5-.6l.5 .3l.5-.2l.5-.2l.5 0l.5 .4l.5-.4l.5 .4l.5-.2l.5 .5l.5-.7l.5 .6l.5 .1l.5-.2l.5-.3l.5 .2l.5 0l.5-.1l.5 .3l.5-.3l.5 .1l.5 .2l.5-.3l.5 0l.5 .1l.5-.1l.5-.5l.5 .5l.5 .1l.5-.3l.5-.1l.5 .5l.5-.2l.5 .3l.5 0l.5 .2l.5-.2l.5 .1l.5 .1l.5-.4l.5 .4l.5 0l.5-.8l.5 .2l.5 .3l.5 .4l.5-.5l.5-.2l.5-.1l.5 .5l.5 0l.5-.2l.5 .2l.5-.1l.5 .3l.5-.6l.5 .2l.5 .4l.5-.4l.5 0l.5 .1l.5 .5l.5-.3l.5 .2l.5-.5l.5 .2l.5 .2l.5-.1l.5-.2l.5-.4l.5 .7l.5 0l.5 0l.5-.6l.5 .1l.5 .2l.5-.1l.5 .5l.5-.5l.5 .2l.5-.2l.5-.1l.5 .6l.5-.2l.5-.2l.5 .2l.5-.5l.5 .9l.5-.6l.5-.2l.5 .2l.5 .3l.5-.1l.5 .2l.5 0l.5-.1l.5 .2l.5-.7l.5 .6l.5 0l.5 0l.5-.1l.5-.1l.5 0l.5-.3l.5 .3l.5 .4l.5 .1l.5-.5l.5 0l.5 0l.5 .1l.5 0l.5 .2l.5 .2l.5-.8l.5 .2l.5 .2l.5 .1l.5 .1l.5 .3l.5-.6l.5 .4l.5-.2l.5 0l.5 .1l.5 .1l.5-.1l.5-.3l.5 .4l.5 0l.5-.5l.5 .5l.5-.2l.5 0l.5 .1l.5 .4l.5-.8l.5 .4l.5-.5l.5 .5l.5 .2l.5-.6l.5 .7l.5-.2l.5-.1l.5 0l.5 0l.5 .1l.5-.1l.5 .3l.5 0l.5-.5l.5 .5l.5 .2l.5 0l.5-.3l.5-.5l.5 .3l.5 .1l.5 0l.5-.3l.5 .5l.5 .1l.5-.6l.5 .2l.5-.1l.5 .3l.5 .3l.5-.8l.5 .9l.5-.2l.5-.5l.5 .7l.5-.1l.5-.2l.5 0l.5-.3l.5 .4l.5-.4l.5 .3l.5 .2l.5-.3l.5-.1l.5 .3l.5 .1l.5 0l.5-.3l.5 .4l.5 .1l.5-.5l.5 .2l.5-.5l.5 .4l.5-.3l.5 .3l.5-.1l.5-.5l.5 .8l.5-.4l.5 .5l.5 .1l.5-.2l.5-.2l.5 .1l.5-.4l.5 .4l.5 .2l.5-.1l.5-.4l.5 .7l.5-.3l.5-.3l.5 .3l.5-.3l.5 .1l.5 .1l.5 .5l.5 .1l.5-1l.5 .4l.5 0l.5 .2l.5-.1l.5-.2l.5 .2l.5-.2l.5-.1l.5 .4l.5-.1l.5-.2l.5 .3l.5-.2l.5-.1l.5 .1l.5 .2l.5-.3l.5 .6l.5-.5l.5 .2l.5 .1l.5-.2l.5-.1l.5 .1l.5 .3l.5 0l.5-.1l.5-.3l.5-.1l.5 .1l.5 0l.5 .2l.5 0l.5-.2l.5 .3l.5-.3l.5 .2l.5-.2l.5 .4l.5-.1l.5-.1l.5 .3l.5-.1l.5-.5l.5 .4l.5-.3l.5 .1l.5 0l.5-.2l.5 0l.5 .4l.5 0l.5 .1l.5-.2l.5 0l.5 0l.5 0l.5-.1l.5 .2l.5-.3l.5 0l.5-.1l.5 .4l.5-.2l.5 .1l.5 .1l.5-.2l.5 .2l.5 0l.5 0l.5-.5l.5 .8l.5-.2l.5 .1l.5 .3l.5-.7l.5 .7l.5-.5l.5 .3l.5 0l.5-.5l.5 .3l.5-.2l.5 .3l.5-.5l.5 .8l.5-.3l.5-.2l.5-.1l.5 .5l.5-.4l.5 .3l.5-.5l.5 .5l.5-.6l.5 .5l.5-.3l.5 0l.5 .5l.5-.1l.5-.3l.5 0l.5 .4l.5-.6l.5 .3l.5-.1l.5 .2l.5 0l.5-.1l.5-.2l.5 .3l.5 .1l.5-.2l.5 .5l.5-.5l.5 .1l.5 .5l.5-.6l.5 .1l.5-.3l.5 .3l.5-.1l.5 .2l.5-.3l.5 .5l.5-.1l.5 .1l.5-.3l.5-.4l.5 .5l.5 0l.5-.2l.5 .6l.5-.4l.5 0l.5 .1l.5 0l.5 0l.5 .1l.5-.2l.5-.1l.5-.1l.5 .3l.5 0l.5 .1l.5-.4l.5-.1l.5 0l.5 .7l.5-.2l.5-.2l.5 0l.5 .6l.5-.4l.5 0l.5-.3l.5 .4l.5-.3l.5-.1l.5 .5l.5-.2l.5 .1l.5-.6l.5 .3l.5-.1l.5 .2l.5 0l.5 0l.5-.2l.5 .5l.5-.6l.5 .4l.5-.1l.5 .3l.5-.5l.5 .5l.5-.5l.5 .3l.5-.1l.5 .6l.5-.9l.5 .2l.5-.3l.5 .2l.5 .2l.5 0l.5-.2l.5 .1l.5 .1l.5 .1l.5 .4l.5-.3l.5-.1l.5-.1l.5 .2l.5 .2l.5-.4l.5 .3l.5-.1l.5-.6l.5 1l.5-.3l.5-.5l.5-.2l.5 .6l.5-.2l.5 .2l.5-.2l.5 .4l.5-.4l.5 .2l.5 .1l.5-.2l.5 .3l.5-.2l.5 0l.5-.1l.5-.5l.5 .3l.5 .7l.5-.5l.5-.1l.5 .1l.5 0l.5 .6l.5-.8l.5 .1l.5 .4l.5-.6l.5 0l.5 .1l.5 .1l.5 .5l.5 .1l.5-.2l.5 .3l.5-.9l.5 .7l.5-.4l.5 .3l.5-.2l.5-.3l.5 .6l.5 .1l.5-.3l.5-.2l.5 .7l.5-1.1l.5 .6l.5-.2l.5 0l.5 .4l.5-.3l.5 .3l.5-.1l.5 .2l.5-.1l.5 0l.5-.2l.5 0l.5-.2l.5 .3l.5 .1l.5-.3l.5 .2l.5-.3l.5 .2l.5-.2l.5 .2l.5 .3l.5-.2l.5-.5l.5 .6l.5-.2l.5 .4l.5-.2l.5 0l.5-.2l.5 .1l.5-.2l.5 .2l.5 .2l.5-.6l.5 .3l.5 .3l.5-.5l.5 .3l.5 .1l.5 0l.5 .1l.5 0l.5 .1l.5-.4l.5 .2l.5 0l.5-.4l.5 .2l.5 .3l.5-.1l.5 .1l.5-.2l.5 0l.5 .3l.5-.7l.5 0l.5 .5l.5 0l.5 .1l.5 0l.5-.1l.5-.3l.5 .4l.5-.1l.5-.3l.5-.1l.5 .3l.5 .2l.5-.1l.5 .3l.5-.4l.5-.1l.5 0l.5 .2l.5 .1l.5 .1l.5-.2l.5-.3l.5 .1l.5 .3l.5-.1l.5 .1l.5-.2l.5 0l.5 0l.5 0l.5 .2l.5 .3l.5-.4l.5 .1l.5-.5l.5 .6l.5-.2l.5 .4l.5-.2l.5 .2l.5-.6l.5 .4l.5 .1l.5-.3l.5 .3l.5-.6l.5 .4l.5-.1l.5 .3l.5-.7l.5 .7l.5 .2l.5-.7l.5 .5l.5-.4l.5 .4l.5 .1l.5-.6l.5 .7l.5-.4l.5 0l.5 .2l.5 0l.5-.2l.5 .2l.5 0l.5-.4l.5 .3l.5 0l.5-.1l.5 .2l.5-.3l.5-.3l.5 .6l.5-.1l.5-.1l.5-.1l.5 .7l.5-.5l.5-.3l.5 .3l.5 .1l.5-.5l.5 .5l.5-.6l.5 .4l.5 .3l.5 0l.5-.1l.5 .1l.5-.4l.5 .2l.5 .1l.5-.5l.5 .4l.5 .1l.5 .2l.5-.1l.5 0l.5 0l.5-.4l.5 0l.5 .1l.5-.2l.5 .5l.5 .2l.5-.1l.5-.2l.5 .2l.5-.3l.5 .1l.5 .2l.5-.5l.5 .1l.5 .2l.5 .6l.5-.5l.5 0l.5 .2l.5-.5l.5-.4l.5 .2l.5 .1l.5 .6l.5-.4l.5 0l.5 0l.5 0l.5 0l.5 0l.5 .3l.5-.2l.5-.4l.5 .5l.5-.1l.5-.2l.5 .2l.5-.2l.5 .7l.5-.3l.5-.2l.5-.3l.5 .4l.5 0l.5-.2l.5 0l.5 .5l.5-.6l.5 .4l.5 0l.5-.5l.5 .3l.5 .2l.5-.2l.5-.4l.5 .5l.5 .3l.5-.3l.5-.1l.5-.2l.5 .1l.5 .2l.5-.5l.5 .1l.5 .3l.5 0l.5 0l.5-.1l.5 .4l.5-.4l.5 .1l.5-.2l.5 0l.5 .1l.5 .7l.5-.4l.5-.5l.5 .7l.5-.4l.5-.3l.5 .3l.5-.3l.5 .1l.5-.1l.5 .2l.5-.4l.5 .7l.5 .2l.5-.5l.5 .1l.5 .1l.5-.2l.5 0l.5 .2l.5 .1l.5-.3l.5 .3l.5-.1l.5-.3l.5 .2l.5-.5l.5 .2l.5 .4l.5 0l.5 .1l.5 .1l.5-.6l.5 .4l.5-.5l.5 .4l.5-.2l.5 .3l.5-.1l.5 0l.5-.2l.5 .2l.5 .3l.5-.1l.5-.2l.5-.4l.5 0l.5 .4l.5 .1l.5 0l.5-.1l.5-.2l.5-.2l.5 .6l.5-.1l.5 .2l.5-.7l.5 .5l.5 0l.5-.4l.5 0l.5 0l.5 .1l.5 .1l.5 0l.5 .4l.5-.3l.5-.2l.5 .2l.5-.2l.5-.4l.5 .6l.5-.2l.5 .4l.5-.3l.5 .4l.5-.2l.5-.5l.5 .7l.5-.5l.5 .1l.5-.3l.5 .2l.5 .7l.5-.6l.5-.9l.5 1.3l.5-.4l.5-.2l.5 .3l.5-.1l.5-.2l.5 .5l.5-.3l.5 .2l.5-.3l.5 0l.5 0l.5-.3l.5 0l.5 .4l.5-.2l.5 .1l.5-.1l.5-.2l.5 .4l.5-.4l.5-.1l.5 .2l.5 .2l.5 0l.5-.6l.5 0l.5 .1l.5-.2l.5 .2l.5 .2l.5-.4l.5-.4l.5-.1l.5 0l.5 .2l.5 .1l.5-.6l.5 .3l.5-.1l.5 .2l.5-1.2l.5-.2l.5-.3l.5-.7l.5-.7l.5-1.1l.5-1.1l.5-1.6l.5-1.5l.5-2.2l.5-.9l.5-2.9l.5-1.8l.5-2.3l.5-2.8l.5-3.2l.5-3.7l.5-7.5l.5-12.9l.5-25.5l.5-43.9l.5-62.2l.5-65l.5-39.6l.5 8.1l.5 33.9l.5 34l.5 36.1l.5 42.6l.5 41.7l.5 32.8l.5 21.6l.5 12.2l.5 7.5l.5 3.5l.5 2.3l.5 1.7l.5 1.3l.5 1.3l.5 .8l.5 .5l.5 .8l.5-.1l.5 .7l.5 .3l.5-.3l.5 .8l.5 0l.5 .7l.5-.4l.5 .6l.5-.1l.5-.3l.5 .7l.5 0l.5 0l.5-.1l.5 .6l.5-.5l.5 .4l.5 0l.5-.2l.5-.1l.5 .3l.5 0l.5-.3l.5 .5l.5 0l.5-.1l.5-.4l.5 .6l.5-.2l.5 .3l.5-.3l.5 0l.5 .1l.5 .1l.5 .5l.5-.7l.5-.1l.5 .3l.5 0l.5-.4l.5 0l.5 .3l.5 .1l.5 0l.5 .3l.5-.2l.5-.2l.5 .2l.5 .1l.5 .1l.5-.9l.5 .8l.5 0l.5 .3l.5-.4l.5 .1l.5-.4l.5 .6l.5 .1l.5-.5l.5 .2l.5-.1l.5 .4l.5-.3l.5 .1l.5 0l.5-.1l.5 .1l.5 .4l.5-.4l.5-.2l.5 .5l.5 .1l.5-.2l.5-.2l.5 0l.5 .2l.5 .1l.5 .4l.5-.1l.5-.8l.5 .4l.5 .2l.5-.2l.5-.2l.5-.1l.5 .3l.5 0l.5-.1l.5-.3l.5-.2l.5 .9l.5-.7l.5 .2l.5-.3l.5 .6l.5-.4l.5 .2l.5 .6l.5-.4l.5-.2l.5-.5l.5 .7l.5 0l.5 .1l.5-.2l.5-.4l.5 .1l.5 .4l.5 0l.5-.1l.5 .5l.5-.3l.5-.3l.5 .1l.5-.5l.5 .3l.5 .3l.5-.6l.5 .5l.5 .1l.5-.3l.5 .3l.5-.4l.5 .6l.5-.5l.5-.5l.5 .7l.5-.2l.5 .5l.5-.2l.5-.3l.5 .5l.5-.5l.5-.2l.5 .6l.5 .1l.5-.5l.5 .4l.5 .2l.5-.7l.5-.6l.5 1l.5-.3l.5 .3l.5-.1l.5-.2l.5-.1l.5-.1l.5 .2l.5-.1l.5 .4l.5 0l.5-.3l.5 .4l.5-.4l.5 0l.5 .3l.5-.1l.5-.2l.5 .3l.5 .2l.5-.7l.5 .2l.5-.4l.5 .5l.5 .6l.5-.5l.5-.1l.5 0l.5-.2l.5 .2l.5-.1l.5-.1l.5 .4l.5-.3l.5 .2l.5-.3l.5 .2l.5 .1l.5-.1l.5 .4l.5-.4l.5 .1l.5-.2l.5 .3l.5-.4l.5-.1l.5 .3l.5-.1l.5-.1l.5 .5l.5-.5l.5 .2l.5-.4l.5 .1l.5 .1l.5 .4l.5-.5l.5 .2l.5-.6l.5 .3l.5 .1l.5 .2l.5-.1l.5-.6l.5 .5l.5-.1l.5-.1l.5-.7l.5 .5l.5-1.2l.5 .2l.5-.4l.5-.2l.5-.6l.5-.7l.5 0l.5-1.5l.5-.3l.5-.6l.5-.5l.5-1.1l.5-2.1l.5-2l.5-6.3l.5-9.8l.5-15.2l.5-19.1l.5-14.2l.5-1.7l.5 9.9l.5 11l.5 6.4l.5 6.1l.5 8.5l.5 10.5l.5 9l.5 6.7l.5 3.5l.5 2l.5 1.3l.5 .4l.5 .3l.5 0l.5 1.1l.5 .1l.5 .1l.5 .4l.5 0l.5-.1l.5 .4l.5 0l.5 .1l.5 .2l.5-.2l.5 .2l.5-.2l.5-.2l.5 .3l.5 0l.5-.2l.5 .3l.5 .1l.5-.3l.5 .2l.5 .1l.5 0l.5 .3l.5-.6l.5 .8l.5-.6l.5 .6l.5-.4l.5 .4l.5-.5l.5 0l.5-.2l.5 .1l.5 .4l.5-.2l.5 0l.5 0l.5 0l.5 .2l.5-.1l.5-.3l.5 .5l.5-.3l.5 0l.5 .1l.5-.2l.5 0l.5-.1l.5 .5l.5-.6l.5 .4l.5-.5l.5 .1l.5 .6l.5-.2l.5 .1l.5-.1l.5 0l.5 .2l.5-.1l.5 .2l.5-.1l.5-.4l.5-.1l.5 .6l.5 0l.5-.5l.5 .5l.5-.6l.5-.1l.5 .7l.5-.4l.5-.2l.5 0l.5 .6l.5 .2l.5-.6l.5 .6l.5-.8l.5-.4l.5 .7l.5 .3l.5-.2l.5-.2l.5 .3l.5-.2l.5 .1l.5-.4l.5 .5l.5-.4l.5 .1l.5 .6l.5-.4l.5 .4l.5-.8l.5 .3l.5 .1l.5 .2l.5 .1l.5-.2l.5 .1l.5-.2l.5 .2l.5 0l.5-.1l.5 .2l.5-.3l.5-.1l.5-.1l.5 .1l.5 .2l.5-.6l.5 .6l.5-.2l.5 .3l.5-.5l.5 .3l.5-.3l.5 .1l.5 .3l.5 .3l.5-.3l.5-.1l.5-.3l.5 .4l.5-.3l.5 .4l.5 0l.5 0l.5-.8l.5 .3l.5 .1l.5 .1l.5 0l.5 0l.5 .2l.5 .1l.5-.3l.5-.2l.5 .3l.5 0l.5 0l.5-.3l.5 .5l.5-.1l.5 0l.5-.4l.5 .5l.5-.2l.5 .1l.5 0l.5-.4l.5 .3l.5 .2l.5-.2l.5 .1l.5-.4l.5-.1l.5 .4l.5-.6l.5 .8l.5-.4l.5 .6l.5-.6l.5 .2l.5-.3l.5-.1l.5 .5l.5 0l.5-.5l.5 .5l.5-.3l.5 0l.5 .2l.5 .3l.5-.4l.5-.1l.5 .2l.5-.2l.5 .4l.5-.4l.5 .2l.5-.5l.5 .3l.5-.2l.5 .8l.5-.6l.5 .2l.5 0l.5-.1l.5 0l.5 .3l.5 .1l.5-.1l.5-.1l.5-.2l.5 .1l.5 .1l.5 .4l.5-.4l.5-.3l.5 0l.5 .2l.5 0l.5 .4l.5-.3l.5 .1l.5-.3l.5-.2l.5 1l.5-.1l.5-.4l.5 .1l.5-.4l.5 .5l.5 .5l.5-.8l.5 .1l.5 .1l.5-.3l.5 0l.5 .1l.5-.2l.5 .3l.5-.4l.5 .3l.5-.1l.5 .2l.5-.3l.5-.2l.5 .3l.5 0l.5 .4l.5-.3l.5 .2l.5-.2l.5 0l.5-.1l.5-.3l.5 0l.5-.1l.5 .4l.5 .5l.5-.8l.5 .6l.5 .2l.5-.4l.5 .2l.5-.3l.5-.1l.5 0l.5 0l.5 .3l.5 0l.5-.3l.5 .5l.5-.3l.5-.2l.5 .3l.5 .3l.5-.1l.5-.5l.5 .3l.5-.1l.5 .3l.5 .2l.5-1.1l.5 .8l.5-.5l.5 .4l.5 .3l.5 0l.5-.6l.5 .6l.5-.5l.5 .1l.5-.3l.5 .2l.5-.2l.5 .5l.5-.4l.5 .5l.5-.5l.5 .5l.5-.1l.5-.2l.5 .2l.5 .2l.5 0l.5-.4l.5 0l.5 .3l.5 .5l.5-.6l.5-.5l.5 .1l.5 .2l.5 .1l.5-.4l.5-.2l.5 .6l.5-.2l.5 .1l.5-.4l.5 .3l.5 .4l.5-.3l.5-.3l.5 .5l.5-.3l.5 .4l.5-.2l.5-.1l.5-.1l.5 .4l.5-.4l.5 .3l.5 .2l.5-.5l.5 0l.5 .1l.5-.3l.5 .4l.5-.3l.5 .1l.5-.2l.5 .6l.5 .1l.5-.3l.5 .1l.5-.1l.5 .2l.5 .3l.5 .1l.5-.5l.5 .1l.5-.4l.5 .4l.5 .1l.5-.6l.5 .2l.5-.3l.5 .3l.5 0l.5-.3l.5-.1l.5 .4l.5-.4l.5 .6l.5-.3l.5-.1l.5 .3l.5 0l.5-.3l.5 .4l.5 0l.5 0l.5 .3l.5-.5l.5 .1l.5-.4l.5 .5l.5-.4l.5 .1l.5 .1l.5 .1l.5-.1l.5 0l.5 0l.5-.4l.5 .9l.5-.5l.5 .1l.5-.4l.5 .2l.5 .2l.5-.1l.5-.2l.5 .2l.5 .1l.5-.2l.5-.1l.5 .6l.5-.3l.5 .4l.5-.3l.5-.5l.5 .1l.5 0l.5 .4l.5-.5l.5 .7l.5-.5l.5 .3l.5 .1l.5-.5l.5 .1l.5 .2l.5 .3l.5-.1l.5-.3l.5 .3l.5-.2l.5 .2l.5-.5l.5 .7l.5-.5l.5 0l.5 .1l.5 .1l.5 .1l.5-.3l.5-.4l.5 1l.5-.7l.5 .5l.5-.5l.5-.1l.5 .5l.5-.5l.5-.4l.5 .9l.5-.1l.5 .2l.5-.2l.5-.3l.5 0l.5 .2l.5 .1l.5-.2l.5 .2l.5 .2l.5-.2l.5 .1l.5-.3l.5-.1l.5 0l.5 .3l.5-.3l.5 .3l.5-.4l.5 .4l.5 .2l.5-.3l.5 0l.5-.2l.5 .1l.5-.1l.5 .5l.5 0l.5-.1l.5-.2l.5 .2l.5-.2l.5-.4l.5 .2l.5-.1l.5 .3l.5-.1l.5 .2l.5-.4l.5 .4l.5 .1l.5-.3l.5-.1l.5 0l.5 .3l.5-.1l.5-.6l.5 .9l.5-.3l.5 .1l.5-.3l.5 .5l.5 .1l.5-.6l.5 .2l.5 0l.5-.1l.5 0l.5 .5l.5-.8l.5 .5l.5-.1l.5-.3l.5 .4l.5-.4l.5 .5l.5 0l.5 0l.5 .2l.5-.6l.5 .2l.5 .1l.5 .4l.5-.3l.5-.1l.5 .1l.5 0l.5-.4l.5 .5l.5 0l.5-.3l.5-.1l.5-.3l.5 .6l.5-.2l.5-.1l.5-.1l.5 0l.5 .4l.5-.5l.5 .5l.5-.1l.5 0l.5-.1l.5-.3l.5 1l.5-.4l.5-.3l.5 .1l.5 0l.5-.7l.5 .8l.5-.3l.5 .1l.5-.4l.5 .2l.5 0l.5 .7l.5-.6l.5 .1l.5 .3l.5-.3l.5 .2l.5 0l.5-.1l.5-.1l.5-.3l.5 .1l.5-.2l.5 .8l.5-.3l.5 .3l.5-.3l.5 .2l.5-.6l.5 0l.5 .4l.5-.1l.5 .3l.5-.6l.5 0l.5 .2l.5 .2l.5-.1l.5-.1l.5-.2l.5 .2l.5 .3l.5-.2l.5-.3l.5 .3l.5 .4l.5-.4l.5 .4l.5-.5l.5 .1l.5 .6l.5-.8l.5 .2l.5 0l.5 .2l.5-.2l.5 .5l.5-.1l.5-.1l.5-.1l.5 .1l.5-.6l.5 .5l.5-.4l.5 .2l.5 .4l.5-.1l.5-.5l.5 .4l.5-.1l.5 .2l.5-.2l.5-.3l.5 .5l.5-.7l.5 .5l.5-.1l.5 0l.5 .5l.5-.6l.5 0l.5 .3l.5-.7l.5 .2l.5 .6l.5-.2l.5 0l.5 .4l.5-.8l.5 .4l.5-.1l.5 .1l.5-.3l.5-.2l.5 .4l.5-.3l.5 .2l.5-.2l.5 .5l.5-.3l.5 .4l.5 .1l.5-.6l.5 0l.5 .2l.5 .2l.5 .1l.5-.3l.5 .1l.5 .2l.5-.2l.5-.3l.5 .4l.5 .1l.5-.5l.5 .3l.5 .1l.5-.3l.5 .1l.5 .1l.5 0l.5 0l.5-.2l.5 0l.5 .4l.5-.5l.5 .2l.5-.5l.5 .7l.5-.6l.5 .6l.5 .1l.5-.3l.5-.1l.5 .2l.5 .3l.5-.1l.5-.4l.5 .4l.5-.3l.5 .2l.5-.1l.5 0l.5 0l.5-.1l.5 .3l.5-.6l.5 .1l.5 .2l.5 0l.5 .2l.5 .1l.5-.4l.5-.1l.5 .8l.5-1.2l.5 .7l.5-.1l.5-.1l.5 .6l.5-.4l.5-.8l.5 .8l.5 .1l.5 .2l.5-.3l.5-.4l.5 .2l.5 0l.5-.3l.5 .5l.5 .1l.5 .1l.5 0l.5-.2l.5-.2l.5 .6l.5-.5l.5-.3l.5 .4l.5-.4l.5 .3l.5 .2l.5-.4l.5 .1l.5 .2l.5-.1l.5 0l.5-.3l.5 .1l.5 .2l.5-.1l.5 .1l.5-.1l.5-.4l.5 .5l.5-.4l.5 .4l.5 0l.5-.1l.5 0l.5 .3l.5-.1l.5-.7l.5 .4l.5 .3l.5-.5l.5-.1l.5 .6l.5-.5l.5 .5l.5 0l.5-.4l.5-.1l.5 .7l.5-.4l.5-.1l.5 0l.5 .3l.5-.3l.5-.2l.5 0l.5 .3l.5-.1l.5-.2l.5 .1l.5-.6l.5 .8l.5-.5l.5-.2l.5-.5l.5 .6l.5-.7l.5 .8l.5-1.3l.5 .5l.5-.6l.5 .1l.5-1.5l.5 0l.5-.9l.5-.4l.5-.8l.5-.9l.5-.9l.5-1.3l.5-1.3l.5-1l.5-1.5l.5-1.7l.5-2.5l.5-4.4l.5-9.6l.5-16.9l.5-26.9l.5-33.9l.5-27.6l.5-4.2l.5 22.1l.5 29.1l.5 20l.5 5.7l.5-3.8l.5-3.8l.5 6.8l.5 15.8l.5 16.2l.5 12l.5 7.9l.5 3.5l.5 2.8l.5 1.5l.5 .6l.5 .5l.5 .8l.5-.3l.5 .8l.5 .6l.5-.4l.5 .4l.5 0l.5 .2l.5 .2l.5 .2l.5-.6l.5-.1l.5 .8l.5-.2l.5 0l.5 .2l.5 .1l.5 0l.5 .3l.5-.3l.5 .3l.5-.3l.5 .1l.5 0l.5 .5l.5-.1l.5-.1l.5-.2l.5 0l.5 .3l.5 .1l.5 0l.5-.3l.5 .1l.5-.2l.5 .4l.5-.1l.5 .2l.5-.1l.5 0l.5-.3l.5-.2l.5 .6l.5-.2l.5 .2l.5-.7l.5 .5l.5-.2l.5 .3l.5-.8l.5 .7l.5-.1l.5-.1l.5-.1l.5 .7l.5-.3l.5-.1l.5 0l.5 .2l.5 0l.5 .1l.5-.8l.5-.1l.5 .5l.5-.3l.5 .6l.5-.3l.5 .7l.5-.6l.5-.2l.5 .2l.5 .3l.5-.1l.5-.1l.5-.2l.5-.2l.5 .2l.5 .7l.5-.5l.5-.3l.5-.1l.5 .4l.5 .3l.5-.1l.5-.4l.5-.2l.5 .6l.5-.4l.5 .5l.5-.7l.5 .4l.5-.2l.5 0l.5 .6l.5-.8l.5 0l.5 .5l.5 .1l.5-.3l.5 .4l.5-.3l.5-.6l.5 .5l.5 .4l.5-.4l.5 0l.5 .4l.5 .3l.5-.5l.5-.1l.5 .4l.5-.3l.5 .1l.5-.2l.5 .2l.5-.2l.5 .5l.5-.4l.5-.1l.5 .4l.5-.5l.5-.6l.5 .4l.5 .2l.5 .3l.5 .1l.5-.4l.5 .3l.5-.1l.5-.2l.5 .2l.5-.5l.5 .2l.5 .5l.5-.5l.5 .4l.5-.3l.5 .2l.5-.5l.5 .6l.5-.3l.5-.1l.5 1.2l.5-1.5l.5 .5l.5 .1l.5 .3l.5-.7l.5 .5l.5 0l.5-.1l.5 .1l.5-.2l.5-.1l.5 .4l.5-.5l.5 .4l.5-.4l.5 0l.5 .6l.5-.4l.5-.3l.5 .3l.5 .2l.5-.4l.5 .3l.5-.3l.5-.2l.5 .7l.5-.1l.5 .2l.5 .2l.5-.1l.5-.3l.5-.1l.5-.2l.5 .5l.5-.3l.5-.1l.5-.2l.5 .1l.5 .1l.5 0l.5 0l.5 .2l.5 .3l.5-.2l.5-.2l.5 .1l.5 .1l.5 .2l.5-.7l.5 .1l.5 .3l.5 .3l.5-.3l.5 .1l.5-.4l.5 .3l.5 .2l.5-.5l.5 .2l.5 .4l.5-.3l.5-.3l.5 .3l.5-.2l.5 .2l.5 .2l.5-.4l.5 .2l.5-.2l.5-.4l.5 .1l.5 .4l.5 .2l.5 .1l.5-.8l.5 .6l.5-.5l.5-.3l.5 .6l.5-.2l.5 .5l.5-.2l.5-.3l.5 .1l.5 .4l.5-.1l.5 .1l.5-.4l.5-.1l.5 .6l.5 0l.5-.4l.5-.2l.5 .4l.5 0l.5-.6l.5 .6l.5 .1l.5-.4l.5 .5l.5-.3l.5 .1l.5-.4l.5 .1l.5 .1l.5 .2l.5 0l.5-.2l.5 .2l.5-.5l.5 .3l.5-.1l.5 0l.5 .2l.5 0l.5 .1l.5 .1l.5-.7l.5 .7l.5-.3l.5 .1l.5 0l.5 .1l.5-.4l.5 0l.5 .1l.5 .1l.5 .1l.5 0l.5-.1l.5 .3l.5-.3l.5-.1l.5 .3l.5-.5l.5 .5l.5 .1l.5-.2l.5 .4l.5-.6l.5-.3l.5 .8l.5-.3l.5 .1l.5-.1l.5-.2l.5 .3l.5-.5l.5 .6l.5-.4l.5 .3l.5 .1l.5-.1l.5-.1l.5 .3l.5-.3l.5-.1l.5 .2l.5-.3l.5-.1l.5-.2l.5 .6l.5-.2l.5 .4l.5-.4l.5 .3l.5-.2l.5-.1l.5 .2l.5-.2l.5 .2l.5-.3l.5-.1l.5 .8l.5-.5l.5-.2l.5 .2l.5-.1l.5 .1l.5-.3l.5 .3l.5 0l.5 .1l.5-.1l.5 0l.5 .2l.5 .3l.5-.4l.5 .1l.5 0l.5-.3l.5 .7l.5-.9l.5-.3l.5 .6l.5-.1l.5-.1l.5-.2l.5 .4l.5-.2l.5 .1l.5-.2l.5 .6l.5-.5l.5 .1l.5 0l.5 0l.5 .1l.5-.2l.5 .5l.5-.3l.5-.3l.5 .4l.5 .2l.5-.6l.5-.1l.5 .3l.5 0l.5 .1l.5-.3l.5 .5l.5-.1l.5-.6l.5 .5l.5-.2l.5 0l.5-.1l.5 .7l.5-.3l.5-.3l.5 0l.5-.3l.5 1.2l.5-1l.5 .6l.5-.3l.5-.2l.5 .3l.5-.3l.5 .1l.5 .3l.5-.5l.5 .7l.5-1l.5 .8l.5-.3l.5-.2l.5-.2l.5 .2l.5 .3l.5-.3l.5 .2l.5 .3l.5-.4l.5 .2l.5-.3l.5 .2l.5 .3l.5-.7l.5 .2l.5 .4l.5 .2l.5-.2l.5 0l.5-.3l.5-.1l.5 .4l.5-.5l.5 .3l.5-.2l.5 .3l.5-.2l.5-.4l.5 .6l.5-.1l.5-.2l.5 0l.5 0l.5-.4l.5 .7l.5-.1l.5 .4l.5-.1l.5-.3l.5-.7l.5 .4l.5 .3l.5-.4l.5 .5l.5-.2l.5-.1l.5-.2l.5 .4l.5-.2l.5-.5l.5 .6l.5-.6l.5 .3l.5 .5l.5-.8l.5 .5l.5-.9l.5 0l.5-.1l.5 0l.5-.3l.5 .2l.5-.2l.5-.8l.5-.6l.5-.4l.5-.6l.5-.9l.5-.5l.5-.8l.5-.7l.5-.5l.5-1.4l.5-1.1l.5-1.4l.5-2.5l.5-5.8l.5-10.4l.5-16.9l.5-23.6l.5-24.3l.5-11.1l.5 10.9l.5 23.8l.5 22.1l.5 13.8l.5 3.4l.5-4.7l.5-8.7l.5-4.9l.5 4.1l.5 11.1l.5 11.7l.5 8.8l.5 5.8l.5 3l.5 1.3l.5 1.3l.5 .3l.5 .6l.5 .4l.5-.2l.5 .1l.5 .7l.5 .1l.5 .6l.5-.4l.5 0l.5 .3l.5 0l.5-.1l.5 .6l.5-.3l.5-.2l.5-.1l.5 .4l.5 0l.5-.1l.5 .1l.5 .1l.5 .2l.5 .3l.5-1l.5 .2l.5 .1l.5 .3l.5 .1l.5 .3l.5-.6l.5 .1l.5 .1l.5 0l.5-.3l.5 .4l.5 0l.5-.3l.5 .1l.5 .5l.5-.8l.5 .5l.5 .2l.5-.1l.5 0l.5 0l.5-.2l.5 .1l.5 .1l.5 .2l.5-.6l.5-.3l.5 .4l.5-.1l.5 .3l.5-.1l.5 0l.5 .4l.5-.6l.5 .3l.5 0l.5-.2l.5 0l.5 0l.5 .3l.5-.1l.5 .2l.5 .3l.5-.4l.5-.2l.5 .1l.5-.2l.5-.1l.5 .2l.5 .2l.5-.4l.5 .2l.5-.5l.5 .3l.5 .6l.5-.2l.5 .5l.5-.6l.5 .2l.5 0l.5-.4l.5 .2l.5 .2l.5-.4l.5 .2l.5 .5l.5-.6l.5 0l.5 .1l.5 0l.5 .5l.5-.9l.5 .2l.5 .5l.5-.4l.5 0l.5 .6l.5-.9l.5 .5l.5 0l.5-.3l.5 0l.5 .1l.5 .2l.5-.4l.5-.3l.5 .4l.5-.2l.5 .5l.5-.2l.5 0l.5-.5l.5-.2l.5 .5l.5-.5l.5-.1l.5 .1l.5-.5l.5 .2l.5-.7l.5-.5l.5 0l.5 0l.5-1.1l.5-2.6l.5-2.2l.5-4.7l.5-4.4l.5-1.4l.5 1.7l.5 4.6l.5 3.3l.5 3.2l.5 .7l.5 0l.5-1.7l.5-1.4l.5 0l.5 1l.5 2l.5 2.2l.5 1.2l.5 .9l.5 .5l.5 .4l.5-.6l.5 .5l.5-.1l.5 0l.5-.1l.5 .1l.5-.1l.5 .5l.5-.3l.5 .1l.5 0l.5 0l.5 .1l.5-.1l.5 .3l.5-.6l.5 .3l.5 0l.5-.3l.5 .5l.5-.5l.5 0l.5 .5l.5-.2l.5 .1l.5-.3l.5 .1l.5 .6l.5-.4l.5-.3l.5 .3l.5 .4l.5-.3l.5-.1l.5 .1l.5 .2l.5 0l.5-.5l.5 .7l.5 0l.5-.6l.5 .4l.5-.6l.5 .6l.5-.7l.5 .6l.5-.3l.5 .2l.5 .1l.5 0l.5-.2l.5 .1l.5-.1l.5-.3l.5 .3l.5 .2l.5-.3l.5 .2l.5 .2l.5-.5l.5 .4l.5 .7l.5-.9l.5 .3l.5-.4l.5 .2l.5-.3l.5 .6l.5-.7l.5 .2l.5 .2l.5 0l.5-.5l.5 .4l.5 0l.5 .2l.5-.1l.5-.4l.5 .1l.5 .5l.5 .1l.5 0l.5-.8l.5 .3l.5-.1l.5-.1l.5 .6l.5-.6l.5 .3l.5-.3l.5 .6l.5-.4l.5 .2l.5 .2l.5-.2l.5-.4l.5 .4l.5-.2l.5 .1l.5 .3l.5-.2l.5-.4l.5 .4l.5 .5l.5-.2l.5-.2l.5 .1l.5-.1l.5-.4l.5 0l.5 .5l.5-.2l.5 .1l.5 0l.5 .3l.5-.1l.5-.1l.5 0l.5 0l.5-.3l.5-.3l.5 .4l.5 0l.5 .1l.5-.1l.5 .2l.5 0l.5-.6l.5 .2l.5 .3l.5 .2l.5 .2l.5-.6l.5 .1l.5-.2l.5 .4l.5-.2l.5-.3l.5 .5l.5 .3l.5-.2l.5-.3l.5 .2l.5-.3l.5 .7l.5-.6l.5 0l.5-.3l.5 .5l.5-.3l.5 .1l.5-.4l.5 .3l.5 .2l.5 0l.5 .1l.5-.3l.5 .3l.5-.4l.5 0l.5 0l.5 .3l.5-.1l.5 .2l.5 .3l.5-.5l.5 .1l.5-.2l.5-.2l.5 .3l.5 0l.5-.2l.5 0l.5 .5l.5-.4l.5 .1l.5 .2l.5-.1l.5-.3l.5-.1l.5 .4l.5-.1l.5 0l.5 0l.5 .3l.5-.2l.5 .4l.5-.5l.5 .3l.5 0l.5-.3l.5 .2l.5-.4l.5-.2l.5 .7l.5-.4l.5 .6l.5-.7l.5-.2l.5 .8l.5-.5l.5 .3l.5-.3l.5 .5l.5-.6l.5 .2l.5-.2l.5 .5l.5-.1l.5-.2l.5 .1l.5-.1l.5-.2l.5 .5l.5-.2l.5 .4l.5-.4l.5-.2l.5 .3l.5-.1l.5 .3l.5-.3l.5-.2l.5 .3l.5-.1l.5 .1l.5-.3l.5 .1l.5 .1l.5 0l.5 .2l.5-.3l.5 .2l.5-.3l.5 .1l.5 .2l.5 0l.5-.1l.5-.1l.5 0l.5-.3l.5 0l.5 .5l.5-.2l.5 .4l.5 0l.5-.6l.5 .4l.5 0l.5 0l.5 0l.5-.4l.5 .8l.5-.5l.5 .2l.5-.5l.5 .1l.5 .3l.5 0l.5 0l.5-.1l.5 .2l.5-.3l.5-.1l.5 .3l.5-.4l.5 .1l.5 0l.5 0l.5 0l.5 0l.5-.1l.5 .4l.5-.2l.5 0l.5 .3l.5-.5l.5 0l.5 .2l.5 .2l.5-.3l.5 0l.5 .3l.5-.6l.5 .7l.5-.5l.5-.1l.5 .2l.5 0l.5-.1l.5 .3l.5-.6l.5 .4l.5 0l.5-.3l.5 .2l.5 .5l.5-.4l.5 .1l.5-.1l.5 .1l.5-.4l.5 .7l.5-.6l.5 .1l.5 .6l.5-.4l.5 .5l.5-.2l.5-.4l.5-.1l.5 .2l.5-.1l.5 .2l.5 .2l.5-.1l.5-.4l.5 .5l.5-.1l.5-.2l.5 .2l.5 0l.5 0l.5-.4l.5 .2l.5 .5l.5-.7l.5 0l.5 .7l.5-.5l.5 .3l.5-.4l.5 .1l.5 .5l.5 0l.5-.3l.5-.1l.5 .3l.5-.2l.5-.1l.5-.4l.5 .2l.5-.1l.5 .5l.5-.3l.5 .1l.5 .1l.5-.2l.5 0l.5-.1l.5 .2l.5-.1l.5 0l.5 .7l.5-.5l.5-.6l.5 .3l.5 .3l.5-.4l.5 .2l.5 .1l.5-.3l.5 0l.5 .1l.5 .2l.5-.4l.5 .1l.5 .6l.5 .3l.5-.3l.5-.6l.5 .2l.5-.4l.5 .9l.5-.3l.5-.2l.5-.1l.5 .1l.5-.4l.5 .3l.5-.4l.5-.2l.5 1.2l.5-.5l.5 .2l.5-.1l.5-.1l.5 .3l.5-.5l.5 .1l.5-.1l.5 0l.5-.2l.5 .7l.5-.5l.5 .4l.5-.5l.5 .2l.5 .3l.5-.4l.5 .6l.5-.7l.5 .4l.5-.1l.5-.3l.5 .4l.5-.1l.5 .4l.5-.1l.5-.2l.5 .2l.5 0l.5-.7l.5 .2l.5 .3l.5-.4l.5 .1l.5-.2l.5 .7l.5 0l.5-.2l.5 .2l.5-.3l.5 0l.5 .1l.5 .2l.5-.1l.5 .1l.5-.1l.5-.3l.5 .1l.5 0l.5 .1l.5 .4l.5-.7l.5 .1l.5 .5l.5-.2l.5-.1l.5-.1l.5-.5l.5 .6l.5-.1l.5 .3l.5-.6l.5 .9l.5-.7l.5 .3l.5-.1l.5 0l.5-.1l.5 0l.5 .5l.5-.6l.5 .5l.5-.4l.5-.2l.5-.2l.5 .3l.5 .1l.5 0l.5 .4l.5-.3l.5-.3l.5 .4l.5 0l.5-.3l.5-.2l.5 .7l.5 0l.5-.4l.5-.2l.5-.2l.5 .8l.5-.5l.5 .2l.5-.4l.5 .6l.5-.8l.5 .2l.5 .4l.5-.1l.5 .4l.5 0l.5-.1l.5 .2l.5 .2l.5-.9l.5 .8l.5-.4l.5 .1l.5-.1l.5-.2l.5 .2l.5 .2l.5-.6l.5 .1l.5 .2l.5-.3l.5 .6l.5-.3l.5-.1l.5-.2l.5 .4l.5-.1l.5 0l.5 0l.5-.3l.5-.1l.5 .4l.5 .1l.5 0l.5 .1l.5-.2l.5 0l.5 .2l.5-.4l.5-.1l.5 0l.5-.3l.5 0l.5 .7l.5-.4l.5 0l.5 .6l.5-.7l.5 .2l.5 .1l.5-.2l.5 .3l.5 0l.5-.2l.5-.3l.5 .2l.5-.2l.5 0l.5-.3l.5-.4l.5-.3l.5 .2l.5-.6l.5 .8l.5-.8l.5-.2l.5-.2l.5-.8l.5-1.3l.5-3l.5-2.7l.5-4.5l.5-2.9l.5 .3l.5 3.7l.5 3.9l.5 3.5l.5 2.2l.5 .9l.5 0l.5-.6l.5-1.7l.5-1.5l.5-1.4l.5-.2l.5 2l.5 2.3l.5 1.4l.5 .9l.5 .7l.5 .6l.5-.2l.5 .5l.5-.5l.5 .2l.5 0l.5 .4l.5 0l.5-.1l.5 .1l.5-.5l.5 .2l.5 .3l.5-.1l.5 .3l.5-.4l.5 .3l.5 0l.5 .3l.5 .1l.5-.6l.5-.2l.5 .5l.5-.5l.5 .4l.5-.2l.5 .4l.5-.9l.5 .4l.5 .2l.5 .1l.5 .1l.5-.4l.5 .2l.5 .2l.5-.2l.5-.4l.5 .8l.5-.3l.5 .2l.5-.3l.5 .1l.5-.5l.5 .3l.5-.4l.5 .4l.5 .4l.5-.5l.5 0l.5 .8l.5-.8l.5 .3l.5 .1l.5-.1l.5 .3l.5-.3l.5-.4l.5 .4l.5-.4l.5 .4l.5 0l.5 .1l.5-.4l.5 .4l.5 .1l.5 .1l.5-1l.5 .6l.5 .3l.5 .1l.5-.1l.5-.3l.5-.5l.5 .4l.5 .5l.5-.8l.5 .4l.5-.3l.5 .2l.5-.1l.5 .4l.5 0l.5-.2l.5 .3l.5-.1l.5-.2l.5 .1l.5-.2l.5 .6l.5-.4l.5-.2l.5-.2l.5 0l.5 .3l.5-.1l.5-.1l.5 .4l.5-.3l.5 .4l.5 .1l.5-.6l.5-.1l.5 .3l.5 0l.5-.1l.5 .1l.5-.2l.5 .5l.5 .3l.5-.7l.5 .2l.5-.1l.5-.2l.5 .7l.5-.6l.5 .2l.5 .6l.5-.5l.5-.1l.5 .3l.5-.2l.5-.5l.5 .2l.5 .2l.5 .2l.5-.1l.5 .1l.5-.2l.5 .2l.5-.3l.5-.1l.5 .3l.5 0l.5 0l.5 .2l.5-.4l.5 .6l.5-.2l.5-.3l.5 .1l.5-.2l.5 .2l.5-.3l.5 .4l.5-.6l.5 .2l.5 .6l.5 0l.5-.8l.5 .4l.5 .3l.5 0l.5-.1l.5-.3l.5 .1l.5 .1l.5-.7l.5 .9l.5-.2l.5-.1l.5-.1l.5-.2l.5 .6l.5 .1l.5-.8l.5 .2l.5 .4l.5 .1l.5-.1l.5-.3l.5 .3l.5-.2l.5 0l.5-.5l.5 .8l.5-.4l.5 0l.5-.1l.5 0l.5 .3l.5-.2l.5 .1l.5 .4l.5-.3l.5-.1l.5 0l.5 0l.5 0l.5-.3l.5 0l.5 .4l.5-.2l.5 .1l.5-.1l.5 .1l.5-.3l.5 .2l.5-.1l.5-.1l.5 .1l.5-.1l.5 .5l.5-.3l.5 .3l.5-.6l.5 .4l.5-.2l.5 0l.5 .3l.5 .2l.5-.3l.5 .2l.5-.3l.5 0l.5 .2l.5-.2l.5-.4l.5 .2l.5 .5l.5-.4l.5-.1l.5 0l.5 .1l.5 .3l.5-.4l.5 .5l.5-.7l.5 .4l.5 0l.5 .3l.5-.1l.5-.5l.5 .5l.5-.6l.5 .6l.5-.1l.5 0l.5 .2l.5 .1l.5-.6l.5 .4l.5 0l.5-.2l.5-.2l.5 .6l.5-.5l.5-.1l.5 .1l.5 .4l.5-.3l.5 .1l.5-.1l.5-.1l.5 .5l.5-.4l.5 .1l.5 .5l.5-.9l.5 .4l.5-.2l.5 0l.5 .4l.5-.1l.5-.6l.5 .2l.5 .4l.5 .1l.5 0l.5-.3l.5 .2l.5-.2l.5 .1l.5-.2l.5 .2l.5 .2l.5 .2l.5-.3l.5 .1l.5-.2l.5-.1l.5-.2l.5 .5l.5 .2l.5 0l.5-.7l.5-.3l.5 .4l.5 .4l.5-.3l.5 .4l.5-.4l.5 .5l.5-.1l.5-.5l.5 .1l.5 .2l.5-.1l.5 .1l.5-.2l.5 0l.5-.1l.5 .1l.5 .5l.5-.6l.5 0l.5 .5l.5-.8l.5 .6l.5 0l.5-.2l.5 .4l.5-.6l.5-.2l.5 .1l.5 .2l.5 .1l.5 .7l.5-.5l.5-.4l.5 .1l.5 .6l.5 .7l.5-1.2l.5 .2l.5-.3l.5 .1l.5-.3l.5 .6l.5-.4l.5-.1l.5 .3l.5-.1l.5-.4l.5 .5l.5-.1l.5 .1l.5-.1l.5-.1l.5 .2l.5-.7l.5 .6l.5 .4l.5-.1l.5 0l.5-.2l.5-.1l.5-.2l.5 .1l.5 .4l.5-.3l.5 .2l.5-.7l.5 .1l.5 .2l.5 0l.5 .1l.5 .1l.5-.2l.5-.3l.5 .5l.5-.5l.5 .3l.5-.1l.5-.2l.5-.2l.5 .2l.5-.5l.5-.1l.5-.8l.5 .3l.5-.2l.5-.2l.5-.6l.5-.5l.5 .1l.5-1.2l.5-.3l.5-2l.5-2.2l.5-6.1l.5-7.5l.5-8.7l.5-5.4l.5 3l.5 8.1l.5 7.7l.5 6.9l.5 4.2l.5 1.8l.5 1.2l.5-.4l.5-1.6l.5-2.8l.5-3.1l.5-4l.5-.8l.5 2.4l.5 4l.5 3.4l.5 2.6l.5 2l.5 .2l.5 .6l.5 .3l.5-.5l.5 .6l.5-.1l.5 .1l.5 0l.5 .3l.5 0l.5 .1l.5 .2l.5-.1l.5-.2l.5-.2l.5 .3l.5 .1l.5 .3l.5-.1l.5 .1l.5-.3l.5 0l.5-.1l.5 .2l.5-.4l.5 .3l.5 .3l.5 .1l.5-.2l.5 .2l.5-.5l.5 .3l.5-.2l.5 .2l.5 .3l.5-.3l.5-.2l.5 .3l.5-.2l.5 0l.5 0l.5-.4l.5 .2l.5-.5l.5 .2l.5 .9l.5-.1l.5 0l.5-.4l.5 .1l.5 .3l.5 0l.5-.3l.5-.4l.5 .7l.5-.1l.5-.3l.5-.2l.5 .5l.5-.9l.5 .6l.5-.2l.5 .2l.5 .2l.5-.2l.5 .3l.5 0l.5 .3l.5-.3l.5-.1l.5 0l.5-.1l.5-.5l.5 .6l.5-.4l.5 .3l.5-.3l.5 .7l.5-.7l.5-.2l.5 .6l.5 .2l.5-.6l.5-.1l.5 0l.5 .2l.5 0l.5 .7l.5-.5l.5-.5l.5 0l.5 .1l.5 .2l.5 .2l.5-.8l.5 .2l.5 0l.5-.5l.5 .5l.5-.4l.5 .1l.5-.9l.5 .1l.5 .1l.5-.6l.5 0l.5-.9l.5-1.4l.5-1.5l.5-3.7l.5-5.5l.5-5.5l.5-2l.5 2.6l.5 5.1l.5 5.6l.5 4.1l.5 2l.5 .7l.5 .7l.5 .2l.5-.3l.5-1.3l.5-2l.5-2.2l.5-2.1l.5-.5l.5 1.5l.5 1.9l.5 2.6l.5 2.1l.5 .3l.5 .8l.5 .2l.5-.4l.5 .9l.5-.4l.5 .8l.5-.4l.5 .4l.5-.1l.5-.1l.5-.3l.5 .6l.5-.3l.5-.3l.5 .1l.5-.5l.5 .4l.5 .4l.5 .1l.5-.2l.5 .2l.5-1l.5 .1l.5 .9l.5-.4l.5 .3l.5-.4l.5 .4l.5-.3l.5 .3l.5 .1l.5 0l.5-.5l.5 .2l.5-.1" stroke="#ff0000" stroke-width="9.5"/>
<path d="M333.8 766.6l.6 3.7l.5-.4l.6-5l.5 .5l.6-.7l.5 2.9l.6-1.9l.5 2.1l.6-7.5l.5 9.4l.6-4.9l.5 1.8l.6-2.9l.5-1.4l.6 1.5l.5 .3l.6-3.5l.5 0l.6 2.6l.5-3.7l.6-.8l.5 6.4l.6-1.9l.5-2.6l.6 3.9l.5 1.7l.6-1.2l.5-.1l.6 5l.5 3.1l.6-2.5l.5-.8l.6 3.8l.5 1.6l.6-2.3l.5 3l.6 2l.5-2.9l.6-1.2l.5 3.9l.6 .2l.5 2.9l.6-6.1l.5 2.2l.6 0l.5-2l.6 5.6l.5 1.5l.6-3.1l.5 6.3l.6-1.3l.5-.2l.6-.3l.5 1.9l.6-6.1l.5 5.7l.6 .2l.5-6.3l.6 6.2l.5-1.4l.6 3.1l.5-3.2l.6 1.4l.5 1.3l.6-3.2l.5 4.4l.6-1.8l.5 1.9l.6-2.6l.5 4.7l.6-1.1l.5-2l.6 2.5l.5 1.9l.6 1.7l.5-9.2l.6 7.1l.5-1l.6-1.3l.5-2.4l.6 6.5l.5-6.8l.6 5.3l.5 2.2l.6-7.9l.5 3.8l.6-2.6l.5 4.5l.6 3.7l.5 1.6l.6-10.5l.5 3.6l.6 3.7l.5 2.6l.6-3l.5-3.2l.6 3.1l.5-.7l.6-.3l.5-1.4l.6 3.3l.5 0l.6-1l.5-.2l.6-2.8l.5 2.4l.6 4.9l.5-3.8l.6-3.3l.5 7.9l.6-2.1l.5 4.5l.6-5.5l.5-1.4l.6-2.6l.5 7.9l.6 3.7l.5-9.4l.6 .6l.5 3.7l.6-3.9l.5 1.7l.6-.1l.5 1.7l.6 2.7l.5-2.9l.6 2.6l.5-3.6l.6 2.3l.5-6.8l.6 2l.5 6.5l.6-3.8l.5 3.4l.6 .1l.5 2.3l.6-1.3l.5 .7l.6-3.1l.5-1.5l.6 .1l.5 .8l.6-1.7l.5 1.8l.6 1.4l.5 1.1l.6-1.6l.5-4.3l.6 5.3l.5 1l.6 2.5l.5-1.3l.6-3.3l.5-.1l.6 7.8l.5-3.4l.6 3.1l.5 1l.6-8.1l.5 3.4l.6 .3l.5 .4l.6 .1l.5-.9l.6 .1l.5-4.6l.6 3.8l.5-1.5l.6 2.5l.5-1.5l.6 3.1l.5 .7l.6-1.3l.5 .1l.6-.5l.5-1.5l.6 .9l.5-.8l.6 2.6l.5-1l.6 1.7l.5-5.3l.6 6.3l.5-4.5l.6 .2l.5 1.6l.6-1l.5 2.5l.6-2.4l.5-1.3l.6 .7l.5 6.1l.6-3.5l.5-3.3l.6 3.3l.5-4.3l.6 9.4l.5-9.2l.6 5.7l.5 .2l.6-5.5l.5 4.9l.6 2l.5-1.4l.6-.6l.5 2l.6-2.2l.5 .6l.6-1.3l.5 2.2l.6-4.4l.5 4.9l.6-3.6l.5-1.6l.6 4.1l.5 3.8l.6-2l.5-4.1l.6 3.4l.5-3.2l.6 1l.5 .6l.6-6.7l.5 7l.6-3.4l.5 .9l.6-2.1l.5-.1l.6 1.6l.5 4.9l.6 2.4l.5-4.8l.6 3.1l.5-3.8l.6-4.6l.5 5.8l.6 .8l.5-2.5l.6 2l.5 .7l.6-4l.5-1.8l.6 3.5l.5 0l.6-.4l.5 3.7l.6 2l.5-6l.6 3l.5 .7l.6-.7l.5 .9l.6-4.1l.5 3.1l.6 3.6l.5-3.5l.6-4.1l.5 3.4l.6 1.8l.5-2.6l.6-2.6l.5 5.8l.6-7.9l.5 4.9l.6-1.5l.5-3.4l.6 6.7l.5-2.5l.6-4.3l.5 4.9l.6-2.9l.5-4.2l.6 3.3l.5 2.7l.6 .9l.5-1.3l.6-.4l.5 1.1l.6-1.9l.5 3.8l.6-2.9l.5 .3l.6 .7l.5-4.5l.6 .9l.5 6.2l.6-3.3l.5-1.8l.6 1.7l.5-2.3l.6 2.1l.5-2.7l.6 2.6l.5-5.2l.6 8.1l.5-5.2l.6-3l.5 3.7l.6-.4l.5 1.4l.6-3.6l.5 4.2l.6 9.1l.5-13.8l.6 4.5l.5-1.9l.6 1.4l.5-5.6l.6 1.8l.5 4.5l.6-1.4l.5 4.6l.6-6.6l.5 2.5l.6 7.6l.5-10.3l.6-.4l.5 2.4l.6-.1l.5 2.5l.6-2.1l.5-2.5l.6 2.7l.5 6.8l.6-3.9l.5-11.3l.6 7.3l.5-2.1l.6 4.2l.5-2.2l.6 5.8l.5-2.8l.6-.1l.5-2l.6-.7l.5 1l.6 2.7l.5-2.2l.6-2.5l.5 4.5l.6-3l.5-.8l.6-2l.5 .6l.6-.2l.5-6.1l.6 10.6l.5-1.2l.6-2.3l.5 3.6l.6-1.8l.5-.2l.6-8l.5 6.3l.6 2.1l.5 3l.6 .6l.5-1.2l.6-7.3l.5-2.9l.6 7.7l.5-1.5l.6 2.6l.5-3.1l.6 1l.5-4.9l.6 5.5l.5-2.6l.6 2.2l.5 .3l.6-1.6l.5 1.2l.6-1l.5 2.2l.6-.8l.5-2.9l.6-.2l.5 6.5l.6-5.2l.5 3.1l.6-1.7l.5-2.7l.6-.6l.5 2.4l.6 .4l.5 1l.6-5.3l.5 1.8l.6 1.4l.5 4.7l.6-11.1l.5 7.8l.6-2.7l.5 2.7l.6-2.7l.5 2.4l.6 3.4l.5-3.5l.6 .2l.5-.1l.6-3.2l.5 3.6l.6-2.1l.5-1.8l.6 2.2l.5-.6l.6 2.8l.5-2.3l.6-1.4l.5 5.6l.6-1.4l.5 .8l.6-1.9l.5-2l.6-.9l.5 .4l.6 3.4l.5-2.4l.6-4.5l.5 4.1l.6-3.9l.5 4.4l.6-3.9l.5-.1l.6 3.8l.5-.6l.6-4.4l.5 6.7l.6 4l.5-10.3l.6 9.3l.5-7.1l.6 .5l.5 .9l.6-3.6l.5 7.7l.6-2.3l.5-3.5l.6 1.3l.5-3.5l.6 3.3l.5 3.6l.6-7.5l.5 3.6l.6 1.6l.5 2.5l.6 .8l.5-5.1l.6-.8l.5 3.3l.6-2.3l.5 .1l.6 3.9l.5 1.7l.6-4l.5-1.3l.6 2.1l.5-6.9l.6 5.2l.5-2.9l.6 9.6l.5-4.7l.6-1.6l.5-1l.6-6.5l.5 9l.6 2.5l.5-6.6l.6 3.9l.5 .1l.6-6.4l.5 7l.6 1.1l.5-3.2l.6-.8l.5 2.3l.6-6.5l.5 4.5l.6 2.7l.5-6.5l.6 6.3l.5-4l.6-4.7l.5 5.5l.6-2.4l.5 3.5l.6-4.2l.5 6.2l.6-5l.5 3l.6-2.7l.5 .8l.6 4.2l.5-2.8l.6-1.7l.5-2.5l.6 6.7l.5-1.2l.6-3l.5 1.6l.6-3.6l.5 0l.6 .5l.5 3.2l.6-.1l.5-3l.6 4.1l.5 .1l.6-1.7l.5 2.3l.6-3.7l.5 .5l.6 1.6l.5-1.5l.6 2.3l.5-5.8l.6 7.5l.5-6.3l.6 1.7l.5-3.4l.6 5.5l.5 1.8l.6-.6l.5-.7l.6-6.7l.5 2.1l.6 .9l.5-1.4l.6 5.7l.5-2.6l.6-.7l.5 1.4l.6-4.1l.5 .1l.6 0l.5 3.9l.6-.5l.5 .6l.6 1.4l.5-6.9l.6 2.2l.5 1.9l.6-4.2l.5 2.2l.6 4.3l.5 .2l.6-.1l.5-3l.6-.7l.5 3.5l.6-4.1l.5 2l.6 2.7l.5-4.8l.6-.7l.5 1.6l.6 1.6l.5-.3l.6-1l.5 1.1l.6-6.1l.5 2l.6 2.8l.5-3.1l.6-1.2l.5 .3l.6 .8l.5 2l.6-2.4l.5 3.4l.6 4.1l.5-5.2l.6 3.9l.5-2.8l.6-4l.5 2.3l.6-2l.5 4.8l.6-5.4l.5 6.8l.6-2.1l.5-7.3l.6 7.8l.5 2.1l.6-6.7l.5 5l.6-7.9l.5 5.7l.6-5.4l.5 5.9l.6-6.4l.5-2.4l.6 8.4l.5 5.2l.6-8.2l.5 4l.6-2.1l.5-1.3l.6 2.5l.5 2.8l.6-8.1l.5 4.9l.6-.7l.5-5l.6 8.4l.5 .9l.6-8.2l.5 7.4l.6-4.8l.5-.7l.6 4.6l.5-3.7l.6 .2l.5 3.2l.6-.7l.5-1.2l.6-6.6l.5-.5l.6 7.4l.5-5.8l.6 2.9l.5-3.6l.6 2.4l.5-3.1l.6 8l.5-7.5l.6 2.4l.5-.3l.6 3.8l.5-7.5l.6 3.8l.5-.6l.6 2l.5-.3l.6-2.7l.5 1.8l.6-1.8l.5 2.3l.6-1.7l.5-1.7l.6 1.7l.5 1l.6 5.2l.5-7.8l.6 2.1l.5 3.1l.6-10l.5 .9l.6 1.4l.5 2.9l.6 7.1l.5-5.8l.6 2.2l.5-4.1l.6-6.4l.5 .3l.6 9.3l.5-2.5l.6-4.2l.5 6.7l.6-7.5l.5 7.4l.6 .8l.5-6.3l.6-1l.5 5.3l.6-5.5l.5 5.5l.6-5.9l.5 5.6l.6-2.1l.5-1.5l.6-1.4l.5 3.1l.6-6l.5 4.5l.6-.4l.5 2.9l.6-5.4l.5 8.3l.6-5.8l.5-2.3l.6 7l.5 .8l.6-5.3l.5-2l.6 2.6l.5-2l.6 1l.5 5.2l.6-3.3l.5-.7l.6 .6l.5-1.2l.6 2.5l.5 .1l.6-3.5l.5 1.3l.6 6.4l.5-5.6l.6-1.7l.5 6.2l.6-5.7l.5-3.1l.6 4.9l.5-4.4l.6 1.1l.5 2.3l.6-1.3l.5-1.8l.6 .6l.5-.2l.6 4.9l.5-5.3l.6 .4l.5 7.3l.6-7.3l.5 5.8l.6-.6l.5-4.1l.6-3.5l.5 5.2l.6 .6l.5 .8l.6-2.5l.5 3.1l.6 .5l.5-6.8l.6 6.9l.5-3.5l.6-2.1l.5 .7l.6 6.1l.5-2.5l.6-7.8l.5 5.2l.6-.6l.5-.1l.6-1l.5-2.6l.6 6.4l.5-5l.6 1.6l.5-.7l.6-.4l.5 4.1l.6-1l.5-3l.6-.7l.5 1.3l.6 4l.5-2.4l.6 .3l.5-1.5l.6 .1l.5 1.4l.6-5.8l.5 9.6l.6-6.7l.5 .6l.6 5.4l.5-3.2l.6-.5l.5-1.7l.6-2.8l.5 4.9l.6 2.8l.5-5.9l.6 6.4l.5-7l.6 1.1l.5 3.5l.6-1.5l.5 2l.6-4.1l.5-.8l.6-2.3l.5 1.8l.6 .4l.5-1l.6 4.9l.5-2.8l.6-3.7l.5 12.6l.6-9.3l.5-1.2l.6 7l.5-.2l.6-6.5l.5-.9l.6 1.3l.5 6l.6-4l.5-1.4l.6 2.2l.5 3.4l.6-7.2l.5 2.8l.6-2.8l.5 10l.6-1l.5-2.4l.6-3l.5 2.2l.6-7.7l.5 6.7l.6-4.5l.5 .1l.6 1.7l.5 1.1l.6 2.6l.5 .4l.6-1.2l.5-3.4l.6 4.6l.5-2.2l.6 3.7l.5-5.9l.6-5.1l.5 6.4l.6 7.4l.5-4.6l.6-1.9l.5 3.1l.6-1l.5-.1l.6-2.7l.5 1.7l.6 .4l.5-2.4l.6-1.2l.5 3.5l.6 2.4l.5-.9l.6-.4l.5 .1l.6 5.9l.5-6.5l.6 2.2l.5 2.6l.6-5.3l.5 .7l.6 2.2l.5 1.8l.6-3.8l.5 .2l.6-.7l.5-3.6l.6 6.5l.5-3.8l.6-4l.5 4.4l.6-4.4l.5 2.1l.6 2.9l.5-2.6l.6 5.6l.5-7.1l.6 4.9l.5 .9l.6 2.5l.5-1.4l.6-1.9l.5-.4l.6-.4l.5 3.4l.6-5l.5 3.3l.6-1.7l.5 1l.6-1.4l.5 6.7l.6-7.8l.5 2.6l.6 .1l.5 .9l.6-.4l.5 0l.6 1.5l.5-6.9l.6 4.2l.5-3.4l.6 4.1l.5-4l.6 .6l.5 2.6l.6 4l.5-2.2l.6-.8l.5 3.1l.6-6.6l.5-3.2l.6 4.7l.5 .4l.6 4.2l.5 2.5l.6-9.7l.5 10.7l.6-2.6l.5-2l.6-1.3l.5 5.7l.6-6.5l.5-1.6l.6 1.7l.5-4.2l.6 5.2l.5-1.7l.6 1.3l.5 0l.6-3.9l.5 6.6l.6-6.5l.5 5.3l.6-6.9l.5 5.5l.6-3.4l.5 2.5l.6-2l.5-4.3l.6 3l.5 3.3l.6 1.6l.5-5.9l.6-1.8l.5 3.5l.6 1.9l.5-1.2l.6-.5l.5 4.6l.6 .3l.5-.6l.6-4.7l.5 2.9l.6-.8l.5-3.5l.6 6.5l.5-2.2l.6-1.6l.5 5.3l.6-1.8l.5 .2l.6 1l.5-1.3l.6-5.6l.5 2.5l.6 3.9l.5-5l.6 2.2l.5 1.1l.6 2.9l.5-.4l.6-1.1l.5-3.1l.6 3.1l.5-1.1l.6-1.9l.5 4.2l.6-2.4l.5-3.5l.6 5.7l.5-4.3l.6 2.4l.5-5.9l.6 4.2l.5-2.6l.6-.1l.5-2.6l.6 11.3l.5-6.4l.6 1.1l.5 2.4l.6-3.4l.5 1.8l.6-5.3l.5 4.4l.6-1.7l.5 2.5l.6-.9l.5-4.4l.6-1.3l.5 2.4l.6 4.9l.5-.9l.6 0l.5-6.8l.6-1.9l.5 5.8l.6 .8l.5-.8l.6 2.7l.5-1.5l.6-2.8l.5 .8l.6 2.9l.5-.2l.6-.5l.5 6.6l.6-7.1l.5 1l.6-3.1l.5 1.7l.6 2.5l.5 .1l.6-2.1l.5 1.5l.6-.9l.5-5.5l.6-3.9l.5 15.6l.6-4.2l.5-2.5l.6-4.7l.5 1.2l.6 7.4l.5-11.7l.6 6.9l.5 3.3l.6-2.1l.5 1.7l.6-2.5l.5 7l.6-9.6l.5-1l.6 4.6l.5 3.2l.6-4.2l.5 3l.6-4.4l.5-1.9l.6 7.2l.5 .4l.6-.1l.5-5.6l.6-2l.5-.1l.6 2.6l.5 2.2l.6-.2l.5-5.5l.6 4.6l.5-.6l.6 .2l.5-.4l.6-.5l.5 2.2l.6-1.4l.5 .3l.6-2.6l.5 3l.6-1.5l.5-5.6l.6 7.2l.5-2.1l.6 3.3l.5-3.1l.6 .1l.5 .8l.6-.7l.5-1.2l.6-3.8l.5 10.1l.6-9.6l.5 3.4l.6 2.7l.5-.8l.6 .5l.5 .5l.6 1.4l.5-2.8l.6 7.3l.5-11.1l.6 3.5l.5-1.7l.6-.6l.5 2.3l.6 3.2l.5-6.1l.6-.1l.5 4l.6-.6l.5 3.9l.6-2.6l.5-2.3l.6-1.6l.5 1.4l.6-1.1l.5-3.4l.6 3.8l.5-.6l.6-.2l.5-.6l.6 5.9l.5-2.9l.6 .7l.5-4.4l.6-1.2l.5 2l.6 1.4l.5-1.7l.6 .4l.5 3.1l.6-1.9l.5-3.6l.6 1.5l.5-.7l.6 2.2l.5-3.8l.6 2.7l.5 2.4l.6-1.9l.5-2.7l.6 .8l.5 2l.6 .9l.5 .9l.6-2.8l.5-3.3l.6 7.6l.5-3.2l.6 .2l.5-.3l.6-3.8l.5 1.9l.6 1.6l.5 2.1l.6-2.8l.5-9l.6 8l.5 1.6l.6 2.6l.5-1.7l.6 4.9l.5-3l.6-.3l.5-1.2l.6-6.6l.5 6.2l.6-.7l.5-3.2l.6 3l.5-.5l.6-2.6l.5 .9l.6-.4l.5 1.3l.6-1.9l.5 2.7l.6-7l.5 4.5l.6-4l.5 3.3l.6 2.8l.5-1.5l.6-.4l.5 .4l.6 4.2l.5-7.6l.6 5.5l.5-6.7l.6 2.8l.5 1.7l.6-2.9l.5 2.9l.6 1.4l.5-5.4l.6 3.1l.5-.9l.6-4.5l.5 4.9l.6-1.8l.5 5.9l.6-6.3l.5 7.2l.6-6.3l.5 6.8l.6-4l.5-.3l.6 .9l.5 .2l.6 1.4l.5 .8l.6-5.9l.5-2.6l.6-4l.5 6.3l.6 3.1l.5-1.1l.6-.8l.5-1.4l.6-.9l.5 .9l.6 1.8l.5-6.1l.6 6.9l.5-6.2l.6 3.6l.5-1.4l.6 .7l.5-2l.6-.4l.5 2.5l.6-2.5l.5 9.9l.6-8.1l.5-.8l.6 .2l.5-1.5l.6-4l.5 6.1l.6 1.5l.5-5.1l.6 4.1l.5-3.5l.6 3.2l.5 1.1l.6 .2l.5-.2l.6-3.3l.5 4.4l.6-3.8l.5 2.2l.6 .9l.5-2.9l.6-2.8l.5 5.2l.6-4.9l.5 .5l.6-.6l.5 5.3l.6-2.9l.5-5.9l.6 8.3l.5 3.7l.6-.9l.5-6.7l.6 1.8l.5 1.1l.6 1l.5-2.5l.6-3.2l.5 5.1l.6-.5l.5-5.5l.6 2.6l.5 1.7l.6-.8l.5 1.4l.6 .7l.5-.8l.6-1.9l.5-3.5l.6 5.4l.5 2.2l.6 1.5l.5-5.7l.6-.1l.5 4.1l.6-.1l.5-3.1l.6 1l.5-4.2l.6 3.7l.5-4l.6 1.8l.5 0l.6-1l.5-4.6l.6 3.5l.5 3.2l.6-1.2l.5-.9l.6 2.2l.5 .7l.6 .4l.5-4.7l.6 2.3l.5-1.1l.6-1.5l.5-1.8l.6 3.8l.5-2.2l.6 8.5l.5-6.4l.6-.4l.5-.5l.6 6.3l.5-7.9l.6 2.2l.5-1.8l.6 1.8l.5 .2l.6 3.1l.5-7l.6 3.8l.5 4.6l.6-6l.5 .9l.6-2l.5-4.9l.6 7l.5 3.6l.6-4.7l.5-3.8l.6 5.9l.5-.6l.6 2.6l.5-.3l.6-3.4l.5 1.9l.6-6.2l.5 8.1l.6-2.6l.5 2.5l.6-.1l.5-3.8l.6 .4l.5-2.1l.6-3.3l.5 5.4l.6 .8l.5-3.5l.6 5l.5-1.8l.6 1l.5-3.4l.6-2.8l.5 7.1l.6-.5l.5-2.1l.6-.9l.5 .4l.6 .4l.5-1.1l.6-4.2l.5 7.8l.6-6.4l.5 3.2l.6 .1l.5 1.6l.6-5.3l.5 7.9l.6-1.6l.5 .3l.6 1.4l.5-5.8l.6-6.6l.5 9.7l.6 2.7l.5-.4l.6-4.8l.5 1.2l.6 1.1l.5-5.9l.6 3.2l.5 0l.6 6.2l.5-6.2l.6 6.2l.5-4.4l.6-4.8l.5 10.9l.6-9l.5 4.5l.6 3l.5-6.3l.6-2l.5 6.4l.6-2.8l.5-3.6l.6 .3l.5 1.9l.6 3.8l.5-3.5l.6 2.6l.5 2.7l.6-1.1l.5 .5l.6-.6l.5-8l.6 7.9l.5-2.6l.6-1.3l.5-2.7l.6-1.4l.5 1.3l.6 3l.5-3.3l.6 1l.5 .5l.6 3.5l.5-2.7l.6 .4l.5 4l.6-4.6l.5 2.5l.6-4.7l.5 3.9l.6-.7l.5 .1l.6-1.8l.5-1.6l.6 1.9l.5-.5l.6 4.2l.5-.4l.6-6l.5 5.1l.6-3.2l.5 2.6l.6-2.7l.5-2.9l.6 6.9l.5-1.6l.6-4.8l.5-1.9l.6 3.8l.5-1.9l.6 2.2l.5 2.7l.6 2.3l.5-5.2l.6 4.8l.5-.7l.6-4.5l.5-3.6l.6 7l.5-.7l.6 4.8l.5-2.7l.6-1.9l.5 2.5l.6-7.8l.5 3.4l.6-1.3l.5 5.5l.6-3.4l.5-10.2l.6 12.3l.5-6.4l.6 4.6l.5-3.6l.6 1.9l.5 1.1l.6-1.4l.5-3.3l.6 6.5l.5-2.9l.6-1.2l.5 1.9l.6-3.6l.5 6.7l.6-4.7l.5 .3l.6-.2l.5-3.6l.6-.8l.5 3.8l.6 .3l.5 2.6l.6-2.6l.5-4.4l.6 4.4l.5 .8l.6 .4l.5-2l.6-4.5l.5 6.5l.6-5.4l.5 3.5l.6-6.1l.5 6.4l.6-4.5l.5 5.1l.6 1.7l.5-1.8l.6-6.7l.5 .4l.6 .1l.5 4.1l.6-1.1l.5-.7l.6 .3l.5 .6l.6 0l.5 2.7l.6-5.1l.5 .6l.6-6l.5 1.3l.6 1.6l.5-1.6l.6 3.8l.5 2.1l.6-4.3l.5-.4l.6-.2l.5 1.6l.6-2.1l.5 2.5l.6-.5l.5-.1l.6 1l.5-2.2l.6 .1l.5 4.4l.6-5.2l.5 2.1l.6-2.2l.5-1.6l.6-.2l.5-1.1l.6 2.1l.5-1.8l.6 .3l.5 4.5l.6-4l.5 3.5l.6-2.6l.5 1.5l.6-4.3l.5 2l.6 6.9l.5-5.2l.6 .3l.5-2.3l.6 1.6l.5-5.8l.6 .8l.5 3.4l.6 1l.5-3.6l.6 .5l.5-.6l.6 .3l.5-2.9l.6-.8l.5 3.6l.6-4.7l.5 2l.6 .7l.5-1.2l.6 3.5l.5-2.1l.6 .9l.5-2.7l.6 .6l.5 3.3l.6-.5l.5-2.5l.6 2.2l.5-.6l.6-.2l.5 3.9l.6-5.8l.5 2.2l.6-.2l.5-1.9l.6-2.8l.5 5.1l.6-1.4l.5-.7l.6-.2l.5-.2l.6-2.7l.5 3.1l.6-6l.5 4.8l.6-4.4l.5 3l.6 2.8l.5-2.9l.6-.8l.5 2.5l.6-2.4l.5-.6l.6-.1l.5 5.1l.6-2.6l.5-.7l.6-4.9l.5 4.9l.6-5.6l.5 4.8l.6-4.6l.5 8.4l.6-10.4l.5 8l.6-1.3l.5-7.3l.6 4.1l.5 4.7l.6-1l.5-7.9l.6 3.1l.5-1.8l.6 .4l.5 1l.6 7l.5-4.8l.6-.9l.5-.3l.6 2.9l.5 .1l.6-4.4l.5 6.8l.6-7l.5 2.4l.6 2.1l.5 3.7l.6-5.6l.5 1.9l.6 3.1l.5-1.8l.6 1.6l.5 0l.6-2l.5 1.2l.6 1l.5-2.4l.6 4.8l.5-9.9l.6 3.2l.5 6.9l.6-2.6l.5-2.8l.6 3.1l.5 2.2l.6-4.4l.5 3.9l.6-2.2l.5 .2l.6 .4l.5 3.5l.6-6.1l.5 2.3l.6 3.1l.5-5.1l.6-.8l.5 6.2l.6-1.4l.5-.2l.6 1l.5-2.9l.6 11.1l.5-10.7l.6 1.7l.5-2.5l.6 3l.5 5.7l.6-4l.5 1.8l.6-2.8l.5 6.6l.6-4.4l.5-3.7l.6 5.9l.5-3l.6 3l.5-1.1l.6 .6l.5-.2l.6-2.6l.5-1.5l.6 7.2l.5-2.9l.6 1.4l.5-1.9l.6-4.1l.5 2.3l.6 7.7l.5-5.8l.6 1.3l.5-2.8l.6 2.9l.5 .6l.6 .7l.5 .6l.6-1.3l.5 .4l.6 1.8l.5 1.2l.6-1.1l.5 5.5l.6-4.1l.5 .1l.6-2.1l.5 5l.6-5.6l.5-1.4l.6 2l.5 4.7l.6-4.7l.5 7l.6-3.5l.5-4l.6 3.9l.5 5.8l.6-7.2l.5-1.1l.6 5.4l.5 2.4l.6-.6l.5-3.6l.6 1.7l.5 .5l.6 2.6l.5 3l.6-6.2l.5 4.2l.6-4.4l.5 2.8l.6-4l.5 .6l.6 3.6l.5-3.5l.6 5.2l.5-3.8l.6 2l.5-.3l.6-.5l.5 1.6l.6 2.8l.5 5.9l.6-11.8l.5 4.4l.6-1.1l.5-1.8l.6 3.6l.5-3l.6 2.5l.5 3.9l.6-8.9l.5 6.6l.6 .8l.5-3.7l.6 4.5l.5-.3l.6-1.7l.5 4.7l.6-6.8l.5 5.8l.6-2.2l.5-2l.6 2.8l.5-.2l.6 3.6l.5-6.1l.6 4l.5-.4l.6 6l.5-7.2l.6 6.4l.5-7.5l.6 6.2l.5-.9l.6 1.8l.5-2.7l.6-3.1l.5 1.5l.6 8.3l.5-2.7l.6-2.6l.5 5.3l.6-4.3l.5 .4l.6-1l.5 7.1l.6 2.5l.5-7.8l.6 3.9l.5 2.3l.6 3.5l.5-12.3l.6 7.5l.5 1.7l.6-5.6l.5 5.6l.6-.3l.5 1.8l.6-3.3l.5 3.1l.6-2.6l.5 3.7l.6-.9l.5-1.3l.6-2.6l.5 8.8l.6-1.2l.5-.4l.6-4l.5 1.1l.6 5.9l.5-2.3l.6-4.2l.5 2.8l.6 .5l.5-.6l.6-1.9l.5 6.5l.6-1.6l.5-2l.6-3.6l.5 3.1l.6 1.9l.5 2.7l.6-3.2l.5 4.3l.6-2.4l.5-2.2l.6-5.5l.5 4.7l.6-.6l.5 4l.6 1.6l.5 3.2l.6-3.7l.5-3l.6 10l.5-5.5l.6-1.4l.5 .2l.6-2.8l.5 5.8l.6-.6l.5 3.6l.6-1.2l.5-.5l.6 1.3l.5-4.2l.6-.3l.5 1.3l.6-3.2l.5 3.2l.6-.4l.5 2.9l.6-1.8l.5-5.2l.6 5.6l.5 3.9l.6-9l.5 3.2l.6 2.2l.5-3.6l.6 2.2l.5 1.8l.6-3.7l.5 4.6l.6 .4l.5-4.6l.6 3.7l.5 3.1l.6-3.4l.5 1.8l.6 .6l.5-2.4l.6 3.5l.5-1.6l.6-3.7l.5 4.3l.6 1l.5-.1l.6-4l.5 3.2l.6 2.6l.5-3.2l.6 2.8l.5 .3l.6-3.7l.5 2l.6-2.6l.5 3.8l.6-3.2l.5-1.3l.6 1.5l.5-.1l.6 1.3l.5 .2l.6-4.5l.5 1.4l.6 2.8l.5 .2l.6-1.1l.5 7l.6-4.3l.5-3.5l.6 2.2l.5 1.6l.6-2.9l.5-6l.6 5l.5-.3l.6 5.6l.5-11.2l.6 9.3l.5-5l.6 2.9l.5-3.7l.6 1.1l.5 2.5l.6-3.1l.5 2.5l.6-3.4l.5-1.1l.6 .3l.5-1l.6 .8l.5 4l.6-7.3l.5-1.6l.6 4.4l.5 4.6l.6-2l.5 .5l.6-.4l.5-5.7l.6 2.1l.5-8l.6 5.6l.5 3.1l.6-6.3l.5-1.6l.6 1.9l.5 4l.6 2.4l.5 3.7l.6-3.5l.5-8.5l.6-2.6l.5 6.7l.6 2.3l.5-7.8l.6 2.8l.5-.1l.6 1l.5-.9l.6 1.7l.5 1.2l.6-3.1l.5 1.6l.6 3.1l.5-8.7l.6-.5l.5 4.1l.6 3.4l.5-5.1l.6 2.2l.5-4.3l.6 3l.5-4.7l.6 3.3l.5-1.2l.6-.4l.5 2.3l.6-1.3l.5-5.1l.6 3.7l.5-7.7l.6 7.1l.5 4.4l.6-6.7l.5-.5l.6-1.8l.5 1.7l.6-4.2l.5 2.6l.6-3.2l.5-1l.6 .9l.5-1.2l.6-5.3l.5 10l.6-6.1l.5-5.8l.6 7.1l.5-3.8l.6-.1l.5 .7l.6-5.1l.5-6.5l.6 7.3l.5 .2l.6 1.5l.5-5.6l.6 .6l.5 1.1l.6-2.7l.5-.6l.6 .6l.5-4.4l.6 6.4l.5-7.8l.6 1.8l.5-1.9l.6-1.9l.5 2.7l.6 .4l.5 .5l.6-3.3l.5-3.7l.6 2.8l.5-7.2l.6 3.4l.5 .5l.6-.6l.5-5.5l.6-1.6l.5 8.2l.6-6.7l.5-3.8l.6 .6l.5 3l.6 2.8l.5-3.7l.6 2.9l.5-3.1l.6 .2l.5 1.1l.6-4.3l.5 1.5l.6-2.3l.5-1.1l.6 3.2l.5-4.5l.6 2.1l.5-2.8l.6 1.6l.5-1.5l.6 4.2l.5-3.2l.6-.2l.5 4.1l.6-13l.5 4.8l.6-4.8l.5 7.5l.6 1.1l.5 .5l.6-1.1l.5-3.3l.6 7.3l.5-4l.6-1.5l.5-2.3l.6 4.5l.5-2.3l.6 .4l.5 2.1l.6 .4l.5-2.5l.6 6.2l.5-5.9l.6 .2l.5 4.5l.6 0l.5 .4l.6-.7l.5 1.9l.6-1.1l.5-2.4l.6 7.3l.5-4.2l.6 2.9l.5 3.4l.6-1.3l.5 8.3l.6-10.8l.5 2.5l.6 3l.5 4.3l.6-3.8l.5-2.6l.6 7.9l.5-5.1l.6 2.8l.5 3.8l.6-3.5l.5 1.5l.6 3.6l.5-.9l.6 2.3l.5-2.4l.6 3.4l.5-1.7l.6-.2l.5 10.3l.6-2.5l.5 2.3l.6-4.1l.5 3.6l.6 .6l.5-2.4l.6 6.6l.5-2.6l.6 2.4l.5-2.8l.6 7.9l.5 .2l.6-.2l.5-2.9l.6 1.8l.5 5.7l.6-3.5l.5 2.3l.6 .4l.5-2.8l.6 8.1l.5-9.1l.6 6.9l.5-.2l.6-3.6l.5 6.2l.6 1.2l.5-.7l.6-1.8l.5 4.2l.6 2.5l.5-1.9l.6 4.8l.5-1.8l.6 .3l.5 2.3l.6-5.2l.5 .9l.6 3.4l.5 .5l.6 3.3l.5-.5l.6-2.3l.5 .6l.6-1l.5 .2l.6 .2l.5 4.3l.6-3.4l.5 .7l.6 1.9l.5-1.5l.6 1.2l.5-5l.6 7.6l.5-1.5l.6 1.8l.5 .9l.6-5.9l.5 12.3l.6-5.9l.5 .5l.6-5.1l.5 7.1l.6-.2l.5-1.8l.6 2l.5 3.3l.6-4.2l.5-1.3l.6 6.6l.5-2.7l.6-1l.5 7.3l.6-5.8l.5-.6l.6 1.4l.5-1.6l.6 1.9l.5 .1l.6-2.1l.5 1.3l.6 1.8l.5 .4l.6 .7l.5 .7l.6-1.3l.5 .9l.6-2.3l.5 .5l.6 3.8l.5-8.3l.6 6.7l.5 8l.6-13.9l.5 9.5l.6-8.9l.5 6l.6 3.7l.5-.2l.6-6.6l.5-1l.6-.2l.5 6.1l.6-2.9l.5 1.2l.6 .9l.5 .5l.6 .5l.5-1l.6-4.8l.5 8.7l.6-11.6l.5 11.3l.6-5.1l.5 1.3l.6-.8l.5 .5l.6 1.1l.5-.6l.6-2.2l.5 5.6l.6-3.9l.5 5.5l.6-4.1l.5-1.4l.6 3.3l.5 1.3l.6-5l.5 1.9l.6 4.9l.5-6.7l.6 .5l.5 2.9l.6-3.7l.5-3.5l.6 2.4l.5 5.7l.6 .9l.5-.1l.6-.5l.5-4.5l.6 5.5l.5 1.4l.6-5.2l.5 4.7l.6-3.6l.5 1.6l.6 .6l.5-5.2l.6 8.3l.5-6.4l.6 2.1l.5-1l.6 2.7l.5 0l.6-1.1l.5 3.9l.6-3.1l.5-1.9l.6-6.9l.5 7.4l.6 0l.5-1.6l.6 .1l.5 4.1l.6 1.3l.5 2.4l.6-2l.5-5.2l.6 2.8l.5-4.5l.6 5.9l.5-1l.6-2.7l.5 1.5l.6-.4l.5-1.1l.6 5.6l.5 5l.6-6.3l.5 .7l.6-2.5l.5-1.4l.6 7.2l.5-7.2l.6 2.2l.5-1.4l.6 2l.5-1.7l.6 1.8l.5-5.2l.6 3.3l.5 4.2l.6-6.7l.5 1l.6 5.8l.5-2.7l.6 1.9l.5-9.2l.6 6.7l.5-4l.6-.3l.5 5.1l.6 2.2l.5-7.5l.6 1.1l.5 1.5l.6 1.3l.5-3.3l.6 10.1l.5-4.7l.6-2.6l.5-.5l.6 8l.5-.2l.6-7.6l.5 2.4l.6 2.5l.5-6.8l.6 1.7l.5 5.5l.6-5.8l.5 .8l.6-2.6l.5 1.7l.6 4.1l.5-4.2l.6-1.4l.5 1.9l.6 6.8l.5-4.5l.6-2.1l.5 2.1l.6 .8l.5-.9l.6-5.4l.5 5.9l.6-1.4l.5 3l.6-6.2l.5 6.7l.6-4.3l.5-3.4l.6 8.6l.5-5.2l.6 2.5l.5-1.5l.6 3.5l.5 0l.6 .1l.5-1.2l.6-6.5l.5-.2l.6 5.3l.5-3.3l.6 4l.5-.8l.6-4.5l.5 1.1l.6-.3l.5 .7l.6 1.9l.5 2.5l.6 1.9l.5-6.5l.6 1.1l.5 6l.6-1.9l.5-1.8l.6-7.3l.5 3.7l.6 3.3l.5-2.1l.6 7.3l.5-5.4l.6 .6l.5-3.9l.6 .1l.5 1.1l.6 .1l.5 1.1l.6 1.7l.5-.3l.6 2.1l.5-6.6l.6 4.4l.5 .1l.6 3.8l.5-5.1l.6 1.5l.5-3.2l.6 3.5l.5-.1l.6-2.9l.5 .5l.6 1.2l.5 1.7l.6-4.9l.5 5.8l.6-3.5l.5 6.4l.6-1.3l.5-5.3l.6-.6l.5 8.7l.6-5.1l.5-.2l.6-2.8l.5 .8l.6 2.7l.5-.6l.6-4.1l.5 5.9l.6-2.6l.5-3.6l.6 5.5l.5-3.3l.6 2.7l.5-3.8l.6 2.6l.5-5.6l.6 5.6l.5-5.3l.6 4.8l.5-7.7l.6 7l.5 2.2l.6-.6l.5 2l.6-6.4l.5 7.4l.6 .1l.5-7.9l.6 1.1l.5 .7l.6 1.5l.5 .6l.6-7.5l.5 8.7l.6-2.4l.5-2.2l.6 5.6l.5-3.7l.6 4.2l.5-1.7l.6-2.4l.5 4.2l.6-1l.5-3.7l.6-3.2l.5 3l.6 3.3l.5-2.4l.6 5.7l.5-4.3l.6-.2l.5 .6l.6-3.6l.5 2.1l.6-1.5l.5-4.8l.6 1.6l.5 7.1l.6-3.3l.5 .8l.6-3.8l.5 2.5l.6 3.9l.5-2l.6-1.7l.5 5.7l.6-4.5l.5-.8l.6 4.2l.5-8.2l.6 6.5l.5-4.8l.6 .9l.5 .3l.6 2.3l.5-.1l.6 .5l.5-.3l.6 3.4l.5 .7l.6-2.8l.5 .2l.6-3.3l.5-2l.6 4.7l.5-1.6l.6 2.3l.5-7.6l.6 12.7l.5-11.2l.6 3.6l.5 2.7l.6-6.7l.5 2.3l.6-4.2l.5 1.6l.6-1.4l.5 5.7l.6 .5l.5-1.8l.6 4.5l.5 .3l.6-4l.5-.6l.6-.2l.5-.6l.6 5l.5-3.1l.6-1.6l.5 .2l.6 2.2l.5-2.7l.6 2l.5-1.1l.6 3.9l.5-.6l.6-7.3l.5 3.5l.6 2.5l.5-3.4l.6 3.6l.5-1.4l.6 .7l.5-1.9l.6 1l.5 .6l.6-5.7l.5 1.5l.6-.3l.5 7.6l.6-3.9l.5 .1l.6-.6l.5-2l.6-.6l.5 4.4l.6-3.5l.5 5.5l.6-3.9l.5-.3l.6-.9l.5 .3l.6 .3l.5 4.2l.6 2.2l.5-9.8l.6 3.9l.5 1.2l.6-4.5l.5 .7l.6 .5l.5-5.5l.6 8.5l.5-2l.6-.1l.5 .5l.6 .4l.5 5.8l.6-6.1l.5 1.9l.6-3.9l.5 2.4l.6-1.9l.5 .5l.6-2.2l.5 .2l.6 3.6l.5 .8l.6-.9l.5-3.2l.6 2.8l.5-8.1l.6 9.8l.5-2.8l.6 .8l.5 2.5l.6-4.5l.5 3.9l.6-4l.5 2.8l.6-2.7l.5 1.9l.6 3.2l.5-5.9l.6 .1l.5 .7l.6 1.8l.5 6.8l.6-9.3l.5-4.2l.6 3.9l.5-2.7l.6 2.9l.5 1.6l.6-2.8l.5 .8l.6-3.4l.5 5.7l.6-2.6l.5 5.1l.6-.1l.5-5.4l.6 1.3l.5 1.2l.6 1.9l.5-6.8l.6 4.4l.5 5.4l.6-5.5l.5 .9l.6-.7l.5-3.4l.6 6l.5-1.9l.6-.4l.5 1.6l.6 .1l.5-7.5l.6 6.6l.5-3l.6 2l.5-2.5l.6-.4l.5 5.1l.6-2.8l.5-.8l.6 0l.5 1l.6-.3l.5-6.7l.6 4.2l.5 1.7l.6 2.8l.5 1.7l.6-6.5l.5 8l.6-5.2l.5 1.1l.6-2.9l.5-.3l.6 5.7l.5-4.7l.6 .3l.5 3.5l.6 1.6l.5-9.1l.6 3.6l.5 .5l.6 5.1l.5 1.8l.6-7.1l.5 1.1l.6 1.3l.5 .8l.6-4.2l.5 3.3l.6-4.5l.5-5.6l.6 3.6l.5 4.4l.6 1.6l.5-8.6l.6 1.2l.5 4.9l.6-9.4l.5 11l.6 1.2l.5-11.3l.6 10.5l.5-2.8l.6 4.5l.5-3.3l.6-1.5l.5 .9l.6 2.3l.5-2.2l.6-.5l.5-4.2l.6 5.3l.5-1.3l.6 5l.5-5.3l.6-.3l.5-1.6l.6 3.8l.5-2.7l.6-1.5l.5 6.4l.6 .4l.5-6.3l.6-1.7l.5 6l.6-5.6l.5 10.2l.6-8.4l.5 3l.6-6.4l.5 3.5l.6 3.1l.5-1.9l.6-2.8l.5 8.3l.6-4.9l.5-2.8l.6-1.1l.5 .9l.6 4.5l.5-6.1l.6 2.2l.5-2.5l.6 5.8l.5-4l.6 2.8l.5-.9l.6-3.3l.5 3.5l.6 .6l.5-5.9l.6 5.2l.5 7.9l.6-10.9l.5 2.6l.6-5.6l.5 5l.6-3l.5 3.7l.6-2.3l.5-3.2l.6 6.3l.5-3.7l.6-2.3l.5 3l.6-3l.5 3.8l.6-1.3l.5-.9l.6 2.9l.5-5.5l.6 6.3l.5-8.5l.6 10.2l.5-4.1l.6-1.2l.5-1.4l.6 3.6l.5-2l.6-.1l.5 3.4l.6-4.2l.5 .6l.6 1.8l.5 1.8l.6-3.4l.5 .8l.6-.3l.5 1.9l.6 2.1l.5-6.9l.6 2.3l.5 .2l.6 1.8l.5 2.6l.6-4.4l.5 .7l.6 2.6l.5-6.8l.6 1.3l.5 .9l.6 1.3l.5 .6l.6-2.1l.5 6.4l.6-7l.5 1.4l.6 3.6l.5-.9l.6-2.2l.5 1.1l.6 1.2l.5-2.4l.6 1.9l.5-4.5l.6 2.8l.5-4.9l.6 2.2l.5-.8l.6 6.8l.5-4.9l.6 2.2l.5-3.5l.6 2l.5-.2l.6-1.7l.5 4.9l.6-7.2l.5 6.5l.6 5.8l.5-9.9l.6 2.4l.5-4.6l.6 4.4l.5-4.9l.6 6.7l.5-3.2l.6-3.9l.5 1.6l.6-.9l.5 3.7l.6 3.2l.5-3.5l.6-2.3l.5 1l.6 2.7l.5-7.3l.6 8.6l.5-.5l.6-8.2l.5 10.4l.6-8.1l.5 4.1l.6 3.9l.5-8l.6-.6l.5 2.1l.6 .1l.5 2.7l.6-1.1l.5 .1l.6 .1l.5 .8l.6-1.9l.5 3.4l.6-.9l.5-2.8l.6 8.1l.5-8.8l.6 5.8l.5-4.2l.6 3.2l.5 .5l.6 1.1l.5 1.6l.6-6.4l.5 10.6l.6-6.9l.5-3.4l.6-1.5l.5 10.6l.6-1.9l.5-4.7l.6 2.3l.5 1.6l.6-3.4l.5-1.4l.6 1.2l.5 2.5l.6-2.3l.5-3.5l.6 5.8l.5-7.1l.6 2.9l.5 5.7l.6-2.8l.5 0l.6-.3l.5 2.7l.6-3l.5-5.4l.6 6.3l.5-9.4l.6 2.9l.5 10.5l.6-1.6l.5-4.2l.6 1.1l.5 .5l.6 2.7l.5-5.1l.6-.3l.5 .8l.6 2.2l.5 .3l.6-1.8l.5 3.3l.6-5.1l.5 2.7l.6-1.8l.5-.9l.6 6.4l.5-4.4l.6-2l.5 2.9l.6-3l.5 4.6l.6 .7l.5 .5l.6-6l.5 2.5l.6 5.7l.5-5.9l.6 4.2l.5 .7l.6-8.4l.5 7.4l.6-1.4l.5 .3l.6 2.3l.5-3.6l.6-1.2l.5 1.5l.6-2.8l.5 2.3l.6-7.2l.5 10.6l.6-6.5l.5 3l.6-.8l.5-.6l.6-.1l.5-.2l.6-5l.5 3.1l.6 4.9l.5-6.5l.6-.1l.5 8.9l.6-2.6l.5 .9l.6-4.6l.5 .7l.6 1.3l.5-.7l.6-1.9l.5-4l.6 1.9l.5-2.3l.6 8.7l.5-5.7l.6 .5l.5 1.2l.6-.8l.5 1.3l.6-3.4l.5-2.6l.6 9.2l.5-7.1l.6 .5l.5-1l.6 .6l.5 1.5l.6 2l.5-5.3l.6 3.7l.5-2.8l.6 5.2l.5-7.1l.6 3.7l.5 1.6l.6-6.1l.5 4l.6 0l.5-2.8l.6 1.4l.5 3.3l.6-2.3l.5-2l.6 .4l.5 1.7l.6 2.1l.5-1.5l.6-.4l.5 2.2l.6-9l.5 .1l.6-2.6l.5 8.6l.6-9.1l.5 6.1l.6 2.1l.5-6.4l.6 1.9l.5 .9l.6 2.5l.5-6.6l.6 4.9l.5 .8l.6-1.8l.5-.2l.6 2.7l.5-3.2l.6-1.1l.5-1.2l.6 2.4l.5-3.1l.6 2.2l.5-2l.6 2.5l.5-5.9l.6 1.9l.5 .3l.6-.4l.5 1.5l.6-2.6l.5 .9l.6 2.4l.5-3.7l.6-6l.5-1.6l.6 5.3l.5-3.6l.6 1.3l.5-1.9l.6 3.5l.5-.9l.6-7.2l.5 3.3l.6-2.3l.5-3.5l.6 4.8l.5-3l.6 .9l.5 4.9l.6-4l.5-1.4l.6-5.1l.5-3l.6 5.9l.5-5.2l.6 .1l.5-2.1l.6 .5l.5 5.5l.6-8.5l.5-.8l.6 .4l.5-.7l.6-5.1l.5-2.5l.6 2.4l.5 .1l.6-2.6l.5-1.6l.6-1l.5 .5l.6-.4l.5-5.4l.6 1.8l.5 1.4l.6-2.5l.5-4.6l.6 1.7l.5-.1l.6 1.1l.5-7.7l.6 5.6l.5-4.1l.6 1.1l.5 .7l.6-5l.5-.3l.6 1.4l.5 1.9l.6-4.1l.5-2.9l.6 1.5l.5 2.6l.6 1.7l.5-5.2l.6 .1l.5 0l.6-.3l.5-2.7l.6 1.1l.5 1.5l.6-.7l.5-.5l.6-3.2l.5 1l.6-.7l.5 4.7l.6 1l.5-3.3l.6 3.4l.5-5.4l.6 0l.5-2.8l.6 4.3l.5-1.9l.6 1.7l.5 1.4l.6-1.8l.5-2.1l.6 3.5l.5 .3l.6 .8l.5 2.4l.6-1.9l.5 .4l.6 6.2l.5-1.2l.6-2.6l.5-1.6l.6 2l.5 3l.6 2l.5 5l.6-6.7l.5 1.7l.6-.7l.5 1.9l.6-.6l.5-1.2l.6 6.6l.5-1.7l.6 4l.5-4.1l.6 3l.5 2l.6-6.1l.5 2.4l.6 6.7l.5-.9l.6-4.4l.5 3.9l.6 .1l.5 2.5l.6 6.5l.5-4.9l.6 8.1l.5-5.5l.6-.4l.5 7.2l.6-.9l.5 2l.6 2.4l.5-1.6l.6 1.3l.5-7.3l.6 3.3l.5 4.4l.6 .1l.5 2.3l.6-2.5l.5 5.2l.6 3.4l.5-3.2l.6 1.5l.5-.1l.6 2l.5-1.2l.6-1.2l.5 2.7l.6 .5l.5-3.7l.6 5.6l.5 .2l.6 1.2l.5-1.4l.6 3.6l.5 1.1l.6-3l.5 3.6l.6 1.9l.5 .6l.6-3.9l.5 .4l.6 3.6l.5-2.3l.6 10.5l.5-8.5l.6 .7l.5 4.6l.6-2.5l.5-4.6l.6 6.7l.5-1.7l.6 1.8l.5-2.5l.6 2.5l.5 2.6l.6 .7l.5-2.4l.6 1.6l.5 .1l.6 3.2l.5-.4l.6-2.6l.5 5.7l.6-3.3l.5 3.5l.6-3.2l.5 3.7l.6-.7l.5 .9l.6 1.6l.5 .2l.6-.3l.5 .3l.6-3.6l.5 3.7l.6-5.5l.5 .2l.6 5.7l.5 .6l.6 5l.5-1.9l.6 1.5l.5-3.6l.6 2.3l.5 2.3l.6-1.5l.5-.2l.6-.4l.5-2.5l.6 .3l.5-1.2l.6 5.3l.5-1.6l.6-.8l.5 3.1l.6-2.4l.5 4.7l.6 2.7l.5-3.8l.6-2.9l.5-2l.6 9.9l.5-4.1l.6-4.3l.5 6.4l.6-7.3l.5 3.6l.6 .7l.5-.1l.6-1.9l.5 9.9l.6-7.5l.5 2.3l.6-.7l.5-4.3l.6 3l.5 2.3l.6 2.1l.5-3.3l.6 2.1l.5-1.7l.6 2.7l.5-8.3l.6 8.6l.5-3.2l.6 .3l.5-6.1l.6 5.1l.5 4.7l.6 4.8l.5-8.1l.6 .3l.5 3.3l.6-.4l.5-2.3l.6 1.3l.5-.4l.6 2.9l.5 .6l.6 2.8l.5-2.2l.6-.5l.5-1.3l.6 2.3l.5-5.1l.6 8.7l.5-5l.6 3.2l.5-5.9l.6 5.1l.5-1.6l.6-1.4l.5-1.2l.6-.5l.5 7.4l.6-1.4l.5-2.9l.6 .3l.5-2.4l.6-2.9l.5 .3l.6 3.3l.5 1.3l.6-2.6l.5 5.4l.6-.7l.5-.8l.6-5.1l.5 4.3l.6 .6l.5-3.3l.6-2.4l.5 11.2l.6-3.4l.5-2.7l.6 5.5l.5-1.3l.6-1.7l.5-.5l.6 1.6l.5 1.9l.6-3.7l.5-.8l.6 2.3l.5-9.1l.6 7.9l.5-1.3l.6 1.1l.5-.4l.6 1.5l.5-.6l.6 0l.5-.5l.6 1.6l.5-2.5l.6 4l.5-7.1l.6 5.2l.5 .7l.6-4.6l.5 2.3l.6 4.8l.5-3.9l.6-1.9l.5-5.6l.6 8.9l.5-.6l.6 1.4l.5 3.9l.6-5.4l.5 .4l.6-2.1l.5 1.7l.6 .1l.5 2.1l.6-.5l.5-3.4l.6 .8l.5 5l.6-6.2l.5 4.6l.6 2.3l.5-2.5l.6-1l.5 3l.6-2.7l.5-.9l.6-.5l.5 3.6l.6-1.1l.5 2.3l.6-5l.5 .1l.6-.3l.5 1.9l.6-2.5l.5 4.3l.6-1.5l.5-3.5l.6-5.2l.5 3.1l.6 8.6l.5-3.9l.6 .6l.5-1.5l.6 2.2l.5-6.1l.6-.2l.5 1l.6 4.5l.5 1.7l.6-.6l.5-1.5l.6-3l.5 5.4l.6-2.8l.5 .7l.6-.1l.5-1l.6-.6l.5 .3l.6-1.8l.5 4.1l.6-1.1l.5 3.1l.6-7.4l.5 7.9l.6-3.3l.5-.2l.6-1.7l.5 0l.6-1.7l.5 6.2l.6-2.8l.5 2.4l.6 .3l.5-3.4l.6 .7l.5-.3l.6 3.6l.5-2.3l.6 .1l.5 1.4l.6-2l.5 5.5l.6-7.7l.5 5.7l.6 .4l.5-6.6l.6 5.2l.5-1.5l.6 1.6l.5-5.4l.6 3.8l.5-3.2l.6 1.7l.5 4.6l.6-4l.5-5.5l.6 2.2l.5 .7l.6 5.6l.5-4.4l.6-2.2l.5 6.9l.6-2.2l.5 .2l.6-2.9l.5 5.7l.6-3.9l.5-4.8l.6 2.2l.5 .8l.6 1.7l.5 2.4l.6-3.8l.5 .4l.6 7.1l.5-5.4l.6-1.5l.5 1.4l.6-3.2l.5 4.5l.6 1.1l.5-3.9l.6 4l.5-3.2l.6 1.5l.5-2.7l.6-.1l.5-1.8l.6 4.4l.5-1.2l.6 0l.5-2.2l.6 0l.5 1.3l.6 2.8l.5-.4l.6-2.5l.5 2.5l.6 3.7l.5-4.2l.6 4.9l.5-4l.6 2.3l.5-4.7l.6 4.3l.5-6l.6 3.7l.5-1.5l.6-4.2l.5 1.6l.6 6.3l.5-1.6l.6 2l.5-2.7l.6-7.8l.5 7.9l.6-2l.5 .1l.6 .2l.5-.8l.6-.5l.5 5.5l.6-1.9l.5-2.8l.6 .6l.5 3.5l.6-1.5l.5-.5l.6-3.5l.5 2l.6-1.8l.5-1.9l.6 7l.5-3.1l.6-.2l.5-1.3l.6 4.3l.5 3.3l.6-3.8l.5 .9l.6-5.4l.5 3.5l.6 .1l.5 3.2l.6-3.7l.5-2.4l.6 2.2l.5-.9l.6 4.7l.5-2l.6-.8l.5-.4l.6 1.7l.5-3.4l.6-1l.5-2.4l.6 7.6l.5-1.7l.6 .4l.5-1.5l.6 4l.5-6.6l.6 5.5l.5-5.1l.6 .9l.5-1.9l.6 3.3l.5-1l.6 1.8l.5-2.5l.6-2l.5 4.9l.6 1.8l.5-1.4l.6-2l.5 1.2l.6-5.3l.5 3.4l.6 3.7l.5-1.7l.6-3.3l.5 4.3l.6-2.5l.5 2.2l.6-5.4l.5 2.2l.6 2.2l.5-.1l.6 .6l.5-1.4l.6-.5l.5 1.7l.6 1l.5-5.9l.6 2.9l.5 .3l.6 .9l.5 2.2l.6-5.9l.5 4.7l.6-5.7l.5 2.5l.6 .5l.5 .7l.6-.9l.5 .3l.6 .4l.5 .2l.6-4l.5 1.2l.6 2.4l.5 2.4l.6 1.1l.5 4.7l.6-6.9l.5-2.2l.6 2.4l.5 1.2l.6-1.3l.5-3l.6 2.4l.5 .1l.6-3.4l.5 .5l.6 6l.5-8.5l.6 6l.5-1.1l.6 4.1l.5-1.9l.6-3.7l.5 5.3l.6-4.5l.5 6.3l.6-.8l.5-4.3l.6 2.1l.5-1.5l.6-2.7l.5 4.9l.6-1.6l.5 1.1l.6 .5l.5 .9l.6-1l.5-2.8l.6 .5l.5 .8l.6-1.3l.5-.3l.6 5.2l.5-3.4l.6 3.5l.5-6.6l.6 1.8l.5-1l.6 .1l.5 .3l.6 .4l.5-.8l.6 5.6l.5-2.8l.6-3.6l.5 .5l.6 3.2l.5-.5l.6-2.8l.5 3.8l.6-5.9l.5 2.4l.6 5.5l.5-10.8l.6 6l.5 2.9l.6-2.8l.5-1.5l.6-.3l.5-2.9l.6 1.8l.5 3.5l.6-1.6l.5 1.4l.6-.3l.5 1l.6-4.8l.5 3.4l.6-.1l.5 .1l.6-1.4l.5-3.3l.6 7l.5 .5l.6 3.8l.5-4l.6 2.3l.5-2.6l.6-2.4l.5 2.1l.6-4.1l.5 3.5l.6-.8l.5-2.4l.6 5.7l.5-.3l.6-1.6l.5 .9l.6 2.1l.5-4.4l.6-3.1l.5 1l.6 4.1l.5-1.1l.6-4.2l.5 6.9l.6-2.7l.5 3.5l.6-1.2l.5-3.9l.6 1.3l.5-2l.6-.3l.5 1.4l.6 2l.5 2.1l.6-5.5l.5 3.9l.6-1.6l.5-.6l.6 3.3l.5-3.6l.6 4.3l.5-4.3l.6-1.4l.5 4.2l.6-5.5l.5 .7l.6 2.5l.5 .5l.6-.7l.5-4.2l.6 1.6l.5 4.6l.6 .1l.5-3.9l.6 3.2l.5-.1l.6 2l.5-4.3l.6 5.4l.5-4.3l.6 4.3l.5-1.3l.6-4.8l.5 1.8l.6 1.5l.5 1.8l.6-5.9l.5 2.2l.6 2.8l.5-.4l.6-3.7l.5 .3l.6 3.4l.5-3.6l.6 3.1l.5 1.7l.6-2.2l.5-6.7l.6 9.6l.5 0l.6 .6l.5-1.3l.6-6.4l.5 7.8l.6-2.7l.5 1.5l.6-2.7l.5-.2l.6 0l.5 4.6l.6-3.3l.5-1.1l.6-2.7l.5 4.4l.6-1.2l.5 .4l.6 2.1l.5-.7l.6-1.7" stroke="#008080" stroke-width="10"/>
<path d="M333.8 599.0l.6 3.2l.5 .1l.6 .6l.5 2.9l.6-6.1l.5 2.1l.6-1.1l.5 3.5l.6 3.2l.5-2l.6 1.7l.5-5.4l.6 5.2l.5-2.2l.6 6.8l.5-1.9l.6 .5l.5-2.2l.6 1.9l.5 .3l.6-2.2l.5-.1l.6 1.1l.5-1l.6 .2l.5 1l.6-.9l.5 3.8l.6-5.5l.5 6l.6-3.3l.5 .4l.6-1.7l.5 3.1l.6-.1l.5 1.3l.6-1.5l.5 1.7l.6 4.4l.5-3.2l.6-2.1l.5 3.9l.6-2.3l.5 2l.6 .3l.5-2.1l.6-3.4l.5 4l.6 2.4l.5-1.9l.6 2.2l.5 1.6l.6-3.4l.5 4.6l.6 1.2l.5-1l.6 .5l.5 .1l.6 3.1l.5-4.7l.6-.2l.5 1.7l.6-3.3l.5-1.3l.6 1.9l.5 3.3l.6 .5l.5-4.5l.6-.6l.5 4l.6 .6l.5 .6l.6 2l.5 1.5l.6-2.1l.5 1.1l.6-3.8l.5 0l.6 3.6l.5 1.3l.6 .3l.5-.1l.6 .7l.5 .2l.6-5.9l.5 2.6l.6 3l.5 .5l.6-4.9l.5 6.6l.6-3.7l.5 .6l.6 1.4l.5 1.2l.6-5l.5 5.9l.6-2l.5-1.9l.6 1.3l.5-4.5l.6 3.8l.5 2.2l.6-2.1l.5 1.1l.6 .5l.5 .6l.6 2.5l.5-2.4l.6-.5l.5 2.1l.6 3.8l.5-5.7l.6 2.1l.5-4.9l.6 7.1l.5-1.5l.6 1.7l.5-3.2l.6-2.3l.5 4.8l.6-.3l.5-3.7l.6-1.4l.5 4.7l.6-1.4l.5 6.8l.6-7.6l.5 .3l.6 1l.5-3.6l.6 2l.5 6.1l.6-4.1l.5-1.1l.6-1.5l.5 4.6l.6 .2l.5-.8l.6-1.5l.5 1.8l.6 .2l.5-2.4l.6 3.2l.5-6.4l.6 2l.5 2.5l.6 .6l.5-2.4l.6 3.6l.5 1.9l.6-1.4l.5-.4l.6 1.5l.5-.9l.6-3.6l.5 2.4l.6 3.7l.5-5.8l.6 3l.5-1l.6-1.1l.5-.2l.6 2.8l.5 .6l.6 .1l.5-4.1l.6 2.8l.5 1.6l.6 1.5l.5-.5l.6 .4l.5 .7l.6-.6l.5-3.8l.6 2.1l.5-1.8l.6-3.9l.5 1.7l.6 9.1l.5-7.6l.6-2.7l.5 4l.6 5.1l.5-3.7l.6 1.1l.5-1.7l.6 .5l.5 3.2l.6-1.1l.5-2.1l.6 2.3l.5 .5l.6-3.1l.5 1.1l.6 0l.5-2.2l.6 4.3l.5-3.2l.6-1.1l.5-2.5l.6 1l.5 6.6l.6-6.4l.5 3.8l.6-1.9l.5 2l.6 .2l.5-3.3l.6 1.2l.5 .9l.6 0l.5-.4l.6-.7l.5 2.3l.6 1.6l.5-1.9l.6-3.1l.5 2.7l.6-.8l.5 .9l.6 3.3l.5-4.9l.6 .4l.5-2.1l.6 1.4l.5-.7l.6 5.2l.5-3.2l.6-2.1l.5 6l.6-7.8l.5 5.2l.6 .3l.5-1.1l.6-2l.5 .3l.6-.5l.5 2.7l.6-7.5l.5 4.3l.6 1.6l.5-1.8l.6-3l.5 3.8l.6-1.3l.5 3.7l.6 1.4l.5-3.2l.6-4.8l.5 4.2l.6-1.8l.5 3.8l.6 2.4l.5-3.3l.6 4.1l.5-1.2l.6-2l.5-3.7l.6 2.5l.5-3.7l.6 6l.5-2.2l.6 3l.5-2.6l.6-5.3l.5 6.2l.6 .7l.5 1.7l.6-6.3l.5 .1l.6 2.4l.5-2.7l.6-.7l.5 .6l.6 8.8l.5-7.7l.6-.9l.5 1.3l.6 1.1l.5 3l.6-.8l.5-.4l.6-1.7l.5 .2l.6-1.9l.5-2l.6 8.4l.5-5.9l.6 3.5l.5-3.2l.6 .5l.5-.1l.6-3l.5 3.1l.6 1.1l.5 1.1l.6-.8l.5 1.3l.6-1.8l.5-.7l.6-4.7l.5 3.4l.6 5l.5-3.4l.6 1.6l.5-2.4l.6-1.1l.5 6.5l.6-4l.5 2.7l.6-2.3l.5-2l.6-4.7l.5 5.6l.6-3.9l.5-1.6l.6 8.3l.5-1.3l.6-.2l.5-1.4l.6-.2l.5 1.1l.6-.6l.5-.2l.6 1.6l.5-7.7l.6 8l.5-3.6l.6 3.5l.5 .8l.6-4.8l.5 3.9l.6-.1l.5-3.6l.6 .4l.5 1.5l.6-5.5l.5 4.2l.6 1.5l.5-1.5l.6-2.8l.5 2.9l.6 4.6l.5-.5l.6-3.4l.5-1.6l.6 1.9l.5 .1l.6-1.7l.5 .9l.6 2.3l.5 .8l.6-8l.5 8.1l.6-1.9l.5 2.4l.6-2.7l.5 1.1l.6 2.9l.5-10.9l.6 10.9l.5-3.3l.6-4.7l.5-2l.6 7.1l.5-3.1l.6 4.9l.5-1.8l.6-.8l.5 2.8l.6-1.9l.5 1.4l.6 .3l.5-1.2l.6 1.2l.5 0l.6-5l.5 2.7l.6 .4l.5-.6l.6-2.8l.5 2.5l.6 2.3l.5-.3l.6 3.2l.5-5l.6 .5l.5-.2l.6 .6l.5-.6l.6-2.9l.5 5.3l.6 1.6l.5 .4l.6-5.1l.5 2.2l.6 4.9l.5-4.6l.6 1.2l.5-1.1l.6 2.8l.5 0l.6 3.3l.5-4.3l.6 0l.5-3.9l.6 2l.5-.7l.6 1l.5-2.3l.6 6.1l.5-5.3l.6 3.2l.5-3.6l.6 3.9l.5 3.2l.6-5.9l.5 2.9l.6-.9l.5 .9l.6 .3l.5-2.4l.6 1.1l.5-.9l.6-.5l.5-.9l.6 5.3l.5-4.1l.6 3.4l.5-.2l.6-3.6l.5 4.9l.6-4.5l.5 3.6l.6 2l.5-5.2l.6-.5l.5 0l.6 7.8l.5-6.4l.6-2l.5 4.9l.6-2.3l.5 .4l.6-2.3l.5-2.9l.6 3.6l.5-.8l.6-1.3l.5 1.3l.6 .3l.5 4.2l.6-.2l.5-.4l.6-2.5l.5-1.7l.6 3.7l.5 .4l.6 1.4l.5-2.5l.6-.2l.5 1.1l.6-2.9l.5 .3l.6 3.4l.5-4.5l.6 2.9l.5 2l.6-1.3l.5 .5l.6-3.6l.5 2.4l.6-.4l.5 2.1l.6-.4l.5-.9l.6 4.5l.5-3.2l.6-2l.5-.7l.6 1.4l.5-1.3l.6 5.3l.5-2.5l.6-2.1l.5-.8l.6-1l.5 1.9l.6 3.8l.5-1.1l.6-2.1l.5 .5l.6-4.7l.5 6.2l.6-2.3l.5 3.8l.6-3.7l.5-.7l.6 1.7l.5-2l.6 4.7l.5-2.5l.6 .3l.5-.1l.6-1.6l.5 2l.6-.7l.5 3.7l.6-4l.5 .8l.6-1.9l.5 .2l.6 .2l.5 3.8l.6-2.9l.5 2.2l.6-2.9l.5-.3l.6-3.6l.5 6.5l.6 3l.5-5.5l.6 4l.5-1.4l.6-3.6l.5 3.5l.6-4l.5 1.5l.6 3.6l.5-2.5l.6-3.1l.5 6.1l.6-5.9l.5 2.2l.6-.4l.5 .4l.6-1.6l.5-1.8l.6 8.3l.5-6.7l.6 .2l.5-3.7l.6 6l.5 2.9l.6 .3l.5 3.2l.6-3l.5-2.5l.6-.9l.5 3.3l.6-3.4l.5 .5l.6-2.7l.5 2.5l.6 4.5l.5-4.8l.6 1.1l.5-6.6l.6 8.9l.5-2.3l.6 2.5l.5-2.8l.6-2.6l.5-1.2l.6 4.4l.5-1.2l.6-2.3l.5 2.2l.6-1.3l.5 3.2l.6-2.7l.5-1.9l.6 2.7l.5-1.1l.6 4.8l.5-4.6l.6-2l.5 3l.6-.5l.5 1.2l.6-.1l.5-2.9l.6 2.3l.5-.1l.6-2.6l.5 1.5l.6 1.8l.5-4.2l.6 1.2l.5 1.5l.6 .9l.5 1.4l.6-4.4l.5 3.9l.6 .8l.5 2.2l.6-4.6l.5-1.2l.6-1.4l.5 4.9l.6 1.8l.5-4.7l.6 2.8l.5 1l.6 .2l.5-3.1l.6 2.5l.5-1.6l.6-2.1l.5 2.9l.6 .3l.5-3.1l.6 3.3l.5 3.7l.6-8.2l.5 5.2l.6 .6l.5-2l.6 .6l.5-1.4l.6 3.9l.5-5.4l.6 1.9l.5-4.3l.6 5.4l.5 .1l.6-4.8l.5 1.9l.6 3.2l.5-2.3l.6-1.7l.5-3l.6 6.7l.5 3.8l.6-5.7l.5 2.1l.6 0l.5-1.2l.6 .5l.5 0l.6-2.3l.5 8l.6 .5l.5-5.6l.6 3.5l.5-6.2l.6 1.4l.5 3.3l.6-5.4l.5-.4l.6 3.9l.5-5.4l.6 8.7l.5-2.2l.6-1.2l.5 1l.6-3.7l.5-.1l.6 4.3l.5 .2l.6-1.8l.5-.5l.6-1.1l.5 4.6l.6-6.8l.5 1.5l.6 .7l.5-2.3l.6 .5l.5 .7l.6 4.8l.5 1.9l.6-3.4l.5-4.7l.6 2.4l.5 1.1l.6-.3l.5-.2l.6 2.1l.5-5.8l.6 3.2l.5 1.9l.6 1.2l.5-1l.6-.6l.5-.4l.6-1.2l.5 1.7l.6-.6l.5-1.2l.6 4.5l.5 0l.6-3.7l.5 2.3l.6 1.4l.5-2.2l.6-.3l.5 .9l.6-5.1l.5 .5l.6 4.6l.5-.6l.6 2.6l.5-4.4l.6 3.8l.5-.1l.6 2.1l.5-6.5l.6 1l.5 1.5l.6 0l.5-3l.6 1l.5-1.7l.6 8.5l.5-5.6l.6 .1l.5-1.4l.6 1.5l.5 1.8l.6-2.6l.5 .7l.6 5.2l.5-3l.6-1.6l.5-1.6l.6 1l.5-1.7l.6 2.3l.5-2.2l.6-.1l.5 .7l.6-1.6l.5 3l.6 5.5l.5-7.5l.6-2.4l.5 6.1l.6-2.5l.5 4.9l.6-3.8l.5 1.3l.6-4l.5-2l.6 3.3l.5 2l.6-3.6l.5-1.8l.6 2.4l.5 .3l.6 .3l.5 .7l.6 5.7l.5-5.6l.6-1.3l.5-1.4l.6 4.4l.5-5.6l.6 7.1l.5-3.4l.6-3.5l.5 3.9l.6-.7l.5 3.2l.6-6.4l.5 3.9l.6-.5l.5 2.2l.6-4.8l.5 .8l.6 6.4l.5-3.3l.6-4.8l.5 4.3l.6-2.7l.5 .3l.6-1.3l.5 5.2l.6-3.6l.5 1.7l.6-.3l.5-3.8l.6 1.9l.5 3.5l.6-5.5l.5 4.3l.6-.9l.5 1.8l.6 .1l.5 .3l.6-1.8l.5 .4l.6-2.2l.5 .4l.6 3.3l.5-3.5l.6 3.8l.5 0l.6-4.3l.5 3.2l.6-3.2l.5 2.7l.6-2.7l.5 2.7l.6-.4l.5-2.9l.6 7.3l.5-2.6l.6-6l.5 4.6l.6-1.9l.5 5.8l.6-4.9l.5 1l.6-1.3l.5 1.9l.6-2.8l.5-.8l.6 .9l.5 .2l.6 2.5l.5-1.3l.6-1.3l.5 .1l.6-1.2l.5 2.5l.6-5.1l.5 4.2l.6 3.3l.5-3.6l.6-.7l.5 1.6l.6-2.3l.5 .4l.6 3.4l.5-3.1l.6 6.1l.5-3.4l.6-1.5l.5-1.2l.6 .9l.5-4.8l.6 5.9l.5 1.5l.6-.7l.5-2.4l.6 2.5l.5 0l.6-1.8l.5 1.1l.6 1.6l.5-1.3l.6-2l.5 .9l.6 .3l.5-4.1l.6 4.1l.5-.6l.6-4.8l.5 1l.6 8.3l.5-4l.6 2.9l.5-4l.6 4.4l.5-2.2l.6-3l.5 2.3l.6 3l.5 1.9l.6-4.4l.5-2.2l.6-1l.5 3.6l.6 1l.5-2.2l.6-.6l.5 2.1l.6-.7l.5-.3l.6-4.5l.5 2.8l.6 5.3l.5-4.5l.6 5.7l.5-4.8l.6-1.6l.5 1.4l.6 .7l.5-3.1l.6 2.3l.5-1.6l.6 4.4l.5-4.5l.6 1.3l.5-3.8l.6 .3l.5 3l.6-1.9l.5 1.4l.6 1.3l.5 .7l.6-4.6l.5 2.9l.6 2l.5-3.2l.6-1.5l.5 1.5l.6 5.4l.5-3.8l.6 3.6l.5-4.3l.6 3.5l.5-6.2l.6 2.8l.5 .8l.6 3.9l.5-3.1l.6 1.6l.5-3.7l.6 0l.5 4l.6 .4l.5-.5l.6-.1l.5-4l.6 6.3l.5-4.7l.6 2.6l.5-1.3l.6-5.9l.5-.4l.6 .8l.5 3.6l.6 2.8l.5-3.2l.6 2.5l.5-4.9l.6 1.4l.5-.6l.6 2.2l.5-2.8l.6 2.4l.5 1.7l.6-2.5l.5-1l.6 1l.5-1.8l.6 .4l.5 4.3l.6-1.1l.5-4.2l.6 2.7l.5 1.8l.6 .8l.5-.4l.6 .8l.5-2.4l.6 0l.5-.5l.6 3.1l.5-.6l.6 2.2l.5-1.6l.6-4.5l.5-1.6l.6 .2l.5 1.2l.6 3.5l.5-4.7l.6-1.5l.5 4.3l.6 2.3l.5-.1l.6 2.1l.5-4l.6-1.3l.5 .6l.6-2.4l.5 1.5l.6 4.6l.5 1.9l.6-1.9l.5-2.3l.6-1.3l.5 1.1l.6-5l.5 5.7l.6 .5l.5-2.2l.6 .4l.5-4.1l.6 5.9l.5 0l.6-8.4l.5 5.1l.6 2.2l.5 3.1l.6-6l.5 1.9l.6 3.6l.5-2.4l.6-1.6l.5-.6l.6 1.1l.5-1.9l.6 4.2l.5-4.4l.6 3.3l.5 .9l.6 .6l.5-2.5l.6-.2l.5 .7l.6-.6l.5 2.4l.6-2.8l.5 4.8l.6 2l.5-8.1l.6 2.4l.5-3.7l.6 4.5l.5-.8l.6-1.5l.5-2l.6 2.5l.5 4.6l.6-1l.5-2.9l.6-2.4l.5 1.4l.6-1.9l.5-1.3l.6 .9l.5 3.6l.6-.8l.5-.3l.6-3.1l.5-.8l.6 5.6l.5-3.3l.6 3.6l.5-4.6l.6 4l.5-1.9l.6-1.6l.5-.1l.6 5.4l.5-2.4l.6-2.9l.5 .9l.6-4.1l.5 7.6l.6-.9l.5-4.4l.6 2l.5-7.8l.6 8.7l.5-1.3l.6-.6l.5 1.2l.6-1.4l.5-3.1l.6 .5l.5 1l.6 2.4l.5-2.2l.6-1.8l.5 2.3l.6-3.9l.5 7.6l.6-4.3l.5-3.2l.6 2.5l.5 2l.6-1.4l.5 3.3l.6-8.3l.5 7l.6-4l.5 1.9l.6 1.8l.5-7l.6-.7l.5 2.2l.6-3.2l.5-1l.6 4.7l.5 2.4l.6-4.1l.5 2l.6 7.3l.5-8.2l.6-1.8l.5 .1l.6 1.1l.5-2l.6 2l.5-1.5l.6 1.3l.5-2.2l.6-.9l.5-2.4l.6-1.4l.5 2.1l.6-.7l.5 1.2l.6-1.3l.5-1.3l.6 5.8l.5-5.1l.6 1.6l.5-5.8l.6 4.2l.5-.1l.6-2.3l.5-3.8l.6 4.5l.5-5.3l.6-2.6l.5-.8l.6 3.3l.5-2.1l.6 2.3l.5-1.1l.6 .7l.5-3.5l.6-1.5l.5-1.4l.6-3.1l.5-1.4l.6-1.1l.5 .9l.6-4l.5 .3l.6 1.2l.5-9.8l.6 1.8l.5-2l.6 .5l.5-5.3l.6 .1l.5 5l.6-10.6l.5 1l.6-1.3l.5-3.3l.6-4.5l.5 2.5l.6-9.7l.5-.8l.6-1.5l.5-4.4l.6 .7l.5-7.1l.6 1.5l.5-8.3l.6-.1l.5-6.3l.6-5.3l.5-3.7l.6-.4l.5-7.1l.6-2.4l.5-5.5l.6-6.8l.5 2.3l.6-3.6l.5-8l.6 .4l.5-5l.6-7l.5-.6l.6 1.3l.5-1.4l.6-4l.5 3.3l.6-8.1l.5-4.7l.6-3.7l.5 5.2l.6-6.1l.5-.8l.6-1.7l.5-.2l.6 1.4l.5 2.8l.6 1.4l.5 1.1l.6 3.3l.5-1.3l.6 1l.5 4.6l.6-2.3l.5 9.3l.6 1.6l.5 2.8l.6-.7l.5 4.9l.6 4.9l.5 1.5l.6 3.8l.5 6.2l.6 4.9l.5 2.1l.6 7.8l.5 6.5l.6-.1l.5 2l.6 3.6l.5 8.5l.6 .9l.5 4.7l.6 3l.5 2l.6 8.6l.5-.5l.6 4.3l.5-2.2l.6 13l.5-.7l.6 .4l.5 .4l.6 2.4l.5-.6l.6 7.1l.5-1.3l.6 4.8l.5 1.9l.6 5.1l.5-2.3l.6 1.8l.5 2l.6-1.1l.5 2.3l.6 2.7l.5 3.3l.6 .3l.5-1.2l.6 4.6l.5-2.7l.6-1.7l.5 8.2l.6-2.8l.5-.3l.6-1l.5 2.4l.6 5.6l.5-3.5l.6 6l.5-4.6l.6 3.2l.5-2.1l.6-.6l.5 .6l.6 .9l.5-1.7l.6 .4l.5 4.2l.6 2.5l.5-2.1l.6 .2l.5-1.8l.6 5.2l.5 .2l.6-4.8l.5 3.3l.6-.6l.5-2.4l.6 7.6l.5-.7l.6-1.7l.5 2.9l.6-4.2l.5 2.1l.6 2.8l.5-3.6l.6 1.6l.5-2.7l.6 4l.5 1.4l.6-4.8l.5 .6l.6 1.9l.5 3.6l.6-4.3l.5-.6l.6 1.8l.5 3.1l.6-6.1l.5 3.3l.6 3.6l.5-3l.6-.5l.5 2.8l.6-4.7l.5 7.8l.6-3.6l.5-1.9l.6 1.3l.5-.3l.6-.4l.5-2.1l.6 2.4l.5-3.4l.6 7.3l.5-5.7l.6 1l.5-.1l.6 3.6l.5-2.1l.6 3.8l.5-4.3l.6 1.4l.5-.5l.6-.6l.5 3.4l.6 .3l.5 .1l.6-6.3l.5 4l.6-3.5l.5-.1l.6-1.6l.5 1.9l.6 3.5l.5 1.7l.6 .7l.5-6.3l.6 .5l.5 1.8l.6-.3l.5-.1l.6-4.7l.5 3.4l.6 1.6l.5-1l.6-1.1l.5-1.6l.6 1.2l.5 3.7l.6-2.8l.5 1l.6 1.1l.5-6.7l.6 3.8l.5-.7l.6 1.7l.5-4l.6-.2l.5-1.4l.6 1.6l.5-1.4l.6 0l.5 .8l.6-2l.5-1.6l.6 .8l.5-.7l.6 2l.5 1.5l.6-4l.5-5.3l.6 6.6l.5-2l.6-2.5l.5 1.1l.6 4.3l.5-8.4l.6 .1l.5 1.9l.6-7.8l.5 5.4l.6 2.6l.5-1.7l.6-1.2l.5-2.5l.6-.4l.5 6l.6-6.7l.5 1.7l.6-6.9l.5 2.7l.6-.6l.5-1.3l.6-6.3l.5 3.2l.6 3.5l.5-3.1l.6-4.2l.5 2.8l.6-7.5l.5 4.6l.6-1.7l.5-3.4l.6-2l.5-2.6l.6 2.4l.5 3.6l.6-2.8l.5-1.8l.6 .5l.5-4.2l.6 1.9l.5-8.7l.6 5l.5-.6l.6 .4l.5-.7l.6 1.5l.5-3.1l.6 3.5l.5-2.6l.6 2.8l.5-1.4l.6 2.2l.5-.3l.6-1.7l.5 2.6l.6-2.7l.5 3.9l.6 1.6l.5-.7l.6 1.1l.5 3.6l.6 1.6l.5 1.7l.6-3.4l.5 1.6l.6 4.1l.5 1.6l.6-5l.5 10.1l.6-.6l.5-4.4l.6 6.6l.5-2.6l.6 1.6l.5-1l.6 1.3l.5 1.9l.6 2.1l.5-1.9l.6 3.3l.5-.6l.6 1.3l.5 .1l.6 1.4l.5 6l.6-6.6l.5 1.5l.6 3.6l.5-.2l.6-.6l.5 4.1l.6-3.1l.5 3.4l.6 2.8l.5-.4l.6-1.4l.5 1.1l.6 .8l.5 1.4l.6-3.2l.5 5.6l.6-.8l.5 3l.6-2l.5 .9l.6-8.9l.5 6.2l.6 5.7l.5-3.1l.6-1.6l.5 3l.6-1.1l.5 1l.6-2.3l.5 3.1l.6 2.5l.5-2.8l.6 .7l.5-2.6l.6 2.9l.5-2l.6-2.2l.5 2.2l.6 .4l.5 1.9l.6 .9l.5-2.7l.6-.4l.5 2.3l.6-3.6l.5 1.3l.6 .2l.5 .2l.6-1.1l.5 5.2l.6-1.6l.5-2.6l.6-3l.5 2.1l.6 2.5l.5-5.9l.6 10.3l.5-6l.6 0l.5 1.5l.6-4.8l.5 3.4l.6-.2l.5 1.7l.6-4.1l.5 3.8l.6 1.2l.5-2.1l.6-2l.5-.7l.6-2.2l.5 2.7l.6 2.5l.5 2.2l.6-1.1l.5 .3l.6-3.9l.5 .1l.6-2.7l.5 2l.6-1.1l.5 2l.6 2l.5-1.9l.6-.6l.5 2.3l.6 1.8l.5-1.1l.6-6.5l.5 7.9l.6-5.2l.5-2.5l.6 2.4l.5 3.1l.6-8.7l.5 9.1l.6-2.6l.5 .7l.6-4.7l.5 1.8l.6-1.5l.5 5.3l.6-4.7l.5 2.6l.6-2.6l.5-2.4l.6 5.8l.5 .6l.6 .6l.5-4.9l.6 1.3l.5 1.5l.6-1l.5-.3l.6 4.8l.5-6.4l.6 2.9l.5-3.3l.6 4.5l.5-4l.6-1.7l.5 4.1l.6-1.7l.5-1l.6 .4l.5-.9l.6 2.6l.5-.4l.6 3.1l.5-5.4l.6 4.9l.5-2.1l.6-4.5l.5 6.8l.6-7.6l.5 5.3l.6-5.5l.5 5l.6-1.5l.5 .2l.6-3.8l.5 2.7l.6 4.6l.5-1.3l.6-1.5l.5-.1l.6-1.2l.5 4.9l.6-3.4l.5 2.6l.6-5.9l.5-.1l.6 6.8l.5-5.2l.6 1.6l.5 1.6l.6 1.1l.5-.6l.6-.2l.5 2.5l.6-3.1l.5 1.5l.6-1.9l.5 .3l.6 4.1l.5-5l.6-5.3l.5 6.1l.6 .3l.5 3.9l.6-5.1l.5-1.8l.6 3l.5 4.1l.6-5.1l.5 3.8l.6-1.8l.5 .4l.6-3.4l.5 2.1l.6-2l.5 2l.6-1.6l.5 4.3l.6-3.7l.5 .8l.6-4.6l.5 3l.6 8.2l.5-6.6l.6-2.7l.5 3.9l.6-.4l.5-.5l.6 .7l.5-.3l.6 3.5l.5-4.8l.6 3.5l.5 1.6l.6-3.9l.5 7.6l.6-5l.5-.1l.6-.9l.5 3.3l.6-5.3l.5 5.3l.6 4l.5-4.2l.6 1.4l.5-3.9l.6 4.2l.5-3.4l.6 1l.5 1.2l.6 4.7l.5-5.6l.6-3l.5 5.1l.6 1.7l.5-.1l.6-.8l.5 2.9l.6-1l.5 .1l.6-2.7l.5-2.3l.6 7.4l.5-5.6l.6 5.2l.5-.1l.6-5.3l.5 1.3l.6 2.7l.5 1.4l.6-4.4l.5 1.7l.6-1.6l.5-.3l.6 3.1l.5-1.2l.6-3.5l.5 5.8l.6-1.7l.5 .1l.6-2.1l.5 4.9l.6-.8l.5 .1l.6-.8l.5 1.2l.6 2.9l.5-3.1l.6 .2l.5-1.5l.6 2.8l.5-2l.6-1l.5 4.4l.6-2.9l.5-1.5l.6 .5l.5 .5l.6-1.2l.5 6l.6-1.8l.5-4.5l.6 6l.5-3.4l.6 1.5l.5-1.3l.6 1.9l.5 .1l.6 1l.5 .2l.6-7.8l.5 4.9l.6 1.2l.5-.4l.6-2.8l.5 2.6l.6 .5l.5-4.2l.6 2.8l.5 3.8l.6-3.3l.5 1.4l.6 .5l.5 1.3l.6 .6l.5 .8l.6-2l.5 .3l.6-.7l.5 .9l.6-.6l.5 2.1l.6 0l.5-4.8l.6-1.9l.5 6.3l.6-2.1l.5-2.3l.6 5.9l.5 1.3l.6-6l.5 .5l.6 .7l.5-.2l.6 1.7l.5-2.3l.6 2.6l.5-.8l.6 3.4l.5-2.5l.6 2.3l.5 1.5l.6-2.2l.5 .4l.6-2.6l.5 1.2l.6 5.4l.5-2.1l.6-3l.5-1l.6 .7l.5 2.9l.6-7.2l.5 5.4l.6-3.6l.5 6.4l.6-6.6l.5 5.5l.6-2.8l.5 .8l.6 3.9l.5-3.9l.6 1.7l.5-.6l.6-3.6l.5 2.7l.6 2.4l.5-1.4l.6-.4l.5-2l.6 5.3l.5-4.9l.6 5.5l.5-3.6l.6 1.2l.5-4.9l.6 3.6l.5-2.4l.6 2.4l.5 2.7l.6-1.9l.5-.2l.6 1.7l.5-5l.6 3.1l.5-1.6l.6 4l.5-4.2l.6 5.5l.5 1l.6-9.6l.5 4.6l.6-3.3l.5 6.6l.6-4.8l.5 3.5l.6-.7l.5-2.9l.6-1.3l.5 6.2l.6-4l.5 2.1l.6 2.7l.5-3.4l.6-.6l.5-1.6l.6 3.5l.5-3l.6-2l.5 2.6l.6 0l.5-2.3l.6 3.2l.5 2.5l.6-.5l.5 3.4l.6-2l.5-2l.6-5.4l.5 5.3l.6 2.4l.5-3.5l.6 4l.5-5.4l.6 2.8l.5 1.3l.6 2.1l.5-4.1l.6 4.7l.5-5.3l.6-3.4l.5 4l.6 3.5l.5-4l.6 4.6l.5-4.3l.6 5l.5-9.7l.6 10.6l.5-10.2l.6 4.7l.5-2.6l.6 3.5l.5-1.2l.6-.2l.5 2.2l.6 .8l.5-3l.6 3.7l.5-7l.6 1.6l.5-.8l.6 4.4l.5 1.1l.6-3.2l.5-.5l.6-1.3l.5 4.4l.6 1.1l.5-4l.6 .9l.5-.6l.6 .9l.5 1.2l.6-6.4l.5 4l.6 3.2l.5-4.1l.6 5.2l.5 .3l.6-5.6l.5 .4l.6 5l.5-7.1l.6 1.4l.5-1.4l.6 4l.5 .7l.6 .3l.5-.5l.6-4l.5 6.1l.6-3l.5-.8l.6 5l.5-3.8l.6 .5l.5 1.1l.6 2.8l.5-4.9l.6 1.7l.5-7.2l.6 3.1l.5 7.2l.6-.2l.5-5.1l.6-1.8l.5-1.2l.6 .4l.5 1.4l.6-2.7l.5 3.8l.6-.2l.5-2.6l.6-.2l.5 .3l.6 1.5l.5 .6l.6 1.9l.5-5.6l.6 3.3l.5 .8l.6 .7l.5 1.2l.6-3.1l.5 3.9l.6 2.4l.5-4.4l.6 2.6l.5-1.4l.6-1.3l.5-1.6l.6 1l.5 4.2l.6-4.7l.5-2.1l.6 .6l.5 3l.6-3.5l.5 3.7l.6-.5l.5-1.3l.6 3.3l.5-7l.6 1.7l.5 .8l.6 1.2l.5-4.2l.6 1.8l.5 4.3l.6-4.2l.5 3l.6-3l.5-1.4l.6 2.8l.5 1.7l.6-3.4l.5-3.2l.6 1l.5 .6l.6 .2l.5-1.9l.6 3.6l.5-4.4l.6 4.6l.5-5.1l.6-.1l.5 4.7l.6-1.2l.5-2.8l.6-.9l.5 .7l.6 .3l.5 .2l.6 1.6l.5-4.7l.6 1.7l.5-.2l.6-3.7l.5 5.7l.6 .8l.5-4.3l.6-4.5l.5 1.9l.6 3.7l.5-7.4l.6-.3l.5 3.1l.6 1.9l.5 .5l.6 0l.5-8.4l.6 3.8l.5-1.3l.6-.5l.5 3.8l.6-1.3l.5-3.2l.6 1.9l.5-.5l.6 2.1l.5-4.7l.6 2.3l.5-3.5l.6 2.3l.5-1.6l.6 .3l.5-1l.6 3.1l.5-5.5l.6-1l.5 .5l.6 2l.5 .2l.6-2.2l.5-1.8l.6 .3l.5-1.1l.6 2.4l.5-1.5l.6 .2l.5-.8l.6-.3l.5 2.1l.6-4l.5 1.7l.6-.2l.5-3l.6 5l.5-3.4l.6-3.4l.5 4.4l.6-1.2l.5 .1l.6-2.4l.5-.6l.6 .9l.5-3.7l.6 3.2l.5-.5l.6 1.6l.5-2.8l.6 1.6l.5-4.9l.6 1.2l.5 3.2l.6 1.2l.5-1.5l.6-5.7l.5 .7l.6 .7l.5 3.8l.6-4.4l.5 1.5l.6 .2l.5-.4l.6-1.7l.5 .7l.6 .8l.5-1.9l.6-.9l.5 1.5l.6 1.2l.5 1.7l.6-8.5l.5 2.7l.6-.9l.5-3.1l.6 1.3l.5-1.4l.6-1.3l.5 .3l.6 2.2l.5-4.3l.6 .5l.5 .3l.6-2.6l.5-1.1l.6-1.5l.5 1.2l.6 4.1l.5-7.6l.6 4.9l.5-4.7l.6-.8l.5 3.1l.6-1.3l.5-.6l.6-2.3l.5 .9l.6-4.3l.5 1l.6 .3l.5-3.4l.6-3.1l.5 4.5l.6-5.4l.5-2.9l.6 2.5l.5 .3l.6-2.6l.5-4.9l.6 1.9l.5-.4l.6-.3l.5-5.6l.6-.7l.5 2.3l.6-1.4l.5 .1l.6 .9l.5-6.3l.6 0l.5 .9l.6 4.6l.5-3.7l.6 3l.5-7l.6 6.6l.5 2.4l.6 2.1l.5-3.7l.6 7.2l.5-5.2l.6 6.4l.5 1.7l.6-2.8l.5-1.8l.6 9.1l.5-2.9l.6-2.4l.5 5.1l.6-2.1l.5 4.1l.6-1.5l.5-1.2l.6 8.1l.5-1.7l.6 2.7l.5 2l.6 .9l.5 .2l.6 3.9l.5 2l.6 .7l.5 .4l.6 2.5l.5 5l.6 1.1l.5-1.5l.6 3.7l.5 1.7l.6 1.7l.5 .4l.6 2.7l.5-.3l.6 3.8l.5 1.1l.6 1.6l.5 1.2l.6 .9l.5-2l.6 0l.5 3.7l.6-.3l.5 3.3l.6-2.4l.5 1.2l.6-1.3l.5 3.5l.6 .1l.5 4.1l.6-1.7l.5 3.6l.6-4.2l.5-1.3l.6 6.6l.5-.7l.6 2.9l.5-4.5l.6-1.9l.5 8l.6-2.4l.5-1.5l.6 6.6l.5-4.3l.6-1.6l.5 3.1l.6-1.7l.5-.4l.6 3.1l.5-.5l.6-.3l.5 .5l.6-2.6l.5 4.9l.6 3l.5-3.4l.6 2.5l.5 1.8l.6-4.7l.5-.8l.6-.5l.5 1.3l.6 3.1l.5-1.9l.6 3.2l.5-3.9l.6 5.3l.5-4.2l.6 .7l.5 .5l.6-.5l.5 .4l.6 1.8l.5-1.4l.6 1.4l.5-2.7l.6 .2l.5-1.3l.6 4.9l.5-3.4l.6 3l.5-.7l.6 .2l.5-.7l.6 1.9l.5-.1l.6 2.6l.5-4.1l.6-.2l.5-1.9l.6 7.7l.5-6.4l.6 3.4l.5 0l.6-4.4l.5 1.3l.6 3.1l.5-1.6l.6-2.8l.5 3.2l.6 3.2l.5-2.6l.6 .5l.5 1.7l.6 2l.5-4.7l.6-1.5l.5 1.3l.6-.9l.5-1.9l.6 2.7l.5-1.8l.6 5l.5-3l.6-5.6l.5 3.6l.6 3.2l.5-2.2l.6-.5l.5 .6l.6-.6l.5 3.3l.6-2.4l.5-1l.6 3.9l.5-4.5l.6 3.2l.5-2.7l.6 1.3l.5-.1l.6-1.5l.5 1.3l.6 4.7l.5-5.8l.6 7l.5-2.6l.6 1.7l.5-4.6l.6 3.6l.5-2l.6 4.2l.5-5.6l.6 3.9l.5-4.2l.6 4.6l.5-4l.6-1.7l.5-.6l.6 1.9l.5 4.8l.6-6.5l.5 1.3l.6 1.5l.5 .3l.6 .5l.5 3.1l.6-4.1l.5-2.8l.6 5l.5-2.6l.6 .4l.5 .9l.6 3.3l.5-.8l.6-2.7l.5-.9l.6 1.9l.5-2.8l.6-2.2l.5 2.5l.6 3.7l.5-3.7l.6 .4l.5 4.4l.6 .1l.5 0l.6-5.1l.5 2.9l.6 2l.5-.8l.6-3.2l.5 .4l.6-1.2l.5 .5l.6 2l.5 0l.6-2.8l.5 3.5l.6-1.1l.5 2.5l.6-4.2l.5 1.8l.6-5.6l.5 6.8l.6-.4l.5 .6l.6-1.9l.5 0l.6-.2l.5 3l.6-5.1l.5 2l.6 1.6l.5-2.2l.6-1.3l.5 1.4l.6 1.4l.5 2.9l.6-4.8l.5-3.7l.6 7.1l.5-2.3l.6 1.4l.5-1.6l.6 .1l.5-4.3l.6 5.6l.5-3.8l.6 3.9l.5-5.8l.6 7l.5-3.1l.6-4.9l.5 5.5l.6-.1l.5 0l.6-2.8l.5 7.6l.6-6.2l.5 3.3l.6-7.9l.5 7l.6-.3l.5-1.2l.6 2.8l.5-4.1l.6 2.3l.5-1.2l.6 .8l.5-2.9l.6 3.7l.5-.3l.6-.6l.5 0l.6-1.6l.5-.5l.6 .9l.5 1.3l.6-3.6l.5 2.5l.6 3.7l.5-1.9l.6-3.8l.5 4.9l.6-6.6l.5 3.3l.6 3l.5-1.1l.6-.7l.5-3.1l.6-1.4l.5 4.8l.6-.6l.5 3.1l.6-5.1l.5-1.2l.6 1.2l.5-2.9l.6 3.2l.5 .6l.6-.3l.5 4.4l.6 .1l.5-4.9l.6-.6l.5 4.1l.6-.5l.5-5.2l.6 1.1l.5-.1l.6-1.2l.5 1.6l.6-1.6l.5 4.5l.6-.7l.5-5l.6 2.4l.5 0l.6 4.5l.5-4.7l.6 3.4l.5 1.6l.6-5.7l.5 3.1l.6-1l.5 1.7l.6-5.2l.5 2.2l.6-3l.5 5.3l.6-6.1l.5 4.5l.6-3.8l.5 1.7l.6-.2l.5 1.9l.6 1l.5 1.2l.6 .4l.5-3.1l.6-2.7l.5 5.2l.6-5.7l.5 2.7l.6-1.7l.5 0l.6 1.7l.5-3.1l.6 2.2l.5-.2l.6 2.5l.5 0l.6-.9l.5-1.8l.6 3.6l.5-1.8l.6-5.3l.5 3.4l.6 .2l.5-3.1l.6 2.3l.5-1.5l.6-1.6l.5 1.9l.6-1.8l.5-1.7l.6 2.5l.5-4.6l.6 6.4l.5-3.8l.6 .6l.5 1.6l.6-.5l.5-3.3l.6 1l.5 .9l.6 .5l.5-5.5l.6 2l.5-3.7l.6-.1l.5 1.2l.6-.8l.5-2.6l.6-.2l.5 1.3l.6-3.7l.5 3l.6-3.7l.5 5.3l.6-3.4l.5 .7l.6-3.2l.5 2.8l.6-2l.5-.1l.6-2.2l.5 .4l.6-2.4l.5 .8l.6-2.9l.5-.8l.6 .2l.5-1l.6-1.3l.5-2.6l.6 .3l.5 1.8l.6-2.8l.5-.5l.6-2.9l.5 3.4l.6-4.6l.5 .8l.6-2.2l.5 1.9l.6-7.2l.5-2l.6 3l.5-5.8l.6 3l.5-.7l.6 .1l.5 1.2l.6-5.5l.5 3.4l.6 .7l.5 0l.6-7l.5 .9l.6 4.4l.5-7.3l.6 4.3l.5-2.3l.6 0l.5-5.6l.6 0l.5 .8l.6 2.9l.5 0l.6-4l.5 2.1l.6-.7l.5-2.8l.6-.5l.5-2.1l.6 1.8l.5 .8l.6 4.8l.5-.7l.6-2l.5 1.6l.6-2.2l.5-2.9l.6 6.4l.5 1.3l.6-2.5l.5 5.1l.6 .3l.5 0l.6-5.5l.5 5.2l.6 2.2l.5-2.6l.6 1.8l.5 4.1l.6 3.7l.5-1.7l.6-.3l.5-.7l.6-.2l.5 1.5l.6 3.8l.5-1l.6 5l.5-5.1l.6 1.3l.5 3.5l.6 1.6l.5 .7l.6-1.7l.5 1.7l.6 4.8l.5-2l.6 .7l.5 3.5l.6 .4l.5 .1l.6 4.7l.5-6.1l.6 4.9l.5-1.4l.6 4.4l.5-3.6l.6 4.4l.5-1.6l.6 7.3l.5-4.5l.6 5.1l.5-6l.6 .7l.5 2.8l.6-4.1l.5 2.4l.6 6.1l.5-.3l.6-2.4l.5 3.6l.6-.9l.5 .6l.6-2.7l.5 4.9l.6-3l.5 5.1l.6-5.2l.5 8.4l.6-6.8l.5-1.2l.6 .8l.5 3.7l.6 0l.5-2l.6 3.4l.5 2.8l.6-4.1l.5 1.5l.6 .2l.5-.1l.6-5.9l.5 7.3l.6-3.6l.5 .4l.6 2.3l.5-8.9l.6 7.8l.5-1.3l.6 3l.5-3.1l.6 2.1l.5-.7l.6-5.3l.5 2.4l.6-1.6l.5 1.3l.6-2l.5-1.6l.6 3l.5-.5l.6 1.7l.5 2.5l.6-4.7l.5 .2l.6 3.1l.5-.7l.6-6l.5 3.4l.6-3.5l.5 1.3l.6 .6l.5 .6l.6-.5l.5 1l.6 .1l.5 2.7l.6-1.9l.5-4.3l.6 5.3l.5-2.4l.6-3.5l.5 .4l.6 2.2l.5 .1l.6 .5l.5-4.2l.6 2.7l.5 5.4l.6-8.6l.5 1l.6 3.1l.5 .7l.6-1.9l.5 1.7l.6-.4l.5-1.6l.6 2l.5-.5l.6 1.6l.5 1l.6-3.4l.5 1.9l.6-2l.5 1.8l.6 1.3l.5 1.5l.6-3.2l.5 3.4l.6-1.4l.5-.2l.6 .3l.5-.6l.6 2.3l.5-3.4l.6 4.1l.5-2.1l.6 4.7l.5-4.2l.6 2.1l.5 1.1l.6 .3l.5 1.9l.6 .4l.5-3.8l.6-.5l.5 4.4l.6-2.1l.5-1l.6 .5l.5 2l.6 0l.5-6.5l.6 3.1l.5 .6l.6-.9l.5 4.9l.6 .3l.5-2.9l.6 3.6l.5-3.8l.6 4l.5-1.2l.6-1.2l.5 .9l.6-2.2l.5 3.7l.6-3.2l.5 2.2l.6-2.9l.5 .1l.6 2.1l.5 .2l.6 2.6l.5-3.2l.6 1.3l.5 .2l.6 3.7l.5-4l.6-2.8l.5-.7l.6 2.4l.5 1.1l.6-2.8l.5 .1l.6 .5l.5 2.1l.6 1.4l.5-2.8l.6-.2l.5 4.7l.6 1.2l.5-2.7l.6-2.4l.5 .1l.6 2.9l.5-5.4l.6 .4l.5 5.7l.6-5.2l.5 1.5l.6 6.4l.5-5.6l.6 4.2l.5-3.6l.6-1.7l.5 3.5l.6-1.1l.5 2.1l.6-5l.5 4.5l.6-.6l.5 1.4l.6-1.1l.5-2.7l.6 5.2l.5-.8l.6 .1l.5-.6l.6-.5l.5-2.1l.6-2.6l.5 .5l.6 3.2l.5-4.6l.6 3.7l.5 3.3l.6-3.9l.5 6.4l.6-7.9l.5 5.2l.6-5.8l.5 5.2l.6 3l.5-4.4l.6-2l.5 .3l.6 4.1l.5 .5l.6-1l.5-2l.6-1.2l.5 .6l.6-.5l.5-1.2l.6 6l.5 .5l.6 .2l.5 .9l.6-5.2l.5-2.7l.6 4.7l.5-1.1l.6-1.9l.5 3.6l.6-2l.5 2.5l.6-.5l.5-2.8l.6 1.9l.5-1.1l.6 2l.5-.9l.6-2l.5 3.1l.6-1.4l.5 .2l.6 .6l.5 4.7l.6-4l.5-1.3l.6-.9l.5-2.2l.6 3.6l.5 .1l.6-1.2l.5 2.9l.6-.7l.5 .6l.6-2l.5 3.9l.6-2l.5-2.6l.6 1.5l.5 2.2l.6-3.5l.5 4.1l.6-3.6l.5-3l.6 5.5l.5-2.6l.6 1.2l.5-.4l.6 2.6l.5-2.2l.6 1.8l.5-3.6l.6 2l.5-1.4l.6 1.3l.5 4.6l.6-6.2l.5 2.4l.6-1.5l.5 1.7l.6-2.7l.5 .6l.6-2.4l.5 6.2l.6-2.4l.5 .4l.6-3.3l.5 5.9l.6-.8l.5-3l.6 1.3l.5-1.1l.6 2.6l.5-6.5l.6 4.9l.5 .2l.6 1.2l.5-3.8l.6 .6l.5-.7l.6 4.2l.5-1.1l.6 1.4l.5-.5l.6-.3l.5-3.7l.6 2l.5 3.1l.6-1.9l.5-2.7l.6 .3l.5 .8l.6 .4l.5 .8l.6-.2l.5 .9l.6 1.2l.5-.9l.6-3.3l.5 6.2l.6-4.6l.5-.9l.6 3.5l.5 .6l.6-1.8l.5 1.6l.6-3l.5 0l.6-1.9l.5 4.2l.6-1.7l.5 2.9l.6-4l.5 2.9l.6-2.1l.5 3.1l.6-3.4l.5 2.7l.6-4.8l.5 1.1l.6-.3l.5 3l.6-6.2l.5 1.8l.6 2.6l.5-.6l.6-.1l.5 .8l.6-1.4l.5 1.7l.6 1.1l.5-4.4l.6 4.2l.5-4.1l.6-1.1l.5 2.2l.6-.2l.5 .7l.6-2.9l.5 1.9l.6-1l.5 3l.6-2l.5-1.4l.6-.9l.5 1.8l.6 3.6l.5-7l.6 1.8l.5 3.5l.6-.5l.5-2.4l.6 .1l.5-.7l.6-1l.5 1.1l.6 1.4l.5-.4l.6-3.6l.5 2.3l.6-.9l.5 3.4l.6-5l.5 .3l.6-.4l.5 9l.6-3.5l.5-3.7l.6 2.1l.5-5.2l.6 2.7l.5 4.6l.6-4.8l.5-2.3l.6 1.2l.5-.1l.6 .7l.5-.2l.6-.8l.5-2l.6 2.5l.5-.1l.6-3.1l.5 3.9l.6-1.6l.5 3.4l.6-2.5l.5-2.3l.6-.6l.5 4.7l.6-1.3l.5-1.3l.6 .4l.5-4.3l.6 4.4l.5-2.6l.6 0l.5 1.8l.6-1.1l.5-4l.6 3.7l.5-1.8l.6 2.2l.5-2.1l.6 .5l.5-3.2l.6-.1l.5-.9l.6 2.2l.5-2.6l.6 .7l.5 4l.6-2.6l.5 2.4l.6-6l.5-.7l.6 .3l.5 1.5l.6-3l.5 4.6l.6-5.6l.5 3.6l.6-4.7l.5-.2l.6 1.7l.5-1.1l.6-1l.5-.6l.6 .9l.5-2l.6 3.8l.5-2.4l.6-1l.5-3.2l.6 6.3l.5-5l.6-2.3l.5-.9l.6-3.3l.5 2.8l.6-2.9l.5 .6l.6 4.5l.5-3.2l.6-1.1l.5 4.2l.6-4.2l.5 4.6l.6-4l.5 1.2l.6-1.3l.5-.2l.6 1.4l.5 2.1l.6-2.1l.5-1.7l.6-1.1l.5 5.2l.6-3.1l.5-.4l.6 2.8l.5 .3l.6 .4l.5-1.8l.6-2l.5 4.4l.6-.7l.5 .2l.6-1.2l.5 2.7l.6-.5l.5 .6l.6 1.9l.5-2.2l.6 .2l.5 .5l.6-1.7l.5 2.5l.6 2.8l.5 .3l.6-1.7l.5-.5l.6 3.4l.5 0l.6 .9l.5 2.8l.6-2.1l.5 2.8l.6-.6l.5 1.5l.6-2l.5 1.7l.6 1.2l.5-.2l.6 .8l.5-.1l.6 3.8l.5-6.2l.6 5.2l.5-.9l.6-1.8l.5 1l.6-1.2l.5 3.6l.6 .4l.5-.3l.6 2.1l.5-5.2l.6 .8l.5 1.5l.6 2.1l.5-.3l.6-2.3l.5 1.9l.6 1.3l.5-3.4l.6 3.4l.5 .7l.6 .4l.5 0l.6-2l.5-2.8l.6 1.3l.5 .8l.6 1.2l.5 1.6l.6-1l.5 .5l.6 1.8l.5-4.6l.6 3l.5 .7l.6 1l.5 1.5l.6-1.8l.5-3.2l.6 2.6l.5-2.2l.6 2l.5-1.6l.6 .1l.5 1.3l.6-1.4l.5 1.1l.6-.3l.5 .9l.6-1.7l.5-.9l.6-1l.5 3.4l.6 .2l.5-2.6l.6-1.2l.5 3.8l.6-1l.5 1.1l.6-1.2l.5 1.8l.6-1.3l.5-.8l.6 1.6l.5-3.2l.6 1.5l.5 .2l.6-.6l.5 .9l.6-1.2l.5-1.9l.6 5.3l.5-2.9l.6-.4l.5-1.7l.6 2.1l.5-.4l.6-1.8l.5 3.7l.6-.3l.5-4.1l.6 3.8l.5-2.2l.6 2.2l.5-.3l.6 .7l.5-.6l.6 1.4l.5-2.6l.6 .1l.5 .2l.6-.1l.5 3.9l.6-2.7l.5 1.8l.6-1.3l.5-.3l.6 1.7l.5-2l.6 2.1l.5 1.1l.6-1.4l.5 .3l.6-.5l.5 1.8l.6 .6l.5 .4l.6-1.8l.5 .9l.6-1l.5 2l.6 .7l.5-.6l.6 0l.5 .9l.6 .1l.5 .4l.6-1.4l.5 .1l.6 .6l.5-.4l.6 1.9l.5 2.5l.6-2.5l.5-2.3l.6 1.3l.5-.2l.6 2.2l.5-.3l.6 2.3l.5-2.2l.6-.2l.5 2l.6-2.9l.5 1.3l.6 1.8l.5-1.2l.6 .4l.5-1.8l.6-.8l.5 1.8l.6 1.9l.5-2l.6-.7l.5-.5l.6 4.8l.5-4.7l.6 1.4l.5-.7l.6 2.7l.5-3.2l.6 .4l.5 2.3l.6-2.4l.5 3l.6 1l.5-1.4l.6-3.6l.5 2.7l.6 .6l.5 2.2l.6 .4l.5-.7l.6-1.3l.5-.3l.6 .2l.5-.7l.6 .3l.5-.1l.6 .8l.5 1.9l.6-3.6l.5 4.5l.6-1.7l.5 .4l.6-1.2l.5 0l.6 1.8l.5-2.2l.6-.7l.5 1.3l.6-.7l.5 2.7l.6-1.6l.5 .6l.6-.6l.5 0l.6 1.6l.5-1.1l.6 1.7l.5-4.6l.6 3.2l.5 .7l.6-1.3l.5-2.4l.6 2.5l.5-.3l.6 2.3l.5-.2l.6-.1l.5-1.1l.6 .2l.5-.1l.6 1.3l.5-1.4l.6 .9l.5 .3l.6-1.3l.5 .4l.6-1.1l.5-.6l.6 .7l.5-.2l.6-1.1l.5 2.4l.6 1l.5 .1l.6 .8l.5-2.4l.6 3.4l.5-3.5l.6 .7l.5 1.6l.6-4.1l.5 2.8l.6 0l.5 2.4l.6-3.8l.5 1.1l.6-3.6l.5 3.3l.6-2.2l.5 .4l.6 2.7l.5-1.8l.6-1l.5 2.8l.6-.8l.5-.8l.6-1.6l.5 1.1l.6-.8l.5 1.4l.6-.2l.5 .3l.6-.7l.5 .5l.6 1.6l.5-2l.6 1.9l.5-.1l.6-.1l.5-3.5l.6 3.5l.5-.9l.6 .4l.5-1l.6 0l.5-1.2l.6-.2l.5 2.1l.6-1.7l.5 .5l.6 2l.5 .5l.6-2l.5-2.6l.6 3.2l.5 .8l.6-1.2l.5-.6l.6-1.1l.5 1.8l.6 3.6l.5-3l.6-1.3l.5-.9l.6 1.9l.5-2.6l.6 1.2l.5 .4l.6-.1l.5 .9l.6-.6l.5-1.7l.6-1.2l.5 3l.6-3.9l.5 1.7l.6 4.8l.5-3.9l.6 3l.5-2.9l.6 1.4l.5 .4l.6 .6l.5-2l.6-1.2l.5 1.5l.6-2.1l.5 0l.6 3.4l.5-2.6l.6 2.9l.5-.1l.6-2.8l.5 .5l.6 .3l.5 1.7l.6-1.4l.5 1.6l.6-1.7l.5 1.6l.6-1.8l.5 2.1l.6-.7l.5 .6l.6-.5l.5-3.7l.6 4.9l.5-2.5l.6-2.2l.5 1.1l.6-.5l.5 2.2l.6-1.5l.5 .5l.6 1.3l.5-3.5l.6 0l.5 2.2l.6-2.4l.5 3.2l.6-2.8l.5 .2l.6 2.4l.5 1l.6-2.3l.5-.6l.6-1.4l.5 1.4l.6-.2l.5-1l.6 .8l.5 1.9l.6-1.1l.5-3.8l.6 5.8l.5-.8l.6-3.4l.5 3.4l.6-3.5l.5 2.4l.6-.6l.5-1.6l.6 1.7l.5-.4l.6 0l.5-2.1l.6 2.7l.5-1.5l.6 2.2l.5-.8l.6-.4l.5-2.5l.6 4.1l.5-2.3l.6-.7l.5-.8l.6 .6l.5 1.5l.6-4.5l.5 3.3l.6-2.5l.5 .4l.6 1.8l.5-.1l.6-1.2l.5 .7l.6 1.5l.5-2.1l.6-1.8l.5 .9l.6-.1l.5 2.3l.6-2.6l.5-2l.6 .3l.5 3.4l.6-1.1l.5-2.5l.6-.6l.5 2.9l.6-3l.5 1.2l.6 1.2l.5-.4l.6-2.5l.5 1.9l.6-3.3l.5 2.3l.6-1.4l.5-2l.6 4.1l.5-2.3l.6 .6l.5-1.5l.6 4.4l.5-2l.6-2.8l.5 2.9l.6-1.8l.5 .8l.6-5.4l.5 3l.6-2.2l.5 1.1l.6-.5l.5 .6l.6-3.4l.5 2.1l.6-1.7l.5 3.2l.6-1.2l.5 .3l.6 .3l.5-.5l.6-2.1l.5 .9l.6-2.9l.5 1.8l.6 0l.5 0l.6 .7l.5-.7l.6 2.3l.5-1.2l.6-1.4l.5-.6l.6-.5l.5 2.3l.6-2.9l.5 2.2l.6-2.9l.5 1.3l.6-1.8l.5 2.3l.6-.5l.5-1.1l.6-1.6l.5-1.7l.6 2.9l.5 2.1l.6-2.8l.5 1.6l.6-1.7l.5 2.1l.6-2.2l.5 3.1l.6-3.1l.5 .9l.6 2.8l.5-2l.6-.2l.5-.2l.6 .9l.5-1.9l.6 0l.5 3.8l.6-1.9l.5 .5l.6-.1l.5 .4l.6 1.7l.5-1.2l.6-.2l.5-.4l.6 1.4l.5 1.5l.6-2l.5 .4l.6 2.5l.5-1.1l.6 1.5l.5-2.7l.6 .7l.5-.2l.6 2.3l.5-2.5l.6 3.1l.5-.6l.6 .9l.5 .7l.6 .3l.5-4.4l.6 4.2l.5 .9l.6-2l.5 1.6l.6 0l.5 .3l.6-2.5l.5 3.5l.6-3.6l.5 2.7l.6 .3l.5 0l.6-.1l.5 1.6l.6-1l.5-.3l.6 1.2l.5-3.6l.6 1.5l.5-1l.6-.1l.5 3.2l.6-1.1l.5 2l.6-1.2l.5-5.1l.6 3.7l.5-.2l.6-.2l.5 3.3l.6-3.1l.5 2.3l.6-1.7l.5 0l.6-.7l.5 3.3l.6-2.5l.5-1.4l.6 1.6l.5-2.3l.6 3.9l.5-3.6l.6 .7l.5 1.2l.6-1.8l.5 3.4l.6-2.2l.5 .1l.6-.1l.5-.2l.6 .1l.5 2.5l.6-3.1l.5-1.2l.6 3.1l.5-.5l.6-2l.5-.1l.6 2.3l.5-1.6l.6-.4l.5-.2l.6-.8l.5 1.7l.6-2.8l.5 .2l.6-1l.5 1.7l.6-.8l.5 1.9l.6-1.5l.5 .8l.6 1.1l.5-.8l.6-1l.5 .2l.6-.3l.5 1.1l.6 .1l.5 1.8l.6-.8l.5-.5l.6-1.3l.5 1.3l.6-1.9l.5-1.1l.6 3.4l.5 .5l.6-5.6l.5 6l.6-3.7l.5 .9l.6 2.2l.5-.9l.6 .3l.5-1.3l.6 3.4l.5-1.9l.6 .1l.5 2.7l.6-2.2l.5 1l.6 .4l.5-.9l.6-1.8l.5 2.9l.6-1.7l.5 3l.6-.2l.5-5.7l.6 7.3l.5-4.5l.6 2.3l.5 .4l.6-.5l.5 .8l.6 1.5" stroke="#808000" stroke-width="10"/>
<path d="M333.8 374.7l.5-.4l.5-.1l.5-.4l.5 .9l.5 .5l.5-.2l.5 .2l.5 .2l.5-.5l.5 1.1l.5-1l.5 .5l.5 .8l.5-.8l.5 .1l.5-.1l.5 .3l.5-.7l.5 .5l.5 .8l.5-.4l.5-.1l.5 .2l.5 .1l.5 0l.5 .1l.5-.6l.5 .7l.5-.3l.5 .5l.5-.2l.5-.2l.5 .3l.5-.3l.5 .7l.5-.3l.5 .3l.5-.5l.5 .8l.5-.5l.5 .5l.5-.1l.5-.5l.5 .5l.5-.3l.5 .4l.5 .3l.5-.2l.5 .2l.5-.7l.5 .5l.5 .1l.5 .2l.5-.4l.5 .3l.5 0l.5-.5l.5 .2l.5 .5l.5-.5l.5 0l.5 .7l.5-.2l.5-.1l.5 .2l.5-.2l.5 0l.5 .1l.5 .3l.5 .3l.5-.5l.5 .1l.5 0l.5-.3l.5 .5l.5 .2l.5-.5l.5 .6l.5-.4l.5 .5l.5 .1l.5-.5l.5-.4l.5 .5l.5-.3l.5 0l.5 .4l.5 .5l.5-.4l.5 0l.5-.5l.5 .4l.5-.2l.5 .6l.5-.3l.5 .2l.5 0l.5 0l.5 .3l.5-.1l.5-.2l.5 .2l.5 .1l.5 .3l.5-.4l.5 .5l.5-.6l.5 .1l.5-.4l.5 .8l.5-.6l.5 .1l.5 .5l.5-.4l.5 0l.5 .5l.5-.3l.5 .4l.5-.4l.5 .4l.5 .1l.5-.3l.5 .5l.5-.6l.5 .1l.5 .1l.5 .3l.5-.4l.5 0l.5 .2l.5 .3l.5-.4l.5-.3l.5 .4l.5 .2l.5-.3l.5 .2l.5-.5l.5 .5l.5 .1l.5 .2l.5-.1l.5 .1l.5-.5l.5 .6l.5-.7l.5 .3l.5 .5l.5 0l.5-.8l.5 .7l.5-.2l.5-.1l.5 .3l.5 0l.5 .4l.5-.9l.5 .4l.5 .1l.5-.5l.5 .9l.5 .2l.5-.7l.5 .3l.5-.2l.5 .2l.5-.2l.5 .4l.5-.6l.5 .8l.5-.3l.5 .7l.5-1.2l.5 .4l.5-.3l.5 .4l.5 .2l.5-.4l.5-.2l.5-.1l.5 .7l.5 .3l.5 0l.5-.4l.5-.2l.5 .2l.5-.4l.5 0l.5 .8l.5-.4l.5 .2l.5-.1l.5 .5l.5 0l.5-.6l.5 .1l.5-.1l.5 .6l.5 0l.5-.4l.5 .8l.5-.7l.5-.3l.5-.3l.5 .6l.5 .2l.5-.3l.5 .3l.5 .3l.5-.4l.5 .3l.5 .2l.5-.3l.5-.3l.5 .3l.5 .1l.5 .4l.5-.7l.5-.3l.5 .5l.5 .1l.5-.3l.5 .4l.5-.1l.5 .3l.5-.6l.5 0l.5 .2l.5-.1l.5 .6l.5-.2l.5-.2l.5 .5l.5-.3l.5 .1l.5 0l.5-.3l.5 0l.5 .1l.5-.3l.5 .2l.5 .4l.5-.2l.5-.3l.5 1l.5-1l.5 .5l.5 0l.5 .2l.5-.6l.5 .2l.5 0l.5 .4l.5-.2l.5 0l.5 0l.5 .5l.5-.4l.5 .1l.5-.5l.5 .5l.5-.6l.5 .7l.5-.3l.5-.3l.5 0l.5 .3l.5 .1l.5-.2l.5 .1l.5 0l.5-.1l.5 .1l.5 .2l.5 .3l.5-.2l.5-.3l.5 .7l.5-.2l.5-.4l.5 .4l.5-.4l.5-.1l.5 0l.5 .7l.5-.4l.5 .1l.5-.1l.5-.1l.5 .3l.5 0l.5 .4l.5-.8l.5 .7l.5-.2l.5-.7l.5 .8l.5 .2l.5-.1l.5-.3l.5 0l.5-.6l.5 .7l.5-.1l.5-.3l.5 .4l.5-.3l.5 .9l.5-1l.5 .1l.5-.4l.5 .6l.5 .1l.5 0l.5-.2l.5 .5l.5-.2l.5 .3l.5-.4l.5-.5l.5 .5l.5-.2l.5 .5l.5-.4l.5 .1l.5 .1l.5-.4l.5 .3l.5 .4l.5-.4l.5 .1l.5 .1l.5-.2l.5 .1l.5 .2l.5-.2l.5 .1l.5 0l.5-.3l.5 0l.5 1l.5-.2l.5-.4l.5 .3l.5 0l.5 0l.5-.4l.5-.3l.5 .1l.5 .3l.5 .5l.5 .1l.5-.6l.5 0l.5 .5l.5 .3l.5-.9l.5 .4l.5-.1l.5-.1l.5 0l.5 0l.5 .1l.5-.4l.5 .4l.5 .3l.5 0l.5 0l.5-.1l.5-.1l.5 .6l.5-.7l.5 .2l.5 .3l.5-.4l.5-.3l.5 .2l.5 0l.5 .1l.5-.1l.5 .5l.5-.1l.5 0l.5-.3l.5 .4l.5 0l.5 .4l.5-.8l.5 .1l.5 .5l.5-.7l.5 .4l.5 0l.5-.1l.5-.3l.5 .3l.5-.4l.5 .8l.5-.5l.5 .2l.5 0l.5 0l.5 0l.5 .1l.5-.2l.5 .1l.5-.3l.5 0l.5 .1l.5-.1l.5-.1l.5 .3l.5 .4l.5-.1l.5-.2l.5 .2l.5 0l.5 .7l.5-1.3l.5 .6l.5-.5l.5 .8l.5-.4l.5 .2l.5-.1l.5 .2l.5-1.1l.5 .5l.5 .4l.5-.4l.5 .6l.5 .2l.5-.8l.5 .3l.5 .3l.5 .4l.5-.2l.5-.1l.5-.5l.5 .3l.5 0l.5-.2l.5 .3l.5-.2l.5 0l.5 .8l.5-.7l.5 .6l.5-.7l.5 .1l.5-.3l.5 .2l.5 .6l.5-.4l.5-.6l.5 1l.5-.7l.5 .2l.5 .1l.5-.6l.5 1.1l.5-.1l.5-.5l.5 .2l.5-.2l.5-.1l.5 .2l.5-.4l.5 .3l.5 0l.5 .7l.5-1l.5 .8l.5-.1l.5-.2l.5-.2l.5 .7l.5-.1l.5-.4l.5-.1l.5 .1l.5 .5l.5-.8l.5 .3l.5 .3l.5-.7l.5 .4l.5 .3l.5-.4l.5 .1l.5-.4l.5 .5l.5-.4l.5 .2l.5 .2l.5-.2l.5 .4l.5 0l.5-.1l.5 .1l.5-.3l.5-.6l.5 .9l.5 0l.5-.4l.5-.1l.5 .6l.5-.5l.5 .1l.5-.1l.5 .9l.5-.9l.5-.6l.5 .7l.5-.2l.5-.3l.5 .6l.5-.2l.5 .4l.5-.3l.5 .4l.5 0l.5-.3l.5 .2l.5 .3l.5-.3l.5-.7l.5 .5l.5 0l.5 .3l.5-.4l.5 .4l.5-.4l.5 .1l.5-.1l.5 .1l.5-.1l.5 .2l.5-.4l.5-.1l.5 .3l.5 .1l.5-.2l.5 .3l.5 0l.5 .4l.5-1l.5 1l.5-1.2l.5 .1l.5 .6l.5-.3l.5 .2l.5-.1l.5-.3l.5 0l.5 .3l.5 .2l.5 .1l.5-.1l.5-.2l.5 .5l.5-1l.5 .6l.5 .4l.5 .1l.5-.1l.5 0l.5-.1l.5-.2l.5-.7l.5 .5l.5 .1l.5 .5l.5-.6l.5 0l.5 .3l.5-.5l.5 .3l.5 .2l.5-.3l.5 .1l.5-.5l.5 .2l.5 .3l.5 .4l.5-.5l.5-.1l.5 0l.5 .4l.5-.6l.5 .5l.5-.2l.5 .1l.5-.2l.5 .3l.5 .3l.5-.5l.5 0l.5-.6l.5 .9l.5-.4l.5 .3l.5 0l.5-.3l.5 0l.5-.2l.5 1l.5-.3l.5 0l.5 .1l.5 0l.5-.1l.5 0l.5 .5l.5-1.3l.5 .6l.5-.3l.5 .3l.5-.8l.5 .4l.5 .6l.5-.6l.5 .5l.5-.4l.5 .2l.5-.4l.5 .3l.5-.3l.5 .6l.5-.7l.5 .6l.5-.2l.5 .1l.5 .5l.5-.5l.5-.2l.5 .2l.5 .3l.5-.4l.5 .7l.5-.5l.5-.2l.5-.1l.5 .2l.5 .2l.5 .2l.5-.3l.5-.2l.5 .1l.5-.6l.5 1l.5-.1l.5-.3l.5 .3l.5-.5l.5 .8l.5-.6l.5-.1l.5 .8l.5-.9l.5 .4l.5-.3l.5 0l.5 .1l.5-.1l.5 .6l.5-.1l.5-.5l.5 .9l.5-.7l.5 0l.5 .1l.5-.4l.5 .7l.5-.7l.5-.1l.5 .7l.5-.6l.5 .2l.5-.3l.5 .2l.5 .2l.5-.7l.5 .6l.5-.2l.5 .7l.5 .2l.5-.5l.5 0l.5 .2l.5 0l.5-.8l.5 0l.5 .3l.5-.3l.5 .3l.5 .2l.5-.3l.5 .4l.5 .2l.5-.4l.5 .1l.5-.1l.5 0l.5-.2l.5-.1l.5 .5l.5 .1l.5-.3l.5 0l.5-.4l.5 .3l.5 .2l.5-.1l.5 0l.5-.3l.5-.1l.5 .3l.5 .5l.5-.5l.5-.4l.5 .3l.5 .1l.5 .4l.5 0l.5-.6l.5 0l.5 .2l.5 .1l.5-.3l.5 .5l.5-.4l.5 .2l.5-.1l.5 .2l.5-.2l.5 .1l.5 .3l.5-.3l.5 .4l.5-.8l.5 .3l.5-.3l.5-.1l.5 .4l.5 .6l.5-.5l.5 .2l.5-.9l.5 .7l.5-.4l.5 .4l.5 .2l.5-.4l.5 .4l.5-.5l.5 .2l.5-.2l.5 .2l.5-.1l.5-.6l.5 .6l.5-.1l.5 .7l.5-1.3l.5 .8l.5 .2l.5 .3l.5-.2l.5-.4l.5 .5l.5-.5l.5 0l.5 0l.5-.1l.5 .6l.5-.9l.5 0l.5 .7l.5-.1l.5 .1l.5-.3l.5 .2l.5-.2l.5-.1l.5 0l.5 .2l.5-.1l.5-.1l.5 .6l.5-.4l.5-.2l.5-.3l.5 .4l.5-.5l.5 .2l.5 0l.5 0l.5 .3l.5-1l.5 1.4l.5-.3l.5-.3l.5 0l.5 .4l.5-.3l.5 .6l.5-.6l.5-.2l.5-.2l.5 .4l.5 .4l.5-.7l.5 .7l.5-.1l.5-.4l.5 .5l.5-.9l.5-.1l.5 .7l.5 .1l.5-.1l.5-.1l.5-.4l.5 .6l.5-.3l.5 .4l.5-.2l.5-.4l.5 .5l.5 .1l.5 0l.5-.5l.5-.1l.5 .5l.5-.2l.5 0l.5 .3l.5 0l.5-.1l.5-.3l.5 .5l.5-.7l.5 .3l.5 .1l.5-.5l.5 .2l.5 .4l.5-.2l.5-.3l.5 .8l.5-.5l.5 0l.5 .5l.5-1l.5 .3l.5-.1l.5 .7l.5-.7l.5 1l.5-.6l.5 0l.5 .2l.5-.4l.5-.2l.5 .1l.5 .2l.5-.3l.5 .3l.5-.2l.5 .1l.5 0l.5 .5l.5 .2l.5-.1l.5-.6l.5-.1l.5 .5l.5 .1l.5-.1l.5-.5l.5 .3l.5-.2l.5 .4l.5 0l.5-.2l.5-.2l.5 .6l.5-.5l.5 .2l.5-.1l.5 .1l.5 .1l.5-.4l.5-.1l.5 .4l.5-1.2l.5 1l.5-.2l.5 .4l.5-.1l.5-.2l.5-.3l.5 .3l.5 0l.5 .1l.5 0l.5-.3l.5 .4l.5-.3l.5 .3l.5-.1l.5 .3l.5-.4l.5 .5l.5-.6l.5-.1l.5 .4l.5-.5l.5 .4l.5 0l.5 0l.5 0l.5 0l.5 .3l.5-.4l.5-.6l.5 .5l.5 .3l.5 .1l.5-.1l.5-.2l.5-.3l.5 .8l.5-.7l.5-.1l.5-.4l.5 1.2l.5-.5l.5-.6l.5 .8l.5 0l.5-.7l.5 .7l.5-.2l.5 .2l.5 .2l.5-.6l.5 .8l.5-.7l.5-.1l.5 .5l.5-.6l.5 .1l.5 .4l.5-.5l.5-.2l.5 .5l.5-.1l.5-.2l.5 .5l.5-.7l.5 .6l.5-.5l.5 .4l.5-.5l.5 .6l.5-.3l.5-.1l.5 .2l.5-.1l.5 .3l.5-.5l.5 .4l.5-.3l.5-.1l.5 .1l.5-.2l.5 .4l.5-.1l.5 .1l.5-.6l.5 .4l.5 .6l.5-.1l.5-.4l.5 0l.5 .1l.5 .2l.5 .1l.5-.3l.5 0l.5-.1l.5 .1l.5 .4l.5-.7l.5 .4l.5-.6l.5 .1l.5-.2l.5 .3l.5 .6l.5 .1l.5-.3l.5-.2l.5 .3l.5-.6l.5-.2l.5 .2l.5 .2l.5-.5l.5 .3l.5 .7l.5-.5l.5-.1l.5-.1l.5 .4l.5 0l.5-.2l.5 0l.5-.6l.5 .2l.5 .3l.5-.1l.5 .1l.5 0l.5 .6l.5-.2l.5-.6l.5 .5l.5-.1l.5-.1l.5-.1l.5 .2l.5 .4l.5-.7l.5 .1l.5 0l.5-.4l.5 .5l.5-.3l.5 .3l.5 .1l.5 .4l.5-.6l.5 0l.5 .3l.5 .3l.5-.5l.5 .1l.5 0l.5 0l.5-.3l.5-.1l.5 0l.5 .1l.5 .2l.5-.3l.5 0l.5 .2l.5 0l.5 0l.5-.4l.5 1l.5-.7l.5 0l.5-.1l.5 .3l.5 .2l.5-.3l.5 0l.5-.1l.5 .7l.5-.4l.5-.3l.5 .1l.5 .3l.5-.3l.5 .1l.5-.1l.5-.1l.5 .2l.5 .3l.5-.3l.5-.2l.5-.2l.5 .2l.5-.1l.5-.1l.5 .4l.5-.1l.5 .3l.5-.2l.5-.3l.5 .4l.5-.1l.5 .2l.5-.6l.5 .1l.5 .2l.5 .4l.5-.3l.5-.5l.5 .1l.5 .4l.5-.6l.5 .2l.5 .2l.5-.1l.5 .2l.5 .1l.5-.1l.5-.5l.5 .8l.5-.1l.5-.5l.5 .1l.5-.3l.5 .8l.5-.6l.5 .3l.5 0l.5 .2l.5-.3l.5-.1l.5 .2l.5 .1l.5-.4l.5 .1l.5-.4l.5 .9l.5-.6l.5 .4l.5 0l.5 0l.5 0l.5-.5l.5 .3l.5-.3l.5 .2l.5-.2l.5 .9l.5-.6l.5 .2l.5-.5l.5 .7l.5-.5l.5 0l.5-.1l.5-.4l.5-.1l.5 .6l.5-.3l.5 .2l.5 .6l.5-.6l.5 .6l.5-.5l.5-.4l.5 .5l.5 .2l.5-.1l.5-.5l.5-.1l.5 .6l.5 .2l.5 0l.5-.6l.5 0l.5 .2l.5 .2l.5-.2l.5 0l.5-.1l.5-.8l.5 .4l.5 .4l.5-.5l.5 1l.5-.8l.5 .4l.5 .1l.5 0l.5-.6l.5 .2l.5 .5l.5-.4l.5 .2l.5-1l.5 .9l.5-.1l.5-.1l.5-.5l.5 .3l.5 .1l.5 0l.5-.2l.5 .6l.5 0l.5-.4l.5 .5l.5-.8l.5 .4l.5 .4l.5-.3l.5-.2l.5 .2l.5-.2l.5-.1l.5-.1l.5 .2l.5-.1l.5 .2l.5-.4l.5 .3l.5 .2l.5-.4l.5 .6l.5-.7l.5 0l.5 0l.5-.2l.5-.1l.5 .1l.5 .3l.5-.2l.5 .7l.5-.5l.5-.1l.5-.1l.5 .3l.5-.1l.5 .1l.5 .1l.5 .2l.5-.7l.5 .5l.5-.2l.5 0l.5-.3l.5 .4l.5 0l.5-.1l.5-.4l.5 .4l.5-.5l.5-.1l.5 .6l.5-.3l.5-.4l.5 .2l.5 .2l.5 .3l.5-.4l.5-.2l.5-.1l.5-.1l.5 .3l.5-.3l.5 .4l.5-.5l.5 .4l.5-.5l.5-.1l.5-.3l.5-.4l.5-.1l.5-1.4l.5-1l.5-1.2l.5-1.5l.5-2.5l.5-1.9l.5-3.7l.5-3.3l.5-3.5l.5-4l.5-4.4l.5-3.6l.5-3.6l.5-4.1l.5-3l.5-3.1l.5-2.8l.5-5.8l.5-9.1l.5-16.6l.5-25.5l.5-32.8l.5-26.8l.5-2l.5 19.2l.5 20.5l.5 19l.5 22.6l.5 25.4l.5 20.1l.5 14.6l.5 9.8l.5 5.8l.5 2.8l.5 1.8l.5 2.4l.5 1l.5 .5l.5 1.3l.5 .5l.5-.1l.5 .5l.5 .6l.5 .2l.5 .5l.5-.1l.5 .6l.5-.5l.5 0l.5 .2l.5 0l.5 .3l.5-.1l.5 .6l.5 .2l.5 .2l.5-.6l.5-.2l.5 .3l.5 .2l.5-.1l.5 .3l.5 .1l.5 0l.5-.4l.5 .6l.5-.5l.5-.4l.5 .7l.5 .4l.5-.4l.5-.4l.5 .4l.5 .4l.5-.2l.5-.1l.5-.3l.5 .4l.5-.2l.5 .6l.5-.3l.5 .2l.5-.7l.5 .5l.5 .2l.5 .3l.5-.1l.5-.6l.5 1.1l.5-.9l.5 0l.5 0l.5-.2l.5 .2l.5 0l.5 0l.5 0l.5 .1l.5 .3l.5-.4l.5-.1l.5 .5l.5-.2l.5 .3l.5-.5l.5 .2l.5-.1l.5-.2l.5 .3l.5 .1l.5 .1l.5-.4l.5 .6l.5 .1l.5-.2l.5-.2l.5-.1l.5 .5l.5-.5l.5 .6l.5-.9l.5 0l.5 .7l.5-.5l.5 .7l.5-.4l.5 0l.5 .2l.5 .2l.5 0l.5-.3l.5 0l.5 .3l.5-.4l.5-.1l.5 .1l.5 1.2l.5-.5l.5-.3l.5-.2l.5 .2l.5-.6l.5 .4l.5 .4l.5-.2l.5-.4l.5 .3l.5 0l.5 .5l.5-.2l.5-.2l.5 .6l.5-.7l.5 .5l.5-.2l.5-.2l.5-.1l.5 .3l.5 .3l.5-.9l.5 .5l.5 .3l.5-.5l.5 0l.5 .7l.5-.5l.5 0l.5 .2l.5 0l.5 .1l.5 0l.5 .2l.5-.3l.5 .2l.5-.5l.5 .3l.5-.2l.5 .6l.5-.3l.5 .2l.5-.4l.5-.2l.5 .5l.5-.2l.5-.4l.5 .3l.5-.1l.5 .6l.5-.4l.5 .3l.5-.1l.5 .2l.5-.2l.5 0l.5 0l.5-.5l.5 .4l.5-.3l.5 0l.5 .3l.5-.5l.5 .5l.5 .3l.5-.3l.5 .2l.5-.5l.5 .3l.5-.7l.5 .4l.5 .1l.5 .7l.5 .1l.5-1.1l.5 .4l.5-.1l.5 .7l.5-.2l.5-.3l.5 .3l.5 .1l.5-.5l.5 .5l.5-.1l.5 0l.5-.7l.5 .5l.5-.6l.5 .7l.5-.3l.5 .6l.5 .1l.5-.9l.5 .9l.5-.6l.5 .4l.5-.2l.5-.1l.5 0l.5-.1l.5 .6l.5-.4l.5-.3l.5 .4l.5-.3l.5 .3l.5-.5l.5 .3l.5-.4l.5-.1l.5 .2l.5 0l.5-.5l.5-.4l.5 .3l.5-1.3l.5-1.4l.5 .1l.5-1.3l.5-1.4l.5-.4l.5-1.2l.5-1.6l.5-1.2l.5-.9l.5-.7l.5-1.5l.5-.2l.5-1.5l.5-2.1l.5-3.4l.5-6.9l.5-8.5l.5-8.9l.5-4.1l.5 5.6l.5 7.2l.5 4.8l.5 3.6l.5 4l.5 6.4l.5 5.7l.5 4.3l.5 2.2l.5 2l.5 1l.5 1.3l.5-.2l.5 .6l.5 .2l.5-.3l.5 .2l.5 .5l.5 .3l.5 .3l.5-.5l.5-.2l.5 .4l.5-.3l.5 .8l.5-.4l.5 .1l.5 .6l.5-.4l.5-.5l.5 .6l.5-.3l.5-.2l.5 .1l.5-.1l.5 .6l.5-.4l.5 .1l.5 .5l.5-.4l.5 0l.5 .2l.5-.2l.5 .2l.5-.1l.5 .3l.5-.3l.5-.2l.5 .2l.5-.5l.5 .6l.5 .3l.5 .3l.5-.4l.5 .2l.5-.9l.5 1l.5-.3l.5 .3l.5-.5l.5 .3l.5-.1l.5-.2l.5 .1l.5 .5l.5-.9l.5 .4l.5 .2l.5 .3l.5-.7l.5-.1l.5-.2l.5 .7l.5-.1l.5 0l.5 0l.5-.5l.5 .9l.5-.1l.5-.6l.5 .2l.5-.1l.5 .1l.5 .7l.5-.2l.5-.6l.5 .9l.5-.4l.5-.1l.5-.3l.5 0l.5 .2l.5 .9l.5-1.1l.5 .1l.5 .5l.5-.2l.5-.3l.5 1l.5-.8l.5-.1l.5 .1l.5 .2l.5 .1l.5 0l.5-.1l.5-.2l.5 .5l.5-.5l.5-.1l.5 .4l.5 .2l.5-.5l.5 0l.5 .1l.5-.2l.5 .1l.5 .4l.5-.1l.5-.9l.5 1.2l.5 0l.5-.7l.5 .7l.5-.8l.5 .8l.5-.5l.5 .3l.5-.1l.5 .1l.5-.5l.5 .8l.5-.2l.5-.2l.5 .3l.5-.3l.5 .6l.5-.2l.5 .2l.5-.8l.5 .3l.5-.6l.5 .6l.5-.3l.5 0l.5 .5l.5-.3l.5 .3l.5-.6l.5 .1l.5 .3l.5-.7l.5 .3l.5 .3l.5-.5l.5 .7l.5-.5l.5 .6l.5-.5l.5 .7l.5-1l.5 .9l.5-.8l.5 .9l.5-.4l.5-.6l.5 .8l.5-.4l.5 .1l.5 .1l.5 .3l.5-.4l.5 .3l.5-.5l.5 .2l.5 .3l.5 .2l.5-.3l.5-.1l.5 .2l.5 .1l.5-.5l.5 1.2l.5-1l.5-.3l.5 .4l.5 .2l.5-.2l.5-.1l.5 .1l.5 .2l.5-.3l.5-.1l.5 .3l.5 0l.5-.4l.5 1.1l.5-.4l.5 .2l.5-.2l.5-.7l.5 1l.5-1.1l.5 .2l.5 .4l.5-.3l.5 .5l.5 0l.5-.3l.5 .6l.5-1l.5 .6l.5 .1l.5 .4l.5-.3l.5-.8l.5 .7l.5-.3l.5 .2l.5 .1l.5 .2l.5-.5l.5 .3l.5 .2l.5-.1l.5 0l.5-.7l.5 .6l.5 .2l.5-.5l.5 .3l.5-.2l.5 .3l.5-.1l.5-.4l.5 .5l.5-.1l.5-.5l.5 .3l.5 0l.5-.3l.5 .7l.5-.5l.5 .2l.5-.6l.5 .6l.5-.4l.5 .5l.5-.2l.5 .4l.5 .2l.5-1l.5 .6l.5-.1l.5-.1l.5-.1l.5 .2l.5 .2l.5 .1l.5 .1l.5-.3l.5 .3l.5-.1l.5 .1l.5 0l.5-.1l.5 .1l.5-.5l.5-.4l.5 .3l.5 .5l.5-.1l.5-.2l.5 .5l.5-.1l.5 .3l.5-.9l.5 .2l.5 .3l.5 .2l.5 .1l.5-.3l.5 .4l.5-.1l.5-.3l.5 .3l.5-.3l.5 .1l.5-.5l.5 .1l.5 0l.5 .3l.5-.4l.5-.2l.5 .5l.5 .8l.5-.7l.5-.4l.5 .2l.5 .3l.5 .2l.5-.2l.5 .4l.5-.3l.5-.5l.5 .6l.5-.5l.5 .5l.5-.2l.5-.7l.5 0l.5 .5l.5 .2l.5 .2l.5-.1l.5 .3l.5-.2l.5-.3l.5-.3l.5 .8l.5-.1l.5-.1l.5-.5l.5 .6l.5-.9l.5 .7l.5-.1l.5 0l.5-.9l.5 1.5l.5-1l.5 .1l.5 .1l.5 0l.5-.4l.5 .8l.5-.3l.5 .1l.5-.5l.5 .6l.5-.1l.5 .4l.5-.6l.5-.4l.5 .6l.5 .1l.5 .3l.5-.2l.5-.4l.5 .2l.5-.3l.5 .5l.5 .7l.5-1.2l.5-.1l.5 0l.5 .3l.5 .3l.5-.3l.5-.4l.5 .6l.5 .1l.5 .2l.5-.2l.5-.7l.5 .8l.5-.4l.5-.3l.5 .4l.5 .1l.5 0l.5-.3l.5 .1l.5 .1l.5 .1l.5 .1l.5-.5l.5 .7l.5-.8l.5 .6l.5-.2l.5-.8l.5 .6l.5 .2l.5 .2l.5-.2l.5 .2l.5-.1l.5-.1l.5 .4l.5 .9l.5-1.3l.5 0l.5 .3l.5-.4l.5 .5l.5-.3l.5 .6l.5-.9l.5 .4l.5-.3l.5 .4l.5-.4l.5-.1l.5 .1l.5 .1l.5 .2l.5-.3l.5 .5l.5-.3l.5 0l.5 0l.5 .1l.5 .5l.5-.8l.5 .3l.5 .1l.5 0l.5-.3l.5-.5l.5 .9l.5 0l.5 .1l.5-.1l.5-.5l.5 .7l.5-.4l.5 .2l.5 .5l.5-.3l.5-.6l.5 .3l.5 .4l.5-.1l.5-.3l.5-.4l.5 .1l.5 .2l.5 .1l.5 .4l.5-.1l.5-.8l.5 .3l.5-.1l.5 .1l.5 .4l.5-.2l.5-.3l.5 .8l.5-.7l.5-.1l.5 .1l.5 .8l.5-.4l.5-.4l.5 .3l.5-.4l.5 .6l.5-.2l.5-.8l.5 .8l.5 .3l.5-.8l.5 .4l.5-.1l.5 .3l.5-.6l.5 .7l.5-.3l.5 .5l.5-.2l.5-.3l.5-.3l.5 .2l.5 .6l.5-.1l.5-.2l.5 0l.5-.2l.5-.1l.5 .1l.5 0l.5-.1l.5 .3l.5 .5l.5-1.2l.5 .8l.5-.2l.5-.4l.5 .5l.5 .6l.5-1.1l.5 .5l.5-.5l.5 .7l.5-.1l.5-.1l.5-.1l.5 .3l.5 0l.5-.6l.5-.1l.5 .4l.5 .3l.5-.3l.5 .6l.5-.5l.5-.2l.5 .3l.5-.5l.5 .1l.5 .1l.5 0l.5 .7l.5-.2l.5-.2l.5-.2l.5 .4l.5 .1l.5-.5l.5-.3l.5 .5l.5-.2l.5-.1l.5 .2l.5 .3l.5-.4l.5 .1l.5-.2l.5 0l.5-.1l.5 .5l.5-.2l.5-.1l.5 0l.5 .2l.5 .1l.5-.2l.5 .1l.5 .1l.5-.4l.5-.2l.5 1l.5-.4l.5 .2l.5-.7l.5 .4l.5 .3l.5 .1l.5-.3l.5 .2l.5-.3l.5-.4l.5 0l.5-.1l.5 .2l.5 .6l.5-.5l.5 .7l.5-.2l.5-.1l.5-.5l.5 .2l.5 .3l.5-.5l.5 .5l.5 .1l.5-.2l.5-.6l.5 .6l.5-.5l.5 .8l.5-.6l.5 0l.5 .2l.5-.2l.5 .4l.5-.1l.5 .4l.5-1l.5 .5l.5 .1l.5-.2l.5-.3l.5 0l.5 .5l.5-.3l.5-.4l.5 .2l.5 .4l.5 .1l.5-.1l.5 .2l.5-.2l.5 .1l.5-.5l.5 .2l.5 .4l.5-.1l.5 .1l.5 .1l.5-1l.5 .9l.5 0l.5-.2l.5 .1l.5-.5l.5 .6l.5 0l.5-.1l.5 .1l.5 .3l.5-.4l.5-.2l.5 .1l.5 .4l.5-.1l.5-.3l.5 0l.5 .1l.5-.4l.5 .1l.5 .4l.5-.1l.5-.2l.5 .1l.5-.1l.5 .5l.5-.5l.5 .2l.5-.2l.5-.2l.5-.4l.5 .5l.5 1l.5-1l.5 .4l.5-.1l.5 .3l.5-.6l.5-.2l.5-.2l.5 1l.5-.2l.5-.9l.5 .8l.5-.3l.5 .2l.5-.2l.5 .3l.5 .4l.5-.4l.5 .1l.5-.1l.5-.1l.5 0l.5 .3l.5 .2l.5-.2l.5-.2l.5 .2l.5 0l.5-.2l.5-.3l.5 .5l.5-.6l.5 .5l.5-.4l.5 0l.5 .2l.5-.2l.5 .2l.5 .1l.5-.1l.5 .2l.5 .2l.5-.3l.5-.1l.5 .2l.5 0l.5-.6l.5 .4l.5-.3l.5 .7l.5-.7l.5 .2l.5 .2l.5-.8l.5 .2l.5 .4l.5 .1l.5-.4l.5 .4l.5 .2l.5 0l.5 .3l.5-.3l.5-.2l.5 .4l.5 0l.5-.5l.5-.1l.5 .4l.5 0l.5 .3l.5-.4l.5 .3l.5 0l.5-.2l.5 .1l.5-.6l.5 .1l.5 .3l.5-.1l.5 0l.5 .1l.5-.4l.5 .7l.5-.2l.5 .1l.5-.8l.5 .3l.5-.3l.5 .2l.5 .4l.5 0l.5 .2l.5-.5l.5 .5l.5-.5l.5 .4l.5 .1l.5-.6l.5 .2l.5 .2l.5 .1l.5-.6l.5-.1l.5 .1l.5 .5l.5 0l.5-.1l.5 .2l.5-.1l.5-.1l.5 .3l.5-1l.5 .2l.5 0l.5 .4l.5-.7l.5 1.1l.5 0l.5-.1l.5-1l.5 .7l.5-.2l.5 .4l.5-.5l.5 0l.5-.5l.5 .6l.5 .1l.5-.7l.5-.9l.5 .1l.5-.7l.5-.2l.5-1l.5-.9l.5-1.4l.5-1.7l.5-1.8l.5-3.1l.5-1.9l.5-3.3l.5-3.1l.5-2.4l.5-2.9l.5-2.5l.5-2.3l.5-2.6l.5-1.9l.5-3.5l.5-4.6l.5-9.2l.5-15.4l.5-21.1l.5-19.8l.5-6.1l.5 16l.5 23.5l.5 17.1l.5 6.8l.5-1.2l.5-1.8l.5 4l.5 11.7l.5 12.2l.5 8.9l.5 5.9l.5 3.5l.5 2.2l.5 1.4l.5 1.1l.5 1l.5 .1l.5 .3l.5 .7l.5-.3l.5 .9l.5 0l.5 .4l.5-.1l.5 0l.5 .2l.5 .1l.5 .1l.5 0l.5 .2l.5-.4l.5 .6l.5-.5l.5 .9l.5-.9l.5 .3l.5 .7l.5-.3l.5-.6l.5 .6l.5-.3l.5-.3l.5 .9l.5-.4l.5 .6l.5-.7l.5 .1l.5 .3l.5-.5l.5 .2l.5-.6l.5 .9l.5 .1l.5 0l.5-.3l.5-.4l.5 .8l.5-.6l.5 .1l.5 .6l.5-.3l.5 0l.5 .5l.5-.8l.5 .4l.5-.6l.5 .2l.5 .1l.5 .1l.5-.1l.5-.5l.5 .3l.5 .4l.5-.6l.5 .8l.5 0l.5-.8l.5 0l.5 1l.5-.3l.5-.5l.5 .1l.5 0l.5 .2l.5-.4l.5 .8l.5-.7l.5 .1l.5 .2l.5 .2l.5-.2l.5 0l.5 .4l.5-.4l.5 0l.5 .3l.5-.1l.5-.2l.5-.2l.5 .4l.5 0l.5 0l.5-.4l.5-.3l.5 .1l.5 1.1l.5-.8l.5-.1l.5 .1l.5-.3l.5 .1l.5 .5l.5 .1l.5-.6l.5 .3l.5-.1l.5 .2l.5-.2l.5 0l.5 0l.5-.1l.5-.1l.5 .4l.5 .1l.5-.6l.5 .6l.5-.4l.5 .5l.5-.2l.5-.8l.5 .2l.5 .5l.5 .1l.5 0l.5-.3l.5 .3l.5-.8l.5 1l.5-.2l.5-.2l.5 .4l.5-.7l.5 .6l.5 0l.5-.2l.5 .2l.5-.3l.5 .7l.5-1.2l.5 .6l.5 .2l.5 .1l.5 .3l.5-.6l.5-.1l.5 .2l.5-.2l.5 .2l.5-.2l.5-.4l.5 .9l.5-.7l.5 .6l.5 .1l.5-.4l.5 .4l.5-.7l.5 .2l.5 .2l.5 .3l.5-.6l.5 0l.5 .4l.5 .1l.5-.6l.5 .7l.5 .2l.5-.3l.5 .1l.5 .1l.5-.6l.5 .4l.5-.4l.5 .3l.5-.1l.5-.1l.5-.3l.5 .1l.5-.2l.5 .2l.5 .1l.5 .5l.5-.2l.5 0l.5-.4l.5 0l.5 .2l.5 .4l.5-.8l.5 .2l.5 .4l.5-.2l.5 .4l.5-.2l.5-.3l.5 0l.5 0l.5 .1l.5 .4l.5-.4l.5 0l.5 .4l.5-.2l.5 .4l.5-.3l.5-.3l.5 .4l.5-.4l.5 .3l.5-.1l.5 .4l.5 0l.5-.4l.5 0l.5-.3l.5 0l.5 .3l.5 0l.5-.4l.5 .4l.5-.2l.5 .4l.5-.6l.5 .6l.5-.3l.5-.2l.5 .2l.5-.1l.5-.3l.5 0l.5 .7l.5-.3l.5 .3l.5 .2l.5-.6l.5 0l.5-.3l.5 .5l.5-.4l.5-.1l.5 .4l.5 .3l.5-.2l.5-.6l.5 1.2l.5-.3l.5-.2l.5 .2l.5-.4l.5 .2l.5 .1l.5-.2l.5 .4l.5-.6l.5 .3l.5-.1l.5-.4l.5 .1l.5-.1l.5 .8l.5-.4l.5-.5l.5 .3l.5-.1l.5 .7l.5-.9l.5 .9l.5-.6l.5 .3l.5-.3l.5-.5l.5 1l.5-.1l.5-.1l.5 0l.5 .2l.5-.7l.5 .2l.5 .3l.5-.5l.5 .2l.5-.2l.5 .6l.5-.5l.5 .5l.5-.1l.5 0l.5-.3l.5 .4l.5-.7l.5 .7l.5-.7l.5 .7l.5-.2l.5-.1l.5 .2l.5 0l.5-.2l.5 .1l.5-.6l.5 .8l.5-.5l.5 .5l.5-.3l.5 .3l.5-.5l.5 0l.5 .4l.5-.2l.5-.2l.5 .4l.5-.5l.5 .1l.5 .3l.5-.1l.5 0l.5 .1l.5-.4l.5 .4l.5-.1l.5 .1l.5-.1l.5-.5l.5 .8l.5-.8l.5 .4l.5 .2l.5 .5l.5-.9l.5 .4l.5 0l.5 0l.5-.3l.5 .5l.5-.5l.5 .1l.5 .1l.5 .2l.5-.4l.5 .3l.5-.1l.5-.1l.5-.3l.5 .4l.5 .2l.5-.1l.5 .3l.5-.4l.5 .4l.5-.3l.5 0l.5 .3l.5-.3l.5-.2l.5 .4l.5-.1l.5-.4l.5 0l.5 .4l.5 .1l.5-.3l.5 .3l.5-.4l.5 .5l.5-1l.5 .9l.5 0l.5-.2l.5-.4l.5 .3l.5-.3l.5 .7l.5-.9l.5 .6l.5-.3l.5-.4l.5 .7l.5 .5l.5-.1l.5-.6l.5 .2l.5 .1l.5 .3l.5-.4l.5 .5l.5-.5l.5 .1l.5-.1l.5 0l.5 .1l.5-.1l.5 .6l.5-1.1l.5 1l.5-.2l.5-.2l.5 .3l.5 0l.5-.6l.5-.2l.5 1.2l.5-.5l.5-.1l.5 .6l.5-.8l.5-.1l.5 .5l.5-.3l.5-.1l.5-.2l.5 .3l.5-.4l.5 .7l.5-.7l.5 .1l.5 .1l.5-.3l.5 .9l.5-.7l.5 .4l.5-.6l.5 1.2l.5-.7l.5 .2l.5-.3l.5 .1l.5-.4l.5 .2l.5 .2l.5-.6l.5 .2l.5 .7l.5-.2l.5-.3l.5 .3l.5-.3l.5 .4l.5-.6l.5-.3l.5 .3l.5 .7l.5-1l.5 .3l.5 .1l.5-.4l.5 .4l.5-.3l.5 .3l.5-.4l.5 .3l.5-.6l.5-.6l.5 1l.5-.5l.5-1l.5-.6l.5-1l.5-.3l.5-2.1l.5-1l.5-1.9l.5-2.4l.5-1.5l.5-3.2l.5-1.9l.5-2.5l.5-2.1l.5-2.6l.5-1.3l.5-1.5l.5-2.6l.5-2.6l.5-5.5l.5-10.2l.5-15.9l.5-16.9l.5-11.2l.5 7.8l.5 18.4l.5 19.2l.5 12.1l.5 6.2l.5-1.7l.5-5.9l.5-4.5l.5 2.9l.5 8.4l.5 9.2l.5 7.3l.5 4.8l.5 2.5l.5 1.1l.5 1.2l.5 1.1l.5 .5l.5 .5l.5 .2l.5 0l.5 .1l.5 .7l.5-.7l.5 .3l.5 .7l.5-.1l.5-.4l.5-.3l.5 .2l.5 .6l.5-.3l.5 .4l.5-.6l.5 .8l.5-.5l.5 .4l.5 .5l.5-.4l.5 .1l.5-.6l.5 .1l.5-.1l.5 .8l.5-.6l.5 .4l.5 .4l.5-.9l.5 .4l.5-.5l.5 .7l.5-.2l.5 .3l.5-.1l.5 .2l.5-.8l.5 .1l.5 .6l.5-.1l.5-.2l.5-.2l.5 .1l.5-.2l.5 .5l.5-.4l.5 .3l.5-.5l.5 .9l.5-.4l.5-.1l.5-.1l.5-.2l.5 .5l.5 .1l.5 .3l.5-.5l.5-.4l.5 .2l.5 .3l.5-.3l.5-.3l.5 .9l.5-.6l.5 .1l.5 .8l.5-1l.5 .5l.5 .1l.5-.3l.5-.1l.5 0l.5 .2l.5-.3l.5 .6l.5 .2l.5-1.3l.5 1l.5-.3l.5 .1l.5 .1l.5-.2l.5 .2l.5-.4l.5 .5l.5 .1l.5-.2l.5 .2l.5-.5l.5 .4l.5 .1l.5-.5l.5 .2l.5-.2l.5 0l.5 .7l.5-.5l.5-.2l.5 .1l.5 .1l.5 .9l.5-.6l.5-.5l.5 .2l.5-.1l.5-.2l.5 .1l.5-.1l.5 .1l.5 .1l.5-.8l.5-.1l.5-.1l.5 .1l.5-.8l.5-.3l.5 .1l.5-.9l.5-.6l.5 .5l.5-.7l.5 0l.5-.7l.5-.6l.5-.6l.5 .1l.5-1.9l.5-3.1l.5-3.5l.5-3.3l.5 .8l.5 2.7l.5 4.4l.5 3.1l.5 1.2l.5 .9l.5-1.8l.5-.9l.5-1.1l.5 .8l.5 1.6l.5 2l.5 .7l.5 1.6l.5 .2l.5 .1l.5 0l.5 .5l.5-.1l.5 .2l.5-.1l.5 .6l.5 .1l.5-.6l.5 .7l.5-.2l.5-.2l.5 .2l.5-.3l.5 .3l.5-.2l.5 .4l.5-.5l.5 .2l.5 .2l.5 .1l.5-.7l.5 1l.5-.7l.5 0l.5 .2l.5-.6l.5 .1l.5 .3l.5-.3l.5 .9l.5-.5l.5 0l.5 .1l.5 .2l.5 0l.5-.4l.5 .5l.5 0l.5 .3l.5-.6l.5 0l.5-.2l.5-.2l.5 .3l.5-.3l.5 .3l.5 .5l.5-.1l.5 .2l.5-.9l.5 .7l.5-.2l.5 0l.5 .2l.5-.2l.5 0l.5-.3l.5 .8l.5-.7l.5 .4l.5-.5l.5 0l.5 .4l.5-.3l.5 .4l.5-.2l.5 .1l.5 .2l.5-.7l.5 .5l.5-.8l.5 .4l.5 0l.5-.2l.5 .4l.5-.1l.5-.2l.5 .8l.5-.6l.5 0l.5 0l.5 .3l.5-.1l.5-.2l.5 .9l.5-.4l.5-.3l.5-.7l.5 .7l.5-.1l.5-.1l.5-.2l.5 .6l.5 .1l.5-.5l.5-.3l.5 0l.5 .4l.5-.3l.5 .2l.5 .4l.5 0l.5-.3l.5-.4l.5 .7l.5-.1l.5-.4l.5 .3l.5 .2l.5 .3l.5-.5l.5 .2l.5-.3l.5 .2l.5-.1l.5 .3l.5-.7l.5 .4l.5-.7l.5 .3l.5 .1l.5 0l.5 .2l.5 .2l.5 .2l.5-.2l.5 0l.5 0l.5 .2l.5-.4l.5 .8l.5-.4l.5-.4l.5-.6l.5 .6l.5 0l.5 .2l.5 0l.5 .4l.5-.9l.5 .4l.5 .2l.5 .1l.5-.7l.5 .8l.5-.6l.5 0l.5 .3l.5 .1l.5-.1l.5 .1l.5-.2l.5 .3l.5-.5l.5 .2l.5 .1l.5-.1l.5 .2l.5-.4l.5 0l.5 .5l.5-.3l.5 .1l.5 .1l.5 .1l.5-.6l.5 .7l.5-.8l.5 .6l.5-.6l.5 .3l.5 0l.5 .2l.5 0l.5-.5l.5 .3l.5 0l.5 .1l.5-.2l.5-.1l.5 .3l.5 .2l.5-.8l.5 .9l.5-.3l.5 .2l.5-.4l.5-.1l.5 .5l.5-.3l.5-.1l.5 .2l.5 .3l.5 0l.5 .1l.5-.4l.5-.5l.5 .9l.5-.4l.5-.4l.5 .2l.5 0l.5-.2l.5 .4l.5 .1l.5 0l.5 .1l.5-.1l.5-.6l.5 .3l.5 .4l.5-.2l.5 0l.5-.2l.5 .3l.5-.2l.5 .2l.5 .1l.5 .3l.5-.3l.5-.3l.5-.3l.5 .9l.5-.2l.5-.8l.5 .5l.5 .3l.5-.4l.5 .2l.5-.3l.5 .5l.5-.1l.5-.5l.5 .4l.5-.4l.5 .5l.5-.6l.5 .6l.5-.4l.5-.1l.5 .6l.5-.3l.5 0l.5 0l.5-.4l.5 .5l.5-.3l.5 .4l.5 .2l.5-.1l.5-.4l.5-.2l.5 .8l.5-.5l.5 .2l.5-.7l.5 .3l.5 .2l.5-.3l.5 .4l.5-.3l.5 .2l.5-.4l.5 .6l.5 .1l.5-.2l.5-.4l.5-.2l.5 .2l.5 .2l.5-.1l.5 .1l.5 .5l.5-.5l.5-.4l.5 .9l.5-.2l.5 .4l.5-.4l.5-.1l.5 .2l.5-.1l.5 .6l.5-1.1l.5 .3l.5 0l.5-.3l.5 1.2l.5-.7l.5 .1l.5 .1l.5-.6l.5 .4l.5 .2l.5-.5l.5 .8l.5-.4l.5 .2l.5-.3l.5-.4l.5-.2l.5 .7l.5-.1l.5 .1l.5-.7l.5 1.2l.5-.9l.5-.1l.5 .6l.5-.5l.5 .6l.5-.2l.5-.5l.5-.3l.5 .6l.5 .2l.5-.5l.5 .5l.5-.2l.5-.1l.5 .2l.5-.1l.5 .2l.5-1.2l.5 .6l.5 .6l.5 .1l.5 .3l.5-.3l.5 .1l.5-.2l.5-.4l.5 .1l.5 .3l.5-.3l.5-.1l.5 .7l.5-.7l.5 .3l.5-.5l.5 .5l.5-.2l.5-.3l.5 1l.5-.7l.5 .1l.5 .1l.5 .2l.5-.5l.5 .4l.5-.1l.5-.8l.5 .7l.5-.7l.5 .6l.5-.3l.5 .2l.5 .2l.5-.2l.5 .4l.5-.1l.5 .3l.5-.7l.5 .2l.5 0l.5-.3l.5 .4l.5 .3l.5-.1l.5 0l.5-.2l.5-.1l.5-.2l.5 .2l.5-.1l.5 .3l.5 .1l.5-.2l.5 .4l.5-.3l.5-.2l.5 0l.5 .6l.5-.6l.5 .2l.5-.1l.5 .4l.5-.8l.5 1.1l.5-.7l.5-.1l.5 .6l.5-.5l.5 .1l.5-.4l.5 .5l.5-.1l.5-.3l.5-.1l.5 .1l.5 .8l.5-.4l.5-.5l.5 .1l.5-.1l.5 .9l.5-.3l.5-.3l.5 .4l.5-.7l.5 .6l.5 .1l.5-.7l.5 .1l.5 .6l.5 0l.5-.7l.5-.1l.5 .8l.5-.4l.5 .2l.5 0l.5 .2l.5-1l.5 .6l.5 .2l.5-.1l.5-.3l.5-.1l.5 1.1l.5-1.2l.5 1.1l.5-.6l.5-.1l.5-.3l.5 .5l.5-.1l.5 0l.5-.1l.5-.1l.5 0l.5 0l.5 0l.5 .2l.5-.3l.5 .6l.5-.5l.5 .1l.5 .2l.5 0l.5-.2l.5 .2l.5 .2l.5-.6l.5 .4l.5 0l.5-.3l.5 .1l.5 .1l.5-.1l.5-.2l.5 .3l.5-.1l.5 .6l.5-.5l.5 .3l.5-.6l.5 .3l.5-.3l.5 .1l.5 .6l.5-.2l.5-.7l.5 .6l.5-.5l.5 .4l.5 .2l.5-.2l.5-.2l.5 .5l.5-.3l.5 .3l.5 0l.5-.1l.5-.5l.5 .4l.5-.3l.5 .3l.5-.1l.5 0l.5 0l.5 .2l.5-.1l.5 .2l.5-.1l.5-.3l.5 0l.5 .1l.5-.2l.5 .4l.5-.2l.5-.4l.5 .1l.5 .8l.5-.9l.5 .2l.5 .2l.5 .2l.5-.7l.5 .3l.5 0l.5 .7l.5-.5l.5 .5l.5-.7l.5-.1l.5 .3l.5-.1l.5-.2l.5 .1l.5 .1l.5 .4l.5-.3l.5-.1l.5-.2l.5 .3l.5-.2l.5-.2l.5 0l.5 .3l.5 .4l.5-.8l.5 0l.5 0l.5-.8l.5 .3l.5-.6l.5 0l.5-.6l.5-.7l.5 .4l.5-1.1l.5-.3l.5 .4l.5-.7l.5 .2l.5-1l.5-.6l.5-1.5l.5-2.8l.5-3.6l.5-2.7l.5 .9l.5 2.9l.5 3.8l.5 3.7l.5 .8l.5 1.4l.5-.1l.5-1.1l.5-.4l.5-1.9l.5-.7l.5 .6l.5 .3l.5 2.6l.5 .7l.5 1.1l.5 .5l.5 .4l.5 .1l.5 .4l.5-.3l.5-.1l.5 .9l.5-.2l.5-.4l.5 .6l.5-.1l.5 0l.5-.6l.5 .2l.5 .6l.5-.2l.5 0l.5-.5l.5 .2l.5-.1l.5 .3l.5 .5l.5-1l.5 .5l.5 0l.5-.1l.5-.9l.5 .8l.5 0l.5 .6l.5-.6l.5 .5l.5-.2l.5-.8l.5 .3l.5 .5l.5-.2l.5-.2l.5 .8l.5-.8l.5 .3l.5 .1l.5 0l.5-.7l.5 .5l.5 .3l.5 .3l.5-.7l.5 .3l.5 .3l.5-.2l.5-.4l.5-.1l.5 1l.5-.3l.5-.8l.5 .6l.5-.2l.5-.2l.5 .5l.5-.2l.5-.2l.5 .3l.5 .1l.5-.4l.5 .1l.5 .5l.5-.9l.5 .7l.5-.2l.5-.1l.5 .1l.5 .3l.5 .2l.5-.2l.5 0l.5-.6l.5-.1l.5 .7l.5-.1l.5-.2l.5 .2l.5 .1l.5 0l.5-1l.5 .4l.5 .5l.5-.3l.5 .3l.5-.6l.5 .5l.5 .5l.5-.8l.5 .1l.5-.6l.5 .8l.5-.1l.5-.1l.5-.1l.5-.1l.5 0l.5 .3l.5 .5l.5-.8l.5 .1l.5 0l.5 .1l.5 .3l.5-.1l.5-.3l.5 .1l.5-.1l.5-.1l.5-.1l.5 .6l.5-.4l.5 .1l.5 .6l.5-.9l.5 .6l.5-.1l.5 .1l.5-.1l.5-.1l.5 .3l.5-.6l.5-.1l.5-.4l.5 .8l.5 .2l.5-.1l.5-.5l.5 .1l.5 .1l.5 .1l.5 .1l.5 .5l.5 .1l.5-.7l.5 .7l.5 0l.5-.3l.5-.2l.5-.5l.5 1.1l.5-.4l.5-.6l.5 .3l.5 0l.5 .2l.5-.7l.5 .3l.5 .2l.5-.4l.5 .3l.5 0l.5-.1l.5 .4l.5-1.1l.5 .8l.5-.2l.5 1l.5-.6l.5-.5l.5 .5l.5 0l.5 .3l.5-.3l.5 .3l.5-.6l.5 0l.5 .3l.5-.1l.5-.5l.5 .3l.5 .5l.5-.7l.5 1.1l.5-1.1l.5 .9l.5-.7l.5 .5l.5 0l.5-.3l.5 .2l.5-.1l.5-.1l.5 0l.5 0l.5 0l.5 .3l.5-.1l.5-.3l.5-.7l.5 1l.5 0l.5-.1l.5-.1l.5-.2l.5 0l.5 .3l.5 .1l.5-.3l.5 .1l.5 .4l.5-.5l.5 .5l.5-.4l.5 .1l.5 0l.5-.3l.5 0l.5 .5l.5-.2l.5 .3l.5-.4l.5 0l.5-.1l.5 .4l.5-.4l.5-.1l.5 .4l.5-.3l.5-.2l.5 .2l.5-.7l.5 .5l.5 1.1l.5-1l.5 .4l.5-.6l.5 .9l.5-.3l.5-.2l.5 .2l.5 .4l.5-.7l.5 .1l.5 0l.5-.6l.5 .1l.5 .4l.5-.4l.5 .3l.5 .1l.5 0l.5-.1l.5 0l.5 .3l.5-.8l.5 .7l.5-.3l.5 .8l.5-.6l.5 0l.5 0l.5-.2l.5 .5l.5-.8l.5 .9l.5-.3l.5 .5l.5-.5l.5-.2l.5 .2l.5 0l.5-.1l.5 .3l.5-.1l.5 .1l.5-.2l.5 0l.5-.3l.5-.3l.5 .8l.5 0l.5-.2l.5 .3l.5 0l.5-.3l.5-.6l.5 .4l.5 .2l.5-.1l.5-.2l.5-.3l.5 .4l.5 .2l.5 .2l.5-.3l.5 .7l.5-.8l.5 0l.5 .5l.5 .2l.5 .1l.5-.3l.5-.3l.5 .7l.5-.7l.5 .4l.5-.7l.5 .4l.5 .3l.5-.7l.5 0l.5 .8l.5-.2l.5-.1l.5-.4l.5 .1l.5 0l.5 .3l.5-.1l.5-.4l.5 .1l.5 .1l.5 .1l.5 .2l.5-.3l.5-.3l.5 .2l.5-.2l.5 .7l.5-.5l.5 .1l.5 .1l.5-.2l.5 .2l.5 0l.5-.2l.5 .3l.5-.3l.5 .3l.5-.2l.5 .1l.5 .3l.5-.4l.5 .2l.5-.2l.5 .2l.5 0l.5-.3l.5-.1l.5 .4l.5 .8l.5-.5l.5-.2l.5-.3l.5 .9l.5-.8l.5-.3l.5 .3l.5 .3l.5-.4l.5-.3l.5 0l.5 .1l.5 .4l.5-.4l.5 .1l.5 0l.5 .3l.5-.8l.5-.5l.5 .5l.5-1l.5 .1l.5-.9l.5-.1l.5-1.3l.5 .2l.5-.6l.5-1l.5-.7l.5-.1l.5-.9l.5-1l.5-.3l.5-.8l.5-1.7l.5-2.8l.5-4.8l.5-6.6l.5-6.5l.5-1l.5 5l.5 7l.5 7.2l.5 4.4l.5 2.7l.5 1.5l.5 .5l.5-.7l.5-1.1l.5-2.5l.5-2.9l.5-2.2l.5 .4l.5 3.2l.5 3.5l.5 2.3l.5 1.5l.5 .3l.5 1.4l.5-.3l.5 .5l.5 .3l.5-.1l.5 .4l.5-.2l.5-.2l.5 .2l.5-.5l.5 .9l.5-.1l.5 .1l.5 0l.5-.8l.5 .7l.5-.5l.5 .9l.5 0l.5-.5l.5 .7l.5-.6l.5 0l.5-.3l.5 .2l.5 .1l.5 .5l.5-.3l.5-.6l.5 .7l.5-.7l.5 .5l.5 .2l.5-.1l.5-.5l.5 1.2l.5-.8l.5-.1l.5 .3l.5-.3l.5 .5l.5-.3l.5-.2l.5-.1l.5 .1l.5 .4l.5-.6l.5 0l.5-.1l.5 .4l.5 .3l.5 .1l.5 .1l.5-.8l.5 .5l.5 .1l.5-.3l.5-.3l.5 .3l.5 .2l.5 0l.5-.6l.5 .6l.5 .6l.5-1.1l.5 .7l.5-.2l.5-.1l.5-.2l.5-.2l.5 .8l.5-.3l.5 0l.5-.7l.5 .2l.5 .3l.5 .7l.5-.9l.5 .6l.5-.1l.5-.5l.5-.2l.5 .2l.5 .5l.5-.2l.5-.1l.5-.2l.5-.2l.5 .2l.5 .5l.5-.4l.5 .1l.5-1.2l.5 .8l.5-.2l.5-1.1l.5-.1l.5-.1l.5-.7l.5-.8l.5-.2l.5-.3l.5-.6l.5-.1l.5-.6l.5-.3l.5-1.3l.5-1.1l.5-2.7l.5-3.7l.5-3.9l.5-3.3l.5 2.6l.5 4.2l.5 5.2l.5 3.4l.5 1.5l.5 1.5l.5 1l.5 .1l.5-.5l.5-.6l.5-.7l.5-2.2l.5-1.4l.5-1.2l.5 .7l.5 2.2l.5 1.8l.5 1.8l.5 .6l.5 .9l.5 .3l.5-.2l.5-.1l.5 .5l.5-.2l.5 .1l.5-.2l.5 .4l.5-.4l.5 .5l.5-.4l.5 .4l.5 .4l.5-.4l.5 0l.5-.2l.5-.1l.5 .4l.5 .1l.5-.4l.5 .2l.5-.6l.5 .7l.5-.1l.5 0l.5 .2l.5 .1l.5-.6l.5 .4l.5-.1l.5 .1l.5-.5l.5 .8l.5-.6l.5 .4l.5-.1" stroke="#ff00ff" stroke-width="9.4"/>
</g>
<g font-family="'Liberation Serif',serif" font-size="77" fill="#000">
<text transform="translate(434.5,305.6) scale(.981,1)">Cu-Pt/Ce-Al</text>
<text transform="translate(439.8,538.7) scale(.981,1)">Cu-Pt/Ce</text>
<text transform="translate(439.8,726.3) scale(.981,1)">Cu-Pt/Al</text>
<text transform="translate(439.8,1029.3) scale(.981,1)">Cu/Ce-Al</text>
<text transform="translate(439.8,1351.6) scale(.981,1)">Cu/Ce</text>
<text transform="translate(439.8,1502.3) scale(.981,1)">Cu/Al</text>
</g>
<g font-family="'Liberation Sans',sans-serif" font-size="63.5" text-anchor="middle" fill="#000">
<text transform="translate(196.0,1738) scale(.975,1)">0</text>
<text transform="translate(745.1,1738) scale(.975,1)">20</text>
<text transform="translate(1294.2,1738) scale(.975,1)">40</text>
<text transform="translate(1843.4,1738) scale(.975,1)">60</text>
<text transform="translate(2392.5,1738) scale(.975,1)">80</text>
</g>
<text transform="translate(72,1099) rotate(-90) scale(1.012,1)" font-family="'Liberation Serif',serif" font-size="77" font-weight="bold">Intensity/a.u.</text>
<text font-family="'Liberation Serif',serif" fill="#000"><tspan x="1231.6" y="1863" font-size="79" font-weight="bold">2</tspan><tspan x="1270.6" y="1863.6" font-size="73.5" font-weight="bold">θ</tspan><tspan x="1308.8" y="1863.1" font-size="69">/</tspan><tspan x="1327.6" y="1862.2" font-size="71">°</tspan></text>
<g font-family="'DejaVu Serif','DejaVu Sans',serif" font-size="70" fill="#000">
<text transform="translate(1003.3,209.8) scale(-1.001,0.992)">∇</text>
<text transform="translate(1130.2,318.6) scale(-1.001,0.992)">∇</text>
<text transform="translate(1528.3,251.4) scale(-1.001,0.992)">∇</text>
<text transform="translate(1773.7,292.6) scale(-1.001,0.992)">∇</text>
<text transform="translate(1012.1,460.1) scale(-1.001,0.992)">∇</text>
<text transform="translate(1137.9,573.6) scale(-1.001,0.992)">∇</text>
<text transform="translate(1531.0,564.6) scale(-1.001,0.992)">∇</text>
<text transform="translate(1772.7,596.6) scale(-1.001,0.992)">∇</text>
<text transform="translate(1012.1,846.1) scale(-1.001,0.992)">∇</text>
<text transform="translate(1133.0,1042.9) scale(-1.001,0.992)">∇</text>
<text transform="translate(1526.4,989.1) scale(-1.001,0.992)">∇</text>
<text transform="translate(1772.2,1025.3) scale(-1.001,0.992)">∇</text>
<text transform="translate(1017.0,1192.1) scale(-1.001,0.992)">∇</text>
<text transform="translate(1140.4,1358.6) scale(-1.001,0.992)">∇</text>
<text transform="translate(1535.8,1339.9) scale(-1.001,0.992)">∇</text>
<text transform="translate(1787.4,1380.8) scale(-1.001,0.992)">∇</text>
<text transform="translate(2140.9,312.9) scale(-1.001,0.992)">∇</text>
</g>
<circle cx="2041.4" cy="611.5" r="12.6" fill="#000"/>
<circle cx="1216.5" cy="708.4" r="12.6" fill="#000"/>
<circle cx="1459.3" cy="709.4" r="12.6" fill="#000"/>
<circle cx="2030.4" cy="709.5" r="12.6" fill="#000"/>
<circle cx="2108.3" cy="1092.3" r="12.6" fill="#000"/>
<circle cx="1227.5" cy="1474.3" r="12.6" fill="#000"/>
<circle cx="1456.6" cy="1469.5" r="12.6" fill="#000"/>
<circle cx="2031.4" cy="1480.0" r="12.6" fill="#000"/>
<circle cx="2107.5" cy="169.6" r="12.6" fill="#000"/>
<path d="M2039.0 1394.2l16 20.3l-16 20.3l-16-20.3z" fill="#000"/>
<path d="M2116.9 56.2l16 20.3l-16 20.3l-16-20.3z" fill="#000"/>
<g font-family="'Liberation Serif',serif" font-size="77" fill="#000">
<text transform="translate(2144.5,94) scale(.981,1)">–CuO</text>
<text transform="scale(.981,1)"><tspan x="2164.6" y="190">–</tspan><tspan x="2202.9">γ</tspan><tspan x="2232.9" stroke="#000" stroke-width="1.1">-</tspan><tspan x="2256.9">Al</tspan><tspan x="2335.4" dy="30.5" font-size="46">2</tspan><tspan x="2359.0" dy="-30.5">O</tspan><tspan x="2414.4" dy="30.5" font-size="46">3</tspan></text>
<text transform="translate(2140.5,312) scale(.981,1)">–CeO<tspan dx="1" dy="30" font-size="46">2</tspan></text>
</g>
</svg>
</body></html>
